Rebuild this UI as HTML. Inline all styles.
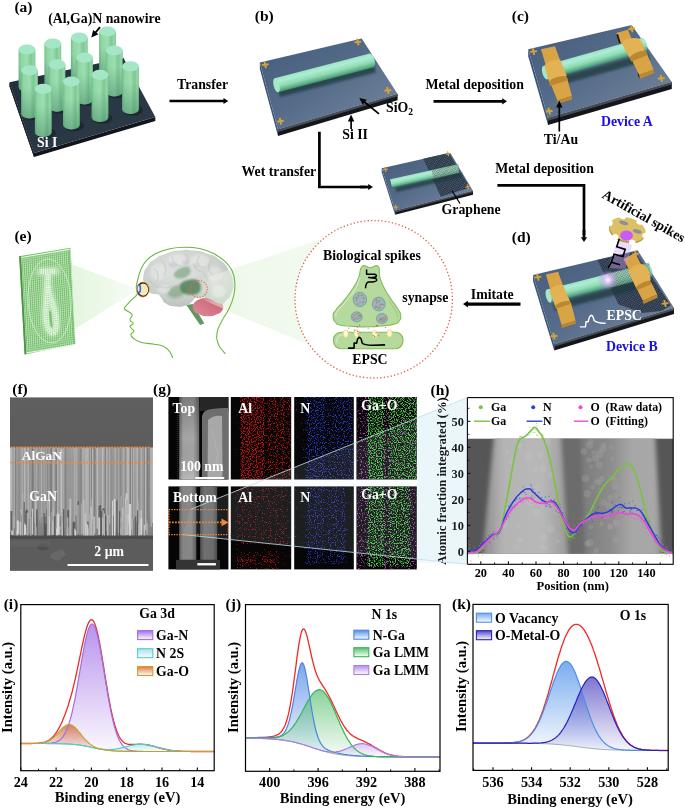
<!DOCTYPE html>
<html><head><meta charset="utf-8"><title>Figure</title>
<style>html,body{margin:0;padding:0;background:#fff}svg{display:block}text{font-family:'Liberation Serif', serif;white-space:pre}</style>
</head><body>
<svg width="685" height="808" viewBox="0 0 685 808">
<defs>
<linearGradient id="cylg" x1="0" x2="1" y1="0" y2="0">
 <stop offset="0" stop-color="#72be8c"/><stop offset="0.15" stop-color="#90d6a4"/><stop offset="0.5" stop-color="#9cdeb0"/><stop offset="0.74" stop-color="#7ec894"/><stop offset="0.9" stop-color="#94daa8"/><stop offset="1" stop-color="#78c290"/>
</linearGradient>
<linearGradient id="rodg" x1="0" x2="0" y1="0" y2="1">
 <stop offset="0" stop-color="#9fe3c4"/><stop offset="0.25" stop-color="#aceed2"/><stop offset="0.6" stop-color="#90dab6"/><stop offset="0.85" stop-color="#60b38c"/><stop offset="1" stop-color="#3f8d68"/>
</linearGradient>
<linearGradient id="plateg" x1="0" x2="1" y1="0" y2="1"><stop offset="0" stop-color="#465c7c"/><stop offset="0.45" stop-color="#536a88"/><stop offset="0.8" stop-color="#6c7e98"/><stop offset="1" stop-color="#8290a4"/></linearGradient>
<linearGradient id="goldg" x1="0" x2="1" y1="0" y2="0">
 <stop offset="0" stop-color="#c8943a"/><stop offset="0.5" stop-color="#dcaa4a"/><stop offset="1" stop-color="#c08a34"/>
</linearGradient>
<linearGradient id="cone1" x1="0" x2="1"><stop offset="0" stop-color="#e4f5de"/><stop offset="1" stop-color="#f6fcf4"/></linearGradient><linearGradient id="cone2" x1="0" x2="1"><stop offset="0" stop-color="#edf8e9"/><stop offset="1" stop-color="#f2faef"/></linearGradient><filter id="blur1" x="-30%" y="-30%" width="160%" height="160%"><feGaussianBlur stdDeviation="1.6"/></filter><radialGradient id="brg" cx="0.4" cy="0.35" r="0.7"><stop offset="0" stop-color="#e1e4e1"/><stop offset="0.7" stop-color="#cacecb"/><stop offset="1" stop-color="#b8beba"/></radialGradient><filter id="blur2" x="-30%" y="-30%" width="160%" height="160%"><feGaussianBlur stdDeviation="1.1"/></filter><linearGradient id="cbl" x1="0" x2="1" y1="1" y2="0"><stop offset="0" stop-color="#df8d99"/><stop offset="1" stop-color="#c85c70"/></linearGradient><linearGradient id="cone3" x1="0" x2="1"><stop offset="0" stop-color="#e6f5e1" stop-opacity="0"/><stop offset="0.35" stop-color="#edf8e9" stop-opacity="0.45"/><stop offset="1" stop-color="#edf8e9" stop-opacity="0.55"/></linearGradient><linearGradient id="cylsh" x1="0" x2="0" y1="0" y2="1"><stop offset="0.35" stop-color="#2a6a50" stop-opacity="0"/><stop offset="1" stop-color="#2a6a50" stop-opacity="0.38"/></linearGradient><linearGradient id="plA" x1="0" x2="1" y1="0" y2="1"><stop offset="0" stop-color="#1f2b38"/><stop offset="0.6" stop-color="#2a3744"/><stop offset="1" stop-color="#2e3d46"/></linearGradient><pattern id="gp1" width="2.7" height="2.43" patternUnits="userSpaceOnUse" patternTransform="rotate(-14)"><rect width="2.7" height="2.43" fill="#546a86"/><circle cx="1.35" cy="1.22" r="0.89" fill="none" stroke="#12161d" stroke-width="0.75"/></pattern><pattern id="gp1b" width="2.7" height="2.43" patternUnits="userSpaceOnUse" patternTransform="rotate(-14)"><circle cx="1.35" cy="1.22" r="0.89" fill="none" stroke="#123028" stroke-width="0.45"/></pattern><pattern id="gp2" width="2.9" height="2.61" patternUnits="userSpaceOnUse" patternTransform="rotate(-14)"><rect width="2.9" height="2.61" fill="#546a86"/><circle cx="1.45" cy="1.30" r="0.96" fill="none" stroke="#12161d" stroke-width="0.85"/></pattern><pattern id="gp2b" width="2.9" height="2.61" patternUnits="userSpaceOnUse" patternTransform="rotate(-14)"><circle cx="1.45" cy="1.30" r="0.96" fill="none" stroke="#123028" stroke-width="0.5"/></pattern><radialGradient id="glow"><stop offset="0" stop-color="#fff"/><stop offset="0.22" stop-color="#f0d0ff" stop-opacity="0.95"/><stop offset="1" stop-color="#c070f0" stop-opacity="0"/></radialGradient><clipPath id="cf"><rect x="10" y="397.2" width="143" height="173.59999999999997"/></clipPath><linearGradient id="semtop" x1="0" x2="0" y1="0" y2="1"><stop offset="0" stop-color="#5f5f5f"/><stop offset="1" stop-color="#575757"/></linearGradient><linearGradient id="semw" x1="0" x2="0" y1="0" y2="1"><stop offset="0" stop-color="#a2a2a2"/><stop offset="0.18" stop-color="#969696"/><stop offset="0.7" stop-color="#8c8c8c"/><stop offset="1" stop-color="#808080"/></linearGradient><clipPath id="ch"><rect x="467.4" y="438.4" width="205.8" height="115.4"/></clipPath><filter id="blur3" x="-10%" y="-10%" width="120%" height="120%"><feGaussianBlur stdDeviation="2.2"/></filter><linearGradient id="hw1" x1="0" x2="1"><stop offset="0" stop-color="#8c8c8c"/><stop offset="0.25" stop-color="#b4b4b4"/><stop offset="0.7" stop-color="#b8b8b8"/><stop offset="1" stop-color="#9a9a9a"/></linearGradient><linearGradient id="hw2" x1="0" x2="1"><stop offset="0" stop-color="#7c7c7c"/><stop offset="0.4" stop-color="#8e8e8e"/><stop offset="0.6" stop-color="#a6a6a6"/><stop offset="0.9" stop-color="#a8a8a8"/><stop offset="1" stop-color="#909090"/></linearGradient><linearGradient id="temw" x1="0" x2="1"><stop offset="0" stop-color="#6c6c6c"/><stop offset="0.2" stop-color="#a4a4a4"/><stop offset="0.7" stop-color="#a8a8a8"/><stop offset="1" stop-color="#707070"/></linearGradient><linearGradient id="temw2" x1="0" x2="1"><stop offset="0" stop-color="#4c4c4c"/><stop offset="0.25" stop-color="#707070"/><stop offset="0.75" stop-color="#6c6c6c"/><stop offset="1" stop-color="#484848"/></linearGradient><linearGradient id="temv" x1="0" x2="0" y1="0" y2="1"><stop offset="0" stop-color="#000" stop-opacity="0.25"/><stop offset="0.5" stop-color="#000" stop-opacity="0"/><stop offset="1" stop-color="#fff" stop-opacity="0.22"/></linearGradient><filter id="nzR" x="0" y="0" width="1" height="1" color-interpolation-filters="sRGB"><feTurbulence type="fractalNoise" baseFrequency="0.85" numOctaves="1" seed="1" result="n"/><feComposite in="n" in2="SourceGraphic" operator="arithmetic" k1="0" k2="7" k3="2.2" k4="-5.2" result="a"/><feFlood flood-color="#b41414" result="f"/><feComposite in="f" in2="a" operator="in"/></filter><filter id="nzR2" x="0" y="0" width="1" height="1" color-interpolation-filters="sRGB"><feTurbulence type="fractalNoise" baseFrequency="0.85" numOctaves="1" seed="2" result="n"/><feComposite in="n" in2="SourceGraphic" operator="arithmetic" k1="0" k2="7" k3="2.2" k4="-5.2" result="a"/><feFlood flood-color="#a01414" result="f"/><feComposite in="f" in2="a" operator="in"/></filter><filter id="nzB" x="0" y="0" width="1" height="1" color-interpolation-filters="sRGB"><feTurbulence type="fractalNoise" baseFrequency="0.85" numOctaves="1" seed="3" result="n"/><feComposite in="n" in2="SourceGraphic" operator="arithmetic" k1="0" k2="7" k3="2.2" k4="-5.2" result="a"/><feFlood flood-color="#2a36c4" result="f"/><feComposite in="f" in2="a" operator="in"/></filter><filter id="nzB2" x="0" y="0" width="1" height="1" color-interpolation-filters="sRGB"><feTurbulence type="fractalNoise" baseFrequency="0.85" numOctaves="1" seed="4" result="n"/><feComposite in="n" in2="SourceGraphic" operator="arithmetic" k1="0" k2="7" k3="2.2" k4="-5.2" result="a"/><feFlood flood-color="#2632b4" result="f"/><feComposite in="f" in2="a" operator="in"/></filter><filter id="nzG" x="0" y="0" width="1" height="1" color-interpolation-filters="sRGB"><feTurbulence type="fractalNoise" baseFrequency="0.85" numOctaves="1" seed="5" result="n"/><feComposite in="n" in2="SourceGraphic" operator="arithmetic" k1="0" k2="7" k3="2.2" k4="-5.2" result="a"/><feFlood flood-color="#3cc83c" result="f"/><feComposite in="f" in2="a" operator="in"/></filter><filter id="nzG2" x="0" y="0" width="1" height="1" color-interpolation-filters="sRGB"><feTurbulence type="fractalNoise" baseFrequency="0.85" numOctaves="1" seed="7" result="n"/><feComposite in="n" in2="SourceGraphic" operator="arithmetic" k1="0" k2="7" k3="2.2" k4="-5.2" result="a"/><feFlood flood-color="#3cc83c" result="f"/><feComposite in="f" in2="a" operator="in"/></filter><filter id="nzM" x="0" y="0" width="1" height="1" color-interpolation-filters="sRGB"><feTurbulence type="fractalNoise" baseFrequency="0.75" numOctaves="1" seed="6" result="n"/><feComposite in="n" in2="SourceGraphic" operator="arithmetic" k1="0" k2="7" k3="2.2" k4="-5.2" result="a"/><feFlood flood-color="#c838c8" result="f"/><feComposite in="f" in2="a" operator="in"/></filter><filter id="nzM2" x="0" y="0" width="1" height="1" color-interpolation-filters="sRGB"><feTurbulence type="fractalNoise" baseFrequency="0.75" numOctaves="1" seed="8" result="n"/><feComposite in="n" in2="SourceGraphic" operator="arithmetic" k1="0" k2="7" k3="2.2" k4="-5.2" result="a"/><feFlood flood-color="#c838c8" result="f"/><feComposite in="f" in2="a" operator="in"/></filter><linearGradient id="edg1" x1="0" x2="1"><stop offset="0" stop-color="#000" stop-opacity="0.1"/><stop offset="0.13" stop-color="#000" stop-opacity="0.15"/><stop offset="0.17" stop-color="#000" stop-opacity="0.86"/><stop offset="0.54" stop-color="#000" stop-opacity="0.86"/><stop offset="0.58" stop-color="#000" stop-opacity="0.45"/><stop offset="0.63" stop-color="#000" stop-opacity="0.7"/><stop offset="0.97" stop-color="#000" stop-opacity="0.7"/><stop offset="1" stop-color="#000" stop-opacity="0.3"/></linearGradient><linearGradient id="edg2" x1="0" x2="1"><stop offset="0" stop-color="#000" stop-opacity="0.15"/><stop offset="0.15" stop-color="#000" stop-opacity="0.2"/><stop offset="0.22" stop-color="#000" stop-opacity="0.72"/><stop offset="0.5" stop-color="#000" stop-opacity="0.74"/><stop offset="0.58" stop-color="#000" stop-opacity="0.55"/><stop offset="0.66" stop-color="#000" stop-opacity="0.68"/><stop offset="1" stop-color="#000" stop-opacity="0.68"/></linearGradient><linearGradient id="edg3" x1="0" x2="1"><stop offset="0" stop-color="#000" stop-opacity="0.15"/><stop offset="0.15" stop-color="#000" stop-opacity="0.2"/><stop offset="0.22" stop-color="#000" stop-opacity="0.68"/><stop offset="0.46" stop-color="#000" stop-opacity="0.68"/><stop offset="0.52" stop-color="#000" stop-opacity="0.48"/><stop offset="0.58" stop-color="#000" stop-opacity="0.66"/><stop offset="0.85" stop-color="#000" stop-opacity="0.66"/><stop offset="0.92" stop-color="#000" stop-opacity="0.2"/><stop offset="1" stop-color="#000" stop-opacity="0.15"/></linearGradient><linearGradient id="edg4" x1="0" x2="1"><stop offset="0" stop-color="#000" stop-opacity="0.35"/><stop offset="0.08" stop-color="#000" stop-opacity="0.6"/><stop offset="0.2" stop-color="#000" stop-opacity="0.55"/><stop offset="0.3" stop-color="#000" stop-opacity="0.42"/><stop offset="0.45" stop-color="#000" stop-opacity="0.6"/><stop offset="0.55" stop-color="#000" stop-opacity="0.6"/><stop offset="0.65" stop-color="#000" stop-opacity="0.45"/><stop offset="1" stop-color="#000" stop-opacity="0.5"/></linearGradient><linearGradient id="edg5" x1="0" x2="1"><stop offset="0" stop-color="#000" stop-opacity="0.1"/><stop offset="0.14" stop-color="#000" stop-opacity="0.15"/><stop offset="0.2" stop-color="#000" stop-opacity="0.86"/><stop offset="0.42" stop-color="#000" stop-opacity="0.86"/><stop offset="0.5" stop-color="#000" stop-opacity="0.5"/><stop offset="0.58" stop-color="#000" stop-opacity="0.82"/><stop offset="1" stop-color="#000" stop-opacity="0.82"/></linearGradient><linearGradient id="edg6" x1="0" x2="1"><stop offset="0" stop-color="#000" stop-opacity="0.4"/><stop offset="0.06" stop-color="#000" stop-opacity="0.62"/><stop offset="0.18" stop-color="#000" stop-opacity="0.55"/><stop offset="0.3" stop-color="#000" stop-opacity="0.42"/><stop offset="0.46" stop-color="#000" stop-opacity="0.6"/><stop offset="0.56" stop-color="#000" stop-opacity="0.6"/><stop offset="0.66" stop-color="#000" stop-opacity="0.42"/><stop offset="0.84" stop-color="#000" stop-opacity="0.5"/><stop offset="0.92" stop-color="#000" stop-opacity="0.62"/><stop offset="1" stop-color="#000" stop-opacity="0.5"/></linearGradient><linearGradient id="edg7" x1="0" x2="1"><stop offset="0" stop-color="#000" stop-opacity="0.1"/><stop offset="0.12" stop-color="#000" stop-opacity="0.15"/><stop offset="0.2" stop-color="#000" stop-opacity="0.8"/><stop offset="0.45" stop-color="#000" stop-opacity="0.8"/><stop offset="0.51" stop-color="#000" stop-opacity="0.48"/><stop offset="0.57" stop-color="#000" stop-opacity="0.78"/><stop offset="0.86" stop-color="#000" stop-opacity="0.76"/><stop offset="0.93" stop-color="#000" stop-opacity="0.2"/><stop offset="1" stop-color="#000" stop-opacity="0.1"/></linearGradient><linearGradient id="gGaN" x1="0" x2="0" y1="0" y2="1"><stop offset="0" stop-color="#a878e8" stop-opacity="0.8"/><stop offset="1" stop-color="#a878e8" stop-opacity="0.05"/></linearGradient><linearGradient id="gN2S" x1="0" x2="0" y1="0" y2="1"><stop offset="0" stop-color="#7fe0dc" stop-opacity="0.6"/><stop offset="1" stop-color="#7fe0dc" stop-opacity="0.05"/></linearGradient><linearGradient id="gGaO" x1="0" x2="0" y1="0" y2="1"><stop offset="0" stop-color="#d07448" stop-opacity="0.85"/><stop offset="1" stop-color="#d07448" stop-opacity="0.05"/></linearGradient><linearGradient id="sw_gGaN" x1="0" x2="0" y1="0" y2="1"><stop offset="0" stop-color="#9a68ee" stop-opacity="0.95"/><stop offset="1" stop-color="#9a68ee" stop-opacity="0.02"/></linearGradient><linearGradient id="sw_gN2S" x1="0" x2="0" y1="0" y2="1"><stop offset="0" stop-color="#a4dcf2" stop-opacity="0.95"/><stop offset="1" stop-color="#a4dcf2" stop-opacity="0.02"/></linearGradient><linearGradient id="sw_gGaO" x1="0" x2="0" y1="0" y2="1"><stop offset="0" stop-color="#e0703c" stop-opacity="0.95"/><stop offset="1" stop-color="#e0703c" stop-opacity="0.02"/></linearGradient><linearGradient id="gNGa" x1="0" x2="0" y1="0" y2="1"><stop offset="0" stop-color="#5a90e8" stop-opacity="0.8"/><stop offset="1" stop-color="#5a90e8" stop-opacity="0.05"/></linearGradient><linearGradient id="gLMM1" x1="0" x2="0" y1="0" y2="1"><stop offset="0" stop-color="#58c070" stop-opacity="0.7"/><stop offset="1" stop-color="#58c070" stop-opacity="0.05"/></linearGradient><linearGradient id="gLMM2" x1="0" x2="0" y1="0" y2="1"><stop offset="0" stop-color="#b890e8" stop-opacity="0.7"/><stop offset="1" stop-color="#b890e8" stop-opacity="0.05"/></linearGradient><linearGradient id="sw_gNGa" x1="0" x2="0" y1="0" y2="1"><stop offset="0" stop-color="#4a86e8" stop-opacity="0.95"/><stop offset="1" stop-color="#4a86e8" stop-opacity="0.02"/></linearGradient><linearGradient id="sw_gLMM1" x1="0" x2="0" y1="0" y2="1"><stop offset="0" stop-color="#48c068" stop-opacity="0.95"/><stop offset="1" stop-color="#48c068" stop-opacity="0.02"/></linearGradient><linearGradient id="sw_gLMM2" x1="0" x2="0" y1="0" y2="1"><stop offset="0" stop-color="#b088e8" stop-opacity="0.95"/><stop offset="1" stop-color="#b088e8" stop-opacity="0.02"/></linearGradient><linearGradient id="gOv" x1="0" x2="0" y1="0" y2="1"><stop offset="0" stop-color="#5a98ec" stop-opacity="0.8"/><stop offset="1" stop-color="#5a98ec" stop-opacity="0.05"/></linearGradient><linearGradient id="gOm" x1="0" x2="0" y1="0" y2="1"><stop offset="0" stop-color="#5048c0" stop-opacity="0.75"/><stop offset="1" stop-color="#5048c0" stop-opacity="0.05"/></linearGradient><linearGradient id="sw_gOv" x1="0" x2="0" y1="0" y2="1"><stop offset="0" stop-color="#6aa4f2" stop-opacity="0.95"/><stop offset="1" stop-color="#6aa4f2" stop-opacity="0.02"/></linearGradient><linearGradient id="sw_gOm" x1="0" x2="0" y1="0" y2="1"><stop offset="0" stop-color="#4840c4" stop-opacity="0.95"/><stop offset="1" stop-color="#4840c4" stop-opacity="0.02"/></linearGradient></defs>
<rect width="685" height="808" fill="#fff"/>
<text x="23.0" y="241.3" font-size="15.5" fill="#000" text-anchor="middle" font-weight="bold" >(e)</text>
<polygon points="71.5,264.0 138.0,289.5 75.0,329.0" fill="url(#cone1)"/>
<polygon points="196.0,281.0 325.0,238.0 310.0,345.0 196.0,298.0" fill="url(#cone2)"/>
<circle cx="373.7" cy="299.3" r="78.7" fill="#fff"/>
<polygon points="19.2,256.3 70.6,247.7 75.4,344.0 24.6,354.4" fill="#6cb965"/>
<g transform="matrix(51.400,-8.600,5.400,98.100,19.20,256.30)">
<path d="M0.0692,0.02V0.985M0.1083,0.02V0.985M0.1475,0.02V0.985M0.1867,0.02V0.985M0.2258,0.02V0.985M0.2650,0.02V0.985M0.3042,0.02V0.985M0.3433,0.02V0.985M0.3825,0.02V0.985M0.4217,0.02V0.985M0.4608,0.02V0.985M0.5000,0.02V0.985M0.5392,0.02V0.985M0.5783,0.02V0.985M0.6175,0.02V0.985M0.6567,0.02V0.985M0.6958,0.02V0.985M0.7350,0.02V0.985M0.7742,0.02V0.985M0.8133,0.02V0.985M0.8525,0.02V0.985M0.8917,0.02V0.985M0.9308,0.02V0.985" stroke="#d4f0cc" stroke-width="0.013" opacity="0.8" fill="none"/>
<path d="M0.04,0.0370H0.985M0.04,0.0591H0.985M0.04,0.0811H0.985M0.04,0.1032H0.985M0.04,0.1252H0.985M0.04,0.1473H0.985M0.04,0.1693H0.985M0.04,0.1914H0.985M0.04,0.2134H0.985M0.04,0.2355H0.985M0.04,0.2575H0.985M0.04,0.2795H0.985M0.04,0.3016H0.985M0.04,0.3236H0.985M0.04,0.3457H0.985M0.04,0.3677H0.985M0.04,0.3898H0.985M0.04,0.4118H0.985M0.04,0.4339H0.985M0.04,0.4559H0.985M0.04,0.4780H0.985M0.04,0.5000H0.985M0.04,0.5220H0.985M0.04,0.5441H0.985M0.04,0.5661H0.985M0.04,0.5882H0.985M0.04,0.6102H0.985M0.04,0.6323H0.985M0.04,0.6543H0.985M0.04,0.6764H0.985M0.04,0.6984H0.985M0.04,0.7205H0.985M0.04,0.7425H0.985M0.04,0.7645H0.985M0.04,0.7866H0.985M0.04,0.8086H0.985M0.04,0.8307H0.985M0.04,0.8527H0.985M0.04,0.8748H0.985M0.04,0.8968H0.985M0.04,0.9189H0.985M0.04,0.9409H0.985M0.04,0.9630H0.985" stroke="#d4f0cc" stroke-width="0.007" opacity="0.8" fill="none"/>
<rect x="0.035" y="0.015" width="0.955" height="0.972" fill="none" stroke="#e4f7de" stroke-width="0.012"/>
<rect x="0" y="0" width="0.035" height="1" fill="#4c9448"/>
</g>
<ellipse cx="49.6" cy="301" rx="21.5" ry="42" fill="none" stroke="#d8f2d0" stroke-width="0.9" opacity="0.8" transform="rotate(-3 49.6 301)"/>
<path d="M40.5,271.5 L56,271 M48,274 C47.5,284 47,292 46.5,302 C44.5,316 46.5,331 52,332.5 C57.5,333 57,318 53.5,307 C51,299 48.5,293 48,286" fill="none" stroke="#e6fbe0" stroke-width="9" opacity="0.45" filter="url(#blur1)" stroke-linecap="round"/>
<path d="M40.5,271.5 L56,271 M48,274 C47.5,284 47,292 46.5,302 C44.5,316 46.5,331 52,332.5 C57.5,333 57,318 53.5,307 C51,299 48.5,293 48,286" fill="none" stroke="#ffffff" stroke-width="5.2" stroke-dasharray="1.2 1.0" opacity="0.62"/>
<path d="M50,312 L51.5,326" fill="none" stroke="#6ab564" stroke-width="2" opacity="0.8" stroke-linecap="round"/>
<polygon points="186.3,305.1 192.9,304.0 204.3,323.5 200.1,325.0" fill="#5f9960"/>
<ellipse cx="208.0" cy="306.9" rx="15.3" ry="9.4" fill="url(#cbl)"/>
<path d="M144.2,283.3 C143.3,279.1 142.5,280.7 143.4,275.7 C144.4,270.6 143.8,271.4 147.3,266.5 C150.7,261.5 149.4,262.9 154.9,259.1 C160.4,255.3 158.3,256.3 165.7,253.7 C173.0,251.2 171.2,251.5 179.5,250.5 C187.7,249.5 185.0,249.5 193.2,250.4 C201.5,251.2 199.2,250.7 207.0,253.4 C214.9,256.2 212.9,254.7 219.3,259.6 C225.7,264.4 224.4,262.9 228.5,269.5 C232.6,276.2 232.2,274.9 233.1,281.8 C234.0,288.7 233.5,287.0 231.6,292.5 C229.6,298.0 230.0,296.8 226.5,300.2 C223.1,303.5 225.5,304.2 220.1,303.7 C214.7,303.2 215.5,300.5 208.6,298.6 C201.7,296.8 202.0,296.7 197.1,297.6 C192.1,298.5 195.5,299.3 192.0,301.7 C188.6,304.1 190.6,304.1 185.6,305.5 C180.5,307.0 181.0,307.2 175.2,306.6 C169.3,306.0 170.2,306.3 166.0,303.6 C161.7,300.8 163.4,300.2 161.1,297.4 C158.7,294.7 160.8,295.6 158.0,294.4 C155.2,293.2 155.3,294.8 151.9,293.4 C148.4,292.1 148.8,292.8 146.5,289.8 C144.2,286.7 145.1,287.6 144.2,283.3Z" fill="url(#brg)"/>
<path d="M175.2,271.8 C176.3,270.5 178.7,268.5 181.0,267.7 C183.2,266.8 187.1,265.9 188.6,266.8 C190.2,267.6 191.0,270.9 190.5,272.6 C190.0,274.3 187.7,276.2 185.6,277.2 C183.5,278.2 179.8,278.7 177.9,278.4 C176.0,278.2 174.5,276.8 174.1,275.7 C173.6,274.6 174.0,273.2 175.2,271.8Z" fill="#6d9a6e" opacity="0.6" filter="url(#blur2)"/>
<path d="M168.0,291.0 C169.0,289.4 172.4,287.0 174.9,286.1 C177.3,285.1 180.7,284.3 182.5,285.2 C184.3,286.0 185.8,289.1 185.6,291.0 C185.3,292.8 183.0,295.2 181.0,296.3 C178.9,297.5 175.4,298.0 173.3,297.9 C171.2,297.8 169.3,296.7 168.4,295.6 C167.5,294.4 166.9,292.6 168.0,291.0Z" fill="#6d9a6e" opacity="0.55" filter="url(#blur2)"/>
<path d="M181.0,283.3 C182.1,281.5 185.5,280.6 187.9,279.9 C190.3,279.3 193.5,279.1 195.5,279.6 C197.6,280.2 199.3,281.6 200.1,283.3 C201.0,285.1 201.4,288.4 200.6,290.2 C199.8,292.1 197.8,293.7 195.5,294.4 C193.3,295.0 189.5,294.9 187.1,294.4 C184.7,293.8 182.0,292.8 181.0,291.0 C180.0,289.1 179.8,285.2 181.0,283.3Z" fill="#55805a" opacity="0.85" filter="url(#blur2)"/>
<ellipse cx="158.0" cy="272.3" rx="7.6" ry="8.5" fill="#e8ebe8" opacity="0.55" filter="url(#blur2)"/>
<ellipse cx="176.9" cy="259.0" rx="8.5" ry="5.3" fill="#e8ebe8" opacity="0.55" filter="url(#blur2)"/>
<ellipse cx="199.7" cy="260.9" rx="9.5" ry="6.6" fill="#e8ebe8" opacity="0.55" filter="url(#blur2)"/>
<ellipse cx="214.9" cy="274.2" rx="7.6" ry="7.6" fill="#e8ebe8" opacity="0.55" filter="url(#blur2)"/>
<ellipse cx="163.7" cy="289.3" rx="6.6" ry="4.2" fill="#e8ebe8" opacity="0.55" filter="url(#blur2)"/>
<ellipse cx="218.7" cy="291.2" rx="6.6" ry="6.6" fill="#e8ebe8" opacity="0.55" filter="url(#blur2)"/>
<path d="M153.4,268.0 C154.8,269.8 157.1,270.0 158.0,274.1 C158.9,278.3 156.9,279.5 156.5,281.8" fill="none" stroke="#a9b0ab" stroke-width="0.7" opacity="0.55"/>
<path d="M161.1,260.3 C162.4,262.6 165.0,263.4 165.7,268.0 C166.3,272.6 164.0,273.4 163.4,275.7" fill="none" stroke="#a9b0ab" stroke-width="0.7" opacity="0.55"/>
<path d="M171.8,255.7 C172.7,258.0 172.1,260.4 174.9,263.4 C177.6,266.4 179.1,265.0 181.0,265.7" fill="none" stroke="#a9b0ab" stroke-width="0.7" opacity="0.55"/>
<path d="M185.6,253.4 C186.3,255.5 188.3,256.9 187.9,260.3 C187.4,263.8 185.2,263.5 184.0,264.9" fill="none" stroke="#a9b0ab" stroke-width="0.7" opacity="0.55"/>
<path d="M199.4,255.7 C198.9,258.0 196.5,259.7 197.8,263.4 C199.2,267.1 202.1,266.6 204.0,268.0" fill="none" stroke="#a9b0ab" stroke-width="0.7" opacity="0.55"/>
<path d="M211.6,260.3 C210.7,262.6 208.1,263.4 208.6,268.0 C209.0,272.6 211.8,273.4 213.2,275.7" fill="none" stroke="#a9b0ab" stroke-width="0.7" opacity="0.55"/>
<path d="M220.8,271.1 C219.9,273.4 217.3,274.1 217.8,278.7 C218.2,283.3 221.0,284.1 222.4,286.4" fill="none" stroke="#a9b0ab" stroke-width="0.7" opacity="0.55"/>
<path d="M158.0,284.9 C160.3,285.8 161.5,287.9 165.7,287.9 C169.8,287.9 169.9,285.8 171.8,284.9" fill="none" stroke="#a9b0ab" stroke-width="0.7" opacity="0.55"/>
<path d="M165.7,295.6 C168.4,296.5 169.3,298.2 174.9,298.6 C180.4,299.1 181.3,297.6 184.0,297.1" fill="none" stroke="#a9b0ab" stroke-width="0.7" opacity="0.55"/>
<path d="M202.4,272.6 C203.8,274.4 206.6,275.5 207.0,278.7 C207.5,281.9 204.9,281.9 204.0,283.3" fill="none" stroke="#a9b0ab" stroke-width="0.7" opacity="0.55"/>
<path d="M148.8,278.7 C150.2,280.6 150.2,282.1 153.4,284.9 C156.6,287.6 157.7,287.0 159.5,287.9" fill="none" stroke="#a9b0ab" stroke-width="0.7" opacity="0.55"/>
<path d="M193.2,263.4 C194.2,265.2 193.6,267.2 196.3,269.5 C199.1,271.8 200.6,270.6 202.4,271.1" fill="none" stroke="#a9b0ab" stroke-width="0.7" opacity="0.55"/>
<ellipse cx="173.3" cy="264.9" rx="4.3" ry="2.8" fill="#c9b6cf" opacity="0.45" filter="url(#blur2)"/>
<ellipse cx="186.3" cy="262.6" rx="3.8" ry="2.3" fill="#c9b6cf" opacity="0.45" filter="url(#blur2)"/>
<ellipse cx="196.3" cy="265.7" rx="3.4" ry="2.3" fill="#c9b6cf" opacity="0.45" filter="url(#blur2)"/>
<polygon points="198.0,281.0 240.0,266.0 240.0,316.0 198.0,297.5" fill="url(#cone3)"/>
<circle cx="198.8" cy="289" r="8.5" fill="none" stroke="#e06a50" stroke-width="1.2" stroke-dasharray="1.3 1.5"/>
<path d="M172.8,358.0 C172.3,357.0 171.3,353.6 169.7,351.6 C168.1,349.6 165.9,347.5 163.3,346.3 C160.7,345.0 157.8,344.8 154.2,344.2 C150.5,343.6 144.7,343.4 141.3,342.5 C137.8,341.6 135.4,340.1 133.7,338.7 C131.9,337.3 130.8,335.4 130.8,334.1 C130.9,332.9 134.2,332.4 134.0,331.1 C133.9,329.8 130.0,327.8 129.9,326.5 C129.7,325.3 133.3,324.6 133.3,323.5 C133.3,322.4 130.1,321.2 129.9,319.7 C129.7,318.2 133.0,316.1 132.1,314.4 C131.3,312.7 126.1,310.7 124.9,309.5 C123.7,308.3 124.0,308.6 124.9,307.2 C125.9,305.7 128.6,302.9 130.6,300.7 C132.7,298.6 136.1,296.6 137.1,294.3 C138.0,291.9 136.1,289.4 136.3,286.7 C136.5,284.0 137.4,281.0 138.2,278.0 C139.0,274.9 139.8,271.5 141.3,268.5 C142.7,265.5 144.4,262.5 147.0,259.9 C149.5,257.4 152.6,255.2 156.4,253.3 C160.2,251.4 165.0,249.7 169.7,248.7 C174.4,247.7 179.5,247.2 184.5,247.2 C189.5,247.2 195.0,247.5 199.7,248.5 C204.5,249.6 208.9,251.2 213.0,253.3 C217.1,255.3 221.2,258.0 224.4,260.9 C227.5,263.7 230.2,266.8 232.0,270.4 C233.7,273.9 234.5,278.0 234.8,282.1 C235.1,286.2 234.8,290.7 233.9,295.0 C233.0,299.4 231.2,304.2 229.3,308.3 C227.4,312.4 224.4,316.2 222.5,319.7 C220.6,323.2 218.9,326.0 217.9,329.2 C217.0,332.4 216.5,335.8 216.8,338.7 C217.1,341.6 218.2,344.1 219.6,346.7 C221.1,349.2 224.4,352.7 225.3,353.9" fill="none" stroke="#6db644" stroke-width="1.1"/>
<ellipse cx="142.9" cy="289.6" rx="6.6" ry="7.8" fill="#e57a35"/>
<ellipse cx="142.9" cy="289.6" rx="5.8" ry="7.0" fill="#151515"/>
<ellipse cx="143.2" cy="289.6" rx="5.0" ry="6.2" fill="#f1e9b9"/>
<ellipse cx="139.3" cy="288.8" rx="1.9" ry="4.2" fill="#3a6fd0"/>
<ellipse cx="138.5" cy="288.8" rx="1.0" ry="3.0" fill="#e4eefa"/>
<circle cx="373.7" cy="299.3" r="78.7" fill="none" stroke="#dc5f48" stroke-width="1.3" stroke-dasharray="1.3 2.2"/>
<text x="371.9" y="260.0" font-size="13.8" fill="#000" text-anchor="middle" font-weight="bold" >Biological spikes</text>
<text x="402.3" y="301.9" font-size="13.8" fill="#000" text-anchor="start" font-weight="bold" >synapse</text>
<text x="369.9" y="363.8" font-size="13.8" fill="#000" text-anchor="middle" font-weight="bold" >EPSC</text>
<path d="M362.1,266.5 C365.6,263.5 365.4,267.7 370.2,267.7 C375.0,267.7 375.3,263.7 378.2,266.5 C381.1,269.3 378.0,270.5 379.8,277.0 C381.7,283.5 381.0,281.7 384.3,288.2 C387.6,294.8 386.7,292.4 390.8,298.7 C394.9,305.0 395.0,304.1 398.0,309.2 C401.0,314.2 400.4,312.0 400.7,315.6 C401.1,319.2 401.4,318.6 399.1,321.2 C396.9,323.9 397.6,323.1 393.2,324.4 C388.7,325.7 391.8,324.8 384.3,325.6 C376.9,326.3 377.9,326.7 368.2,326.8 C358.6,327.0 360.4,326.7 352.2,326.2 C344.0,325.7 346.0,326.5 340.9,325.2 C335.8,324.0 337.6,324.9 335.3,322.0 C333.0,319.1 333.0,319.2 333.2,315.6 C333.3,312.0 332.5,314.5 335.8,310.0 C339.0,305.4 339.0,306.8 344.1,300.3 C349.3,293.8 348.6,295.0 353.0,288.2 C357.3,281.5 355.8,284.3 358.6,277.8 C361.3,271.3 358.7,269.6 362.1,266.5Z" fill="#b6da9e" stroke="#84bd5a" stroke-width="1.1"/>
<path d="M360.2,277.0 C358.5,280.8 358.9,282.4 354.6,289.9 C350.2,297.3 350.8,295.6 345.7,301.9 C340.7,308.2 340.7,306.4 337.7,310.8 C334.7,315.1 336.3,314.7 335.8,316.4" fill="none" stroke="#e6f4da" stroke-width="0.8"/>
<path d="M389.2,301.1 C391.1,304.0 393.1,305.9 395.6,310.8 C398.1,315.6 396.9,315.3 397.5,317.2" fill="none" stroke="#9cc87a" stroke-width="1"/>
<rect x="333.5" y="332.3" width="69.5" height="16.4" rx="7.5" ry="7.5" fill="#b6da9e" stroke="#84bd5a" stroke-width="1.1"/>
<path d="M336.9,342.9 C337.1,341.2 336.0,339.7 337.7,337.3 C339.4,334.9 341.1,335.6 342.5,334.9" fill="none" stroke="#e6f4da" stroke-width="0.8"/>
<ellipse cx="359.9" cy="299.5" rx="6.8" ry="7.2" fill="#9ab6bb" stroke="#6a929c" stroke-width="0.7"/>
<circle cx="362.1" cy="295.5" r="0.75" fill="#b07f72"/>
<circle cx="361.2" cy="295.1" r="0.75" fill="#b07f72"/>
<circle cx="358.6" cy="295.2" r="0.75" fill="#b07f72"/>
<circle cx="357.8" cy="304.0" r="0.75" fill="#b07f72"/>
<circle cx="358.6" cy="296.0" r="0.75" fill="#b07f72"/>
<circle cx="363.3" cy="301.7" r="0.75" fill="#b07f72"/>
<circle cx="363.1" cy="302.2" r="0.75" fill="#b07f72"/>
<circle cx="363.5" cy="298.1" r="0.75" fill="#b07f72"/>
<circle cx="364.0" cy="298.8" r="0.75" fill="#b07f72"/>
<circle cx="360.0" cy="302.4" r="0.75" fill="#b07f72"/>
<circle cx="356.2" cy="297.4" r="0.75" fill="#b07f72"/>
<circle cx="356.1" cy="298.2" r="0.75" fill="#b07f72"/>
<circle cx="356.6" cy="300.5" r="0.75" fill="#b07f72"/>
<circle cx="357.0" cy="297.9" r="0.75" fill="#b07f72"/>
<ellipse cx="378.7" cy="304.0" rx="6.4" ry="6.9" fill="#9ab6bb" stroke="#6a929c" stroke-width="0.7"/>
<circle cx="376.6" cy="299.5" r="0.75" fill="#b07f72"/>
<circle cx="378.9" cy="301.2" r="0.75" fill="#b07f72"/>
<circle cx="379.7" cy="307.0" r="0.75" fill="#b07f72"/>
<circle cx="376.0" cy="306.5" r="0.75" fill="#b07f72"/>
<circle cx="382.8" cy="304.8" r="0.75" fill="#b07f72"/>
<circle cx="381.9" cy="304.3" r="0.75" fill="#b07f72"/>
<circle cx="376.6" cy="302.4" r="0.75" fill="#b07f72"/>
<circle cx="375.5" cy="306.9" r="0.75" fill="#b07f72"/>
<circle cx="376.8" cy="302.7" r="0.75" fill="#b07f72"/>
<circle cx="376.1" cy="300.2" r="0.75" fill="#b07f72"/>
<circle cx="379.3" cy="301.2" r="0.75" fill="#b07f72"/>
<circle cx="380.5" cy="304.5" r="0.75" fill="#b07f72"/>
<circle cx="377.0" cy="307.3" r="0.75" fill="#b07f72"/>
<circle cx="379.0" cy="308.6" r="0.75" fill="#b07f72"/>
<ellipse cx="356.7" cy="316.9" rx="5.5" ry="5.1" fill="#9ab6bb" stroke="#6a929c" stroke-width="0.7"/>
<circle cx="359.7" cy="315.3" r="0.75" fill="#b07f72"/>
<circle cx="357.0" cy="318.7" r="0.75" fill="#b07f72"/>
<circle cx="352.8" cy="317.6" r="0.75" fill="#b07f72"/>
<circle cx="355.8" cy="314.4" r="0.75" fill="#b07f72"/>
<circle cx="358.2" cy="316.5" r="0.75" fill="#b07f72"/>
<circle cx="358.0" cy="313.5" r="0.75" fill="#b07f72"/>
<circle cx="360.5" cy="316.2" r="0.75" fill="#b07f72"/>
<circle cx="358.2" cy="318.4" r="0.75" fill="#b07f72"/>
<circle cx="360.4" cy="315.3" r="0.75" fill="#b07f72"/>
<circle cx="360.4" cy="316.6" r="0.75" fill="#b07f72"/>
<circle cx="354.2" cy="319.5" r="0.75" fill="#b07f72"/>
<circle cx="355.2" cy="317.9" r="0.75" fill="#b07f72"/>
<circle cx="353.7" cy="315.6" r="0.75" fill="#b07f72"/>
<circle cx="359.2" cy="315.2" r="0.75" fill="#b07f72"/>
<ellipse cx="381.9" cy="318.5" rx="5.5" ry="5.0" fill="#9ab6bb" stroke="#6a929c" stroke-width="0.7"/>
<circle cx="385.2" cy="316.9" r="0.75" fill="#b07f72"/>
<circle cx="380.1" cy="319.8" r="0.75" fill="#b07f72"/>
<circle cx="383.6" cy="317.7" r="0.75" fill="#b07f72"/>
<circle cx="379.3" cy="320.8" r="0.75" fill="#b07f72"/>
<circle cx="380.3" cy="318.3" r="0.75" fill="#b07f72"/>
<circle cx="382.1" cy="321.8" r="0.75" fill="#b07f72"/>
<circle cx="380.9" cy="319.1" r="0.75" fill="#b07f72"/>
<circle cx="385.3" cy="318.8" r="0.75" fill="#b07f72"/>
<circle cx="380.0" cy="319.3" r="0.75" fill="#b07f72"/>
<circle cx="383.8" cy="321.1" r="0.75" fill="#b07f72"/>
<circle cx="384.9" cy="320.1" r="0.75" fill="#b07f72"/>
<circle cx="382.1" cy="318.7" r="0.75" fill="#b07f72"/>
<circle cx="382.9" cy="319.2" r="0.75" fill="#b07f72"/>
<circle cx="381.6" cy="320.0" r="0.75" fill="#b07f72"/>
<ellipse cx="345.7" cy="333.6" rx="2.6" ry="3.8" fill="#fdf8cf" stroke="#e6d36a" stroke-width="0.7"/>
<ellipse cx="356.7" cy="333.6" rx="2.6" ry="3.8" fill="#fdf8cf" stroke="#e6d36a" stroke-width="0.7"/>
<ellipse cx="374.7" cy="334.2" rx="2.6" ry="3.8" fill="#fdf8cf" stroke="#e6d36a" stroke-width="0.7"/>
<ellipse cx="389.5" cy="333.3" rx="2.6" ry="3.8" fill="#fdf8cf" stroke="#e6d36a" stroke-width="0.7"/>
<circle cx="358.1" cy="333.8" r="0.7" fill="#b07f72"/>
<circle cx="359.1" cy="336.5" r="0.7" fill="#b07f72"/>
<circle cx="358.7" cy="336.2" r="0.7" fill="#b07f72"/>
<circle cx="354.7" cy="330.0" r="0.7" fill="#b07f72"/>
<circle cx="359.9" cy="332.5" r="0.7" fill="#b07f72"/>
<circle cx="359.6" cy="325.2" r="0.7" fill="#b07f72"/>
<circle cx="357.2" cy="327.0" r="0.7" fill="#b07f72"/>
<circle cx="357.6" cy="331.5" r="0.7" fill="#b07f72"/>
<circle cx="354.7" cy="326.6" r="0.7" fill="#b07f72"/>
<circle cx="374.6" cy="336.2" r="0.7" fill="#b07f72"/>
<circle cx="377.4" cy="325.8" r="0.7" fill="#b07f72"/>
<circle cx="377.6" cy="325.5" r="0.7" fill="#b07f72"/>
<circle cx="376.5" cy="325.4" r="0.7" fill="#b07f72"/>
<circle cx="373.1" cy="335.5" r="0.7" fill="#b07f72"/>
<circle cx="374.3" cy="326.6" r="0.7" fill="#b07f72"/>
<circle cx="378.6" cy="335.6" r="0.7" fill="#b07f72"/>
<circle cx="374.7" cy="336.8" r="0.7" fill="#b07f72"/>
<circle cx="376.1" cy="332.9" r="0.7" fill="#b07f72"/>
<circle cx="348.6" cy="328.1" r="0.7" fill="#b07f72"/>
<circle cx="385.6" cy="327.6" r="0.7" fill="#b07f72"/>
<circle cx="368.2" cy="328.1" r="0.7" fill="#b07f72"/>
<path d="M366.6,269.4 L366.6,274.3 L374.4,274.3 Q376.8,274.6 376.4,276.3 Q376.0,277.8 368.6,277.6 L374.7,278.3 Q377.1,278.6 376.6,280.4 Q376.1,281.8 368.6,282.0 Q365.8,282.3 365.5,288.2" fill="none" stroke="#000" stroke-width="1.5" stroke-linejoin="round"/>
<path d="M348.1,348.1 L354.1,348.1 L354.1,343.1 L356.7,343.1 Q357.3,337.8 359.6,337.5 Q361.2,337.5 362.1,342.9 Q363.7,345.3 373.1,345.3 L385.1,344.9" fill="none" stroke="#000" stroke-width="1.6" stroke-linejoin="round"/>
<polygon points="9.5,82.2 34.0,153.0 155.3,117.0 155.3,121.0 34.0,157.0 9.5,86.2" fill="#12161c"/>
<polygon points="9.5,82.2 34.0,153.0 34.0,157.0 9.5,86.2" fill="#1c2631"/>
<polygon points="9.5,82.2 123.5,58.0 155.3,117.0 34.0,153.0" fill="url(#plA)"/>
<ellipse cx="29.5" cy="88.2" rx="9.9" ry="5.6" fill="#141b22" opacity="0.55"/>
<path d="M18.6,49.5 L18.6,87.0 A8.4,5.1 0 0 0 35.4,87.0 L35.4,49.5 Z" fill="url(#cylg)"/>
<path d="M18.6,49.5 L18.6,87.0 A8.4,5.1 0 0 0 35.4,87.0 L35.4,49.5 Z" fill="url(#cylsh)"/>
<ellipse cx="27.0" cy="49.5" rx="8.4" ry="5.1" fill="#a4e6c6"/>
<ellipse cx="55.3" cy="84.2" rx="9.9" ry="5.6" fill="#141b22" opacity="0.55"/>
<path d="M44.4,43.6 L44.4,83.0 A8.4,5.1 0 0 0 61.2,83.0 L61.2,43.6 Z" fill="url(#cylg)"/>
<path d="M44.4,43.6 L44.4,83.0 A8.4,5.1 0 0 0 61.2,83.0 L61.2,43.6 Z" fill="url(#cylsh)"/>
<ellipse cx="52.8" cy="43.6" rx="8.4" ry="5.1" fill="#a4e6c6"/>
<ellipse cx="81.8" cy="78.2" rx="9.9" ry="5.6" fill="#141b22" opacity="0.55"/>
<path d="M70.9,37.6 L70.9,77.0 A8.4,5.1 0 0 0 87.7,77.0 L87.7,37.6 Z" fill="url(#cylg)"/>
<path d="M70.9,37.6 L70.9,77.0 A8.4,5.1 0 0 0 87.7,77.0 L87.7,37.6 Z" fill="url(#cylsh)"/>
<ellipse cx="79.3" cy="37.6" rx="8.4" ry="5.1" fill="#a4e6c6"/>
<ellipse cx="110.0" cy="73.2" rx="9.9" ry="5.6" fill="#141b22" opacity="0.55"/>
<path d="M99.1,31.5 L99.1,72.0 A8.4,5.1 0 0 0 115.9,72.0 L115.9,31.5 Z" fill="url(#cylg)"/>
<path d="M99.1,31.5 L99.1,72.0 A8.4,5.1 0 0 0 115.9,72.0 L115.9,31.5 Z" fill="url(#cylsh)"/>
<ellipse cx="107.5" cy="31.5" rx="8.4" ry="5.1" fill="#a4e6c6"/>
<ellipse cx="32.0" cy="114.6" rx="9.9" ry="5.6" fill="#141b22" opacity="0.55"/>
<path d="M21.1,70.3 L21.1,113.4 A8.4,5.1 0 0 0 37.9,113.4 L37.9,70.3 Z" fill="url(#cylg)"/>
<path d="M21.1,70.3 L21.1,113.4 A8.4,5.1 0 0 0 37.9,113.4 L37.9,70.3 Z" fill="url(#cylsh)"/>
<ellipse cx="29.5" cy="70.3" rx="8.4" ry="5.1" fill="#a4e6c6"/>
<ellipse cx="59.5" cy="107.9" rx="9.9" ry="5.6" fill="#141b22" opacity="0.55"/>
<path d="M48.6,64.4 L48.6,106.7 A8.4,5.1 0 0 0 65.4,106.7 L65.4,64.4 Z" fill="url(#cylg)"/>
<path d="M48.6,64.4 L48.6,106.7 A8.4,5.1 0 0 0 65.4,106.7 L65.4,64.4 Z" fill="url(#cylsh)"/>
<ellipse cx="57.0" cy="64.4" rx="8.4" ry="5.1" fill="#a4e6c6"/>
<ellipse cx="87.0" cy="100.5" rx="9.9" ry="5.6" fill="#141b22" opacity="0.55"/>
<path d="M76.1,57.7 L76.1,99.3 A8.4,5.1 0 0 0 92.9,99.3 L92.9,57.7 Z" fill="url(#cylg)"/>
<path d="M76.1,57.7 L76.1,99.3 A8.4,5.1 0 0 0 92.9,99.3 L92.9,57.7 Z" fill="url(#cylsh)"/>
<ellipse cx="84.5" cy="57.7" rx="8.4" ry="5.1" fill="#a4e6c6"/>
<ellipse cx="116.8" cy="92.7" rx="9.9" ry="5.6" fill="#141b22" opacity="0.55"/>
<path d="M105.9,50.5 L105.9,91.5 A8.4,5.1 0 0 0 122.7,91.5 L122.7,50.5 Z" fill="url(#cylg)"/>
<path d="M105.9,50.5 L105.9,91.5 A8.4,5.1 0 0 0 122.7,91.5 L122.7,50.5 Z" fill="url(#cylsh)"/>
<ellipse cx="114.3" cy="50.5" rx="8.4" ry="5.1" fill="#a4e6c6"/>
<ellipse cx="45.8" cy="133.2" rx="9.9" ry="5.6" fill="#141b22" opacity="0.55"/>
<path d="M34.9,88.9 L34.9,132.0 A8.4,5.1 0 0 0 51.7,132.0 L51.7,88.9 Z" fill="url(#cylg)"/>
<path d="M34.9,88.9 L34.9,132.0 A8.4,5.1 0 0 0 51.7,132.0 L51.7,88.9 Z" fill="url(#cylsh)"/>
<ellipse cx="43.3" cy="88.9" rx="8.4" ry="5.1" fill="#a4e6c6"/>
<ellipse cx="73.9" cy="125.7" rx="9.9" ry="5.6" fill="#141b22" opacity="0.55"/>
<path d="M63.0,81.5 L63.0,124.5 A8.4,5.1 0 0 0 79.8,124.5 L79.8,81.5 Z" fill="url(#cylg)"/>
<path d="M63.0,81.5 L63.0,124.5 A8.4,5.1 0 0 0 79.8,124.5 L79.8,81.5 Z" fill="url(#cylsh)"/>
<ellipse cx="71.4" cy="81.5" rx="8.4" ry="5.1" fill="#a4e6c6"/>
<ellipse cx="102.5" cy="118.2" rx="9.9" ry="5.6" fill="#141b22" opacity="0.55"/>
<path d="M91.6,74.8 L91.6,117.0 A8.4,5.1 0 0 0 108.4,117.0 L108.4,74.8 Z" fill="url(#cylg)"/>
<path d="M91.6,74.8 L91.6,117.0 A8.4,5.1 0 0 0 108.4,117.0 L108.4,74.8 Z" fill="url(#cylsh)"/>
<ellipse cx="100.0" cy="74.8" rx="8.4" ry="5.1" fill="#a4e6c6"/>
<ellipse cx="133.0" cy="110.2" rx="9.9" ry="5.6" fill="#141b22" opacity="0.55"/>
<path d="M122.1,66.3 L122.1,109.0 A8.4,5.1 0 0 0 138.9,109.0 L138.9,66.3 Z" fill="url(#cylg)"/>
<path d="M122.1,66.3 L122.1,109.0 A8.4,5.1 0 0 0 138.9,109.0 L138.9,66.3 Z" fill="url(#cylsh)"/>
<ellipse cx="130.5" cy="66.3" rx="8.4" ry="5.1" fill="#a4e6c6"/>
<text x="14.4" y="12.4" font-size="15.5" fill="#000" text-anchor="start" font-weight="bold" >(a)</text>
<text x="48.2" y="23.2" font-size="13.8" fill="#000" text-anchor="start" font-weight="bold" >(Al,Ga)N nanowire</text>
<text x="37.0" y="147.0" font-size="13.8" fill="#fff" text-anchor="start" font-weight="bold" >Si I</text>
<line x1="100.0" y1="27.2" x2="95.5" y2="32.5" stroke="#000" stroke-width="1.9"/>
<polygon points="91.3,37.5 93.2,30.0 98.4,34.3" fill="#000"/>
<polygon points="278.0,129.6 397.6,93.9 397.6,100.3 278.0,136.0" fill="#14161a"/>
<polygon points="278.0,129.6 397.6,93.9 397.6,96.3 278.0,132.0" fill="#474c55"/>
<polygon points="259.8,62.4 278.0,129.6 278.0,136.0 259.8,68.8" fill="#41557a"/>
<polygon points="259.8,62.4 361.7,38.5 397.6,93.9 278.0,129.6" fill="url(#plateg)"/>
<g transform="translate(275.0,85.5) rotate(-14.32)"><rect x="2" y="4.3" width="99.1" height="8.0" fill="#1f3a3a" opacity="0.75" filter="url(#blur2)"/></g>
<g transform="translate(276.5,85.2) rotate(-14.57)">
<rect x="0" y="-7.2" width="98.2" height="14.5" fill="url(#rodg)"/>
<ellipse cx="98.2" cy="0" rx="3.2" ry="7.2" fill="url(#rodg)"/>
<ellipse cx="0" cy="0" rx="2.9" ry="7.2" fill="#a4e8c8"/>
</g>
<g transform="translate(265.2,64.7)" stroke="#d6a33c" stroke-width="1.9"><line x1="-3.4" y1="0.41" x2="3.4" y2="-0.41"/><line x1="-0.75" y1="-3.4" x2="0.75" y2="3.4"/></g>
<g transform="translate(357.9,42.0)" stroke="#d6a33c" stroke-width="1.9"><line x1="-3.4" y1="0.41" x2="3.4" y2="-0.41"/><line x1="-0.75" y1="-3.4" x2="0.75" y2="3.4"/></g>
<g transform="translate(387.8,90.4)" stroke="#d6a33c" stroke-width="1.9"><line x1="-3.4" y1="0.41" x2="3.4" y2="-0.41"/><line x1="-0.75" y1="-3.4" x2="0.75" y2="3.4"/></g>
<g transform="translate(280.4,121.2)" stroke="#d6a33c" stroke-width="1.9"><line x1="-3.4" y1="0.41" x2="3.4" y2="-0.41"/><line x1="-0.75" y1="-3.4" x2="0.75" y2="3.4"/></g>
<text x="264.3" y="21.1" font-size="15.5" fill="#000" text-anchor="middle" font-weight="bold" >(b)</text>
<text x="202.5" y="88.5" font-size="13.8" fill="#000" text-anchor="middle" font-weight="bold" >Transfer</text>
<line x1="169.5" y1="101.0" x2="224.0" y2="101.0" stroke="#000" stroke-width="2.7"/>
<polygon points="228.3,101.0 223.5,104.1 223.5,97.9" fill="#000"/>
<text x="386.0" y="111.9" font-size="13.8" fill="#000" text-anchor="start" font-weight="bold" >SiO<tspan font-size="9.5" dy="3">2</tspan></text>
<text x="342.3" y="139.0" font-size="13.8" fill="#000" text-anchor="start" font-weight="bold" >Si II</text>
<line x1="379.0" y1="113.8" x2="364.4" y2="102.0" stroke="#000" stroke-width="1.7"/>
<polygon points="359.3,97.9 366.8,99.8 362.7,104.8" fill="#000"/>
<line x1="351.1" y1="129.0" x2="351.1" y2="121.0" stroke="#000" stroke-width="1.7"/>
<polygon points="351.1,114.5 354.3,121.5 347.9,121.5" fill="#000"/>
<text x="241.5" y="175.5" font-size="13.8" fill="#000" text-anchor="start" font-weight="bold" >Wet transfer</text>
<polyline points="319.4,131.7 319.4,187 366,187" fill="none" stroke="#000" stroke-width="2.7"/>
<line x1="360.0" y1="187.0" x2="368.7" y2="187.0" stroke="#000" stroke-width="2.7"/>
<polygon points="373.0,187.0 368.2,190.1 368.2,183.9" fill="#000"/>
<polygon points="548.0,118.1 671.8,81.9 671.8,88.9 548.0,125.1" fill="#14161a"/>
<polygon points="548.0,118.1 671.8,81.9 671.8,84.6 548.0,120.8" fill="#474c55"/>
<polygon points="528.2,49.2 548.0,118.1 548.0,125.1 528.2,56.2" fill="#41557a"/>
<polygon points="528.2,49.2 631.7,25.1 671.8,81.9 548.0,118.1" fill="url(#plateg)"/>
<g transform="translate(547.6,76.1) rotate(-15.42)"><rect x="2" y="4.2" width="101.0" height="7.7" fill="#1f3a3a" opacity="0.75" filter="url(#blur2)"/></g>
<g transform="translate(545.2,72.8) rotate(-15.87)">
<rect x="0" y="-7.0" width="102.5" height="14.0" fill="url(#rodg)"/>
<ellipse cx="102.5" cy="0" rx="3.1" ry="7.0" fill="url(#rodg)"/>
<ellipse cx="0" cy="0" rx="2.8" ry="7.0" fill="#a4e8c8"/>
</g>
<polygon points="541.0,49.2 555.0,46.2 561.6,64.4 546.2,66.7" fill="#d8a446" />
<polygon points="550.8,84.2 567.2,78.4 571.9,95.9 557.4,100.6" fill="#d8a446" />
<polygon points="557.4,100.6 571.9,95.9 572.1,99.4 557.6,104.1" fill="#bb8832" />
<polygon points="546.2,66.7 561.6,64.4 568.1,80.3 549.9,85.9" fill="#bb8832" />
<path d="M544.3,65.8 Q548.0,59.7 560.2,59.7 L566.7,76.1 Q555.0,76.1 549.0,81.2 Z" fill="#e3b254"/>
<polygon points="616.2,34.5 616.9,32.8 627.9,29.8 632.1,39.9 620.9,43.4" fill="#d8a446" />
<polygon points="616.2,34.5 618.1,34.0 620.9,43.4 619.0,42.9" fill="#1a1a1a" />
<polygon points="631.7,59.7 647.3,54.6 653.6,69.5 639.1,74.9" fill="#d8a446" />
<polygon points="639.1,74.9 653.6,69.5 653.8,73.3 639.6,78.9" fill="#bb8832" />
<polygon points="637.5,71.9 639.1,74.9 639.6,78.9 638.2,76.1" fill="#1a1a1a" />
<polygon points="622.8,43.4 638.7,39.9 648.0,55.0 631.2,61.6" fill="#bb8832" />
<path d="M621.8,43.4 Q626.3,36.8 638.0,38.2 Q643.8,42.2 644.3,50.4 Q634.5,51.5 629.3,57.4 Z" fill="#e3b254"/>
<g transform="translate(533.5,51.5)" stroke="#d6a33c" stroke-width="1.9"><line x1="-3.4" y1="0.41" x2="3.4" y2="-0.41"/><line x1="-0.75" y1="-3.4" x2="0.75" y2="3.4"/></g>
<g transform="translate(631.7,28.9)" stroke="#d6a33c" stroke-width="1.9"><line x1="-3.4" y1="0.41" x2="3.4" y2="-0.41"/><line x1="-0.75" y1="-3.4" x2="0.75" y2="3.4"/></g>
<g transform="translate(661.3,78.4)" stroke="#d6a33c" stroke-width="1.9"><line x1="-3.4" y1="0.41" x2="3.4" y2="-0.41"/><line x1="-0.75" y1="-3.4" x2="0.75" y2="3.4"/></g>
<g transform="translate(549.2,111.1)" stroke="#d6a33c" stroke-width="1.9"><line x1="-3.4" y1="0.41" x2="3.4" y2="-0.41"/><line x1="-0.75" y1="-3.4" x2="0.75" y2="3.4"/></g>
<text x="520.4" y="21.0" font-size="15.5" fill="#000" text-anchor="middle" font-weight="bold" >(c)</text>
<text x="474.7" y="88.8" font-size="13.8" fill="#000" text-anchor="middle" font-weight="bold" >Metal deposition</text>
<line x1="433.5" y1="101.3" x2="502.7" y2="101.3" stroke="#000" stroke-width="2.7"/>
<polygon points="507.0,101.3 502.2,104.4 502.2,98.2" fill="#000"/>
<text x="601.0" y="126.3" font-size="13.8" fill="#1a10e0" text-anchor="start" font-weight="bold" >Device A</text>
<text x="543.8" y="143.8" font-size="13.8" fill="#000" text-anchor="start" font-weight="bold" >Ti/Au</text>
<line x1="559.3" y1="131.5" x2="559.3" y2="107.0" stroke="#000" stroke-width="1.7"/>
<polygon points="559.3,100.5 562.5,107.5 556.1,107.5" fill="#000"/>
<polygon points="395.1,210.8 473.0,190.8 473.0,194.8 395.1,214.8" fill="#14161a"/>
<polygon points="395.1,210.8 473.0,190.8 473.0,192.3 395.1,212.4" fill="#474c55"/>
<polygon points="381.7,168.3 395.1,210.8 395.1,214.8 381.7,172.3" fill="#41557a"/>
<polygon points="381.7,168.3 450.2,152.7 473.0,190.8 395.1,210.8" fill="url(#plateg)"/>
<polygon points="423.2,158.7 448.6,153.0 470.1,187.6 440.8,196.7" fill="url(#gp1)"/>
<g transform="translate(392.7,185.8) rotate(-12.91)"><rect x="2" y="2.4" width="67.6" height="4.4" fill="#1f3a3a" opacity="0.75" filter="url(#blur2)"/></g>
<g transform="translate(391.1,183.4) rotate(-12.36)">
<rect x="0" y="-4.2" width="69.0" height="8.5" fill="url(#rodg)"/>
</g>
<polygon points="431.5,169.9 458.5,163.9 459.1,172.6 433.6,178.7" fill="#dff8ec" opacity="0.35"/>
<polygon points="431.5,169.9 458.5,163.9 459.1,172.6 433.6,178.7" fill="url(#gp1b)"/>
<g transform="translate(385.4,169.4)" stroke="#d6a33c" stroke-width="1.2"><line x1="-2.4" y1="0.29" x2="2.4" y2="-0.29"/><line x1="-0.53" y1="-2.4" x2="0.53" y2="2.4"/></g>
<g transform="translate(448.1,153.8)" stroke="#d6a33c" stroke-width="1.2"><line x1="-2.4" y1="0.29" x2="2.4" y2="-0.29"/><line x1="-0.53" y1="-2.4" x2="0.53" y2="2.4"/></g>
<g transform="translate(467.8,186.8)" stroke="#d6a33c" stroke-width="1.2"><line x1="-2.4" y1="0.29" x2="2.4" y2="-0.29"/><line x1="-0.53" y1="-2.4" x2="0.53" y2="2.4"/></g>
<g transform="translate(395.9,207.3)" stroke="#d6a33c" stroke-width="1.2"><line x1="-2.4" y1="0.29" x2="2.4" y2="-0.29"/><line x1="-0.53" y1="-2.4" x2="0.53" y2="2.4"/></g>
<text x="441.6" y="213.5" font-size="13.8" fill="#000" text-anchor="start" font-weight="bold" >Graphene</text>
<line x1="452" y1="190.8" x2="460" y2="203.6" stroke="#000" stroke-width="1.1"/>
<text x="544.6" y="173.1" font-size="13.8" fill="#000" text-anchor="middle" font-weight="bold" >Metal deposition</text>
<polyline points="497.4,185.3 584,185.3 584,235" fill="none" stroke="#000" stroke-width="2.7"/>
<line x1="584.0" y1="230.0" x2="584.0" y2="237.7" stroke="#000" stroke-width="2.7"/>
<polygon points="584.0,242.0 580.9,237.2 587.1,237.2" fill="#000"/>
<polygon points="554.2,344.5 674.0,308.0 674.0,314.0 554.2,350.5" fill="#14161a"/>
<polygon points="554.2,344.5 674.0,308.0 674.0,310.3 554.2,346.8" fill="#474c55"/>
<polygon points="533.0,275.0 554.2,344.5 554.2,350.5 533.0,281.0" fill="#41557a"/>
<polygon points="533.0,275.0 637.6,250.2 674.0,308.0 554.2,344.5" fill="url(#plateg)"/>
<polygon points="597.4,259.9 634.8,251.7 671.0,305.5 661.0,311.0 641.8,313.0 618.4,304.2" fill="url(#gp2)"/>
<g transform="translate(550.0,300.2) rotate(-14.78)"><rect x="2" y="4.0" width="100.5" height="7.4" fill="#1f3a3a" opacity="0.75" filter="url(#blur2)"/></g>
<g transform="translate(548.6,296.1) rotate(-14.33)">
<rect x="0" y="-6.8" width="103.7" height="13.5" fill="url(#rodg)"/>
<ellipse cx="103.7" cy="0" rx="3.0" ry="6.8" fill="url(#rodg)"/>
<ellipse cx="0" cy="0" rx="2.7" ry="6.8" fill="#a4e8c8"/>
</g>
<polygon points="607.5,273.2 649.1,262.4 651.2,276.7 611.8,287.5" fill="#dff8ec" opacity="0.35"/>
<polygon points="607.5,273.2 649.1,262.4 651.2,276.7 611.8,287.5" fill="url(#gp2b)"/>
<polygon points="545.9,274.5 558.1,271.8 564.3,289.4 551.3,292.9" fill="#d8a446" />
<polygon points="556.2,306.9 570.8,302.1 575.6,320.4 561.6,325.0" fill="#d8a446" />
<polygon points="561.6,325.0 575.6,320.4 575.9,323.4 561.8,328.0" fill="#bb8832" />
<polygon points="551.3,292.9 564.3,289.4 571.3,303.7 555.6,309.1" fill="#bb8832" />
<path d="M549.4,291.3 Q552.9,284.0 562.7,284.8 L569.7,301.0 Q560.8,300.2 555.1,305.6 Z" fill="#e3b254"/>
<polygon points="623.7,258.9 635.0,252.9 642.6,267.0 630.2,272.4" fill="#d8a446" />
<polygon points="636.4,288.0 651.2,282.6 657.3,294.5 642.9,300.7" fill="#d8a446" />
<polygon points="642.9,300.7 657.3,294.5 657.6,297.7 643.4,304.0" fill="#bb8832" />
<polygon points="630.2,272.4 642.6,267.0 651.8,284.0 637.2,290.2" fill="#bb8832" />
<path d="M628.5,271.3 Q632.9,263.2 643.1,264.3 Q650.1,269.1 650.7,280.5 Q641.0,281.3 635.8,287.5 Z" fill="#e3b254"/>
<g transform="translate(537.8,277.2)" stroke="#d6a33c" stroke-width="1.9"><line x1="-3.4" y1="0.41" x2="3.4" y2="-0.41"/><line x1="-0.75" y1="-3.4" x2="0.75" y2="3.4"/></g>
<g transform="translate(635.6,254.0)" stroke="#d6a33c" stroke-width="1.9"><line x1="-3.4" y1="0.41" x2="3.4" y2="-0.41"/><line x1="-0.75" y1="-3.4" x2="0.75" y2="3.4"/></g>
<g transform="translate(665.0,303.5)" stroke="#d6a33c" stroke-width="1.9"><line x1="-3.4" y1="0.41" x2="3.4" y2="-0.41"/><line x1="-0.75" y1="-3.4" x2="0.75" y2="3.4"/></g>
<g transform="translate(554.0,336.1)" stroke="#d6a33c" stroke-width="1.9"><line x1="-3.4" y1="0.41" x2="3.4" y2="-0.41"/><line x1="-0.75" y1="-3.4" x2="0.75" y2="3.4"/></g>
<circle cx="608.0" cy="279.9" r="10" fill="url(#glow)"/>
<polygon points="619.3,237.6 633.8,238.9 625.5,269.1 607.5,268.0" fill="#cfa0f4" opacity="0.38"/>
<g transform="translate(627.5,229.4) rotate(16)">
<ellipse cx="0" cy="1.8" rx="18.6" ry="11.6" fill="#b89a48"/>
<ellipse cx="0" cy="0" rx="18.6" ry="11.6" fill="#dcc066"/>
<ellipse cx="19.1" cy="1.1" rx="3.3" ry="2.7" fill="#fff"/>
<ellipse cx="8.1" cy="11.1" rx="3.3" ry="2.7" fill="#fff"/>
<ellipse cx="-9.6" cy="10.6" rx="3.3" ry="2.7" fill="#fff"/>
<ellipse cx="-19.1" cy="-1.1" rx="3.3" ry="2.7" fill="#fff"/>
<ellipse cx="-8.1" cy="-11.1" rx="3.3" ry="2.7" fill="#fff"/>
<ellipse cx="9.6" cy="-10.6" rx="3.3" ry="2.7" fill="#fff"/>
<ellipse cx="-5.5" cy="-5.2" rx="4.6" ry="2" fill="#8e9098"/>
<ellipse cx="10" cy="-0.8" rx="4.6" ry="2" fill="#8e9098"/>
</g>
<ellipse cx="626.5" cy="235.6" rx="6.4" ry="5" fill="#c85cf4"/>
<polyline points="619.3,239.1 616.7,246.8 625.2,249.4 622.9,256.6 614.1,254.2 611.4,262.3 620.0,264.8" fill="none" stroke="#000" stroke-width="1.6"/>
<polyline points="611.4,262.3 608.1,268.0" fill="none" stroke="#000" stroke-width="1.6"/>
<text transform="translate(601.3,197.3) rotate(29.3)" font-size="13.7" font-weight="bold">Artificial spikes</text>
<text x="606.5" y="319.5" font-size="13.8" fill="#fff" text-anchor="start" font-weight="bold" >EPSC</text>
<path d="M579.9,326.9 L585.5,326.9 L586.0,321.8 L588.1,321.8 Q589.5,315.2 591.3,315.2 Q593.2,315.7 594.1,320.6 Q597.4,323.6 605.6,323.2" fill="none" stroke="#fff" stroke-width="1.4" stroke-linejoin="round"/>
<text x="606.0" y="350.5" font-size="13.8" fill="#1a10e0" text-anchor="start" font-weight="bold" >Device B</text>
<text x="521.2" y="241.6" font-size="15.5" fill="#000" text-anchor="middle" font-weight="bold" >(d)</text>
<text x="492.3" y="299.0" font-size="13.8" fill="#000" text-anchor="middle" font-weight="bold" >Imitate</text>
<line x1="520.5" y1="304.1" x2="467.5" y2="304.1" stroke="#000" stroke-width="3.1"/>
<polygon points="463.0,304.1 468.0,300.8 468.0,307.4" fill="#000"/>
<g clip-path="url(#cf)">
<rect x="10" y="397.2" width="143" height="173.59999999999997" fill="url(#semtop)"/>
<rect x="10" y="447.5" width="143" height="89" fill="url(#semw)"/>
<path d="M10.7,447.8V532.1M28.0,447.2V526.2M61.7,448.6V516.7M87.0,447.2V532.7M97.2,448.1V528.8" stroke="#c0c0c0" stroke-width="1.4" fill="none"/>
<path d="M11.8,448.2V530.9M127.4,447.0V516.9M151.2,448.0V526.9" stroke="#c0c0c0" stroke-width="0.9" fill="none"/>
<path d="M13.0,447.1V525.8M44.2,447.9V533.6M98.6,448.6V526.2" stroke="#a2a2a2" stroke-width="1.4" fill="none"/>
<path d="M14.5,448.9V528.1M41.5,446.9V517.2M86.0,448.9V529.4M104.0,446.9V534.4M115.4,448.2V531.5M133.5,448.1V518.8M150.2,448.8V518.2" stroke="#b6b6b6" stroke-width="0.7" fill="none"/>
<path d="M15.7,448.6V516.3M50.1,448.8V524.5" stroke="#7a7a7a" stroke-width="0.9" fill="none"/>
<path d="M16.6,448.1V530.6M40.5,448.3V522.8M45.4,447.9V528.1M116.6,448.7V525.7M119.5,448.8V517.7M121.5,447.7V528.7" stroke="#989898" stroke-width="0.9" fill="none"/>
<path d="M17.9,447.9V527.8M30.7,446.8V532.3M67.7,447.5V528.3M69.1,448.7V522.7M143.0,448.3V530.2" stroke="#989898" stroke-width="1.4" fill="none"/>
<path d="M19.2,447.8V520.6M21.2,448.0V517.2M47.7,447.4V523.9M59.0,449.0V532.6M89.5,447.3V533.0M144.5,448.2V529.8" stroke="#848484" stroke-width="0.7" fill="none"/>
<path d="M20.3,447.5V519.6M46.6,447.3V533.3M52.4,447.5V535.0M63.1,448.1V524.6M71.6,448.6V517.3M77.6,448.1V521.2M114.5,448.4V529.0" stroke="#a2a2a2" stroke-width="0.7" fill="none"/>
<path d="M22.1,446.9V515.3M60.2,448.9V528.9M137.6,448.5V523.1" stroke="#b6b6b6" stroke-width="1.1" fill="none"/>
<path d="M23.4,447.3V533.2M35.3,448.1V519.9M82.1,447.2V524.5M122.3,448.1V522.2" stroke="#989898" stroke-width="0.7" fill="none"/>
<path d="M24.6,447.7V526.3M57.9,448.1V527.2M106.8,448.8V531.0M128.7,447.9V523.6M145.7,447.9V530.2M152.5,447.4V523.0" stroke="#b6b6b6" stroke-width="1.4" fill="none"/>
<path d="M25.9,447.0V521.7M36.6,448.2V517.5M83.8,448.0V533.9M90.4,447.4V529.4" stroke="#acacac" stroke-width="1.1" fill="none"/>
<path d="M27.0,447.3V517.0M48.4,447.4V525.6M78.7,447.7V518.8" stroke="#8e8e8e" stroke-width="0.7" fill="none"/>
<path d="M29.4,447.7V522.7M66.4,448.5V521.9M79.8,448.6V534.7M112.0,447.3V528.7M117.5,447.3V529.8M132.5,447.0V530.8" stroke="#8e8e8e" stroke-width="0.9" fill="none"/>
<path d="M32.4,447.3V522.9M51.3,446.8V527.7M65.0,447.6V517.9M130.4,448.2V515.8" stroke="#7a7a7a" stroke-width="1.1" fill="none"/>
<path d="M33.7,449.0V519.3" stroke="#7a7a7a" stroke-width="0.7" fill="none"/>
<path d="M34.6,448.6V522.7M49.1,447.1V524.0M123.2,447.9V528.7M139.8,449.0V533.1" stroke="#acacac" stroke-width="0.7" fill="none"/>
<path d="M38.2,448.7V518.7M95.4,449.0V533.0M125.3,447.2V517.3" stroke="#8e8e8e" stroke-width="1.4" fill="none"/>
<path d="M39.5,448.6V520.0M42.8,448.4V522.8M70.8,447.1V524.9M72.8,448.6V522.7M108.3,447.8V517.5M113.2,448.2V517.1" stroke="#989898" stroke-width="1.1" fill="none"/>
<path d="M53.4,448.4V533.0M74.4,448.4V531.8M76.2,447.0V515.6M88.4,447.8V528.0M109.7,447.0V523.4" stroke="#acacac" stroke-width="1.4" fill="none"/>
<path d="M55.0,447.6V528.7M118.6,448.1V532.8" stroke="#acacac" stroke-width="0.9" fill="none"/>
<path d="M56.1,448.7V526.5M94.0,447.2V521.7M147.5,447.0V520.0" stroke="#7a7a7a" stroke-width="1.4" fill="none"/>
<path d="M63.9,448.5V528.2M82.8,448.0V515.7M123.9,447.0V515.7" stroke="#c0c0c0" stroke-width="0.7" fill="none"/>
<path d="M80.9,448.2V528.1M105.4,447.9V528.8M149.1,448.2V531.2" stroke="#848484" stroke-width="1.4" fill="none"/>
<path d="M85.2,448.7V529.0M131.4,447.8V529.8M136.2,447.1V521.6M141.7,448.1V525.7" stroke="#b6b6b6" stroke-width="0.9" fill="none"/>
<path d="M91.5,446.9V521.8" stroke="#848484" stroke-width="1.1" fill="none"/>
<path d="M92.8,448.8V519.4M102.7,447.2V525.7" stroke="#c0c0c0" stroke-width="1.1" fill="none"/>
<path d="M99.9,448.3V534.1M134.8,447.4V517.3" stroke="#a2a2a2" stroke-width="1.1" fill="none"/>
<path d="M101.3,448.7V534.4M126.5,448.8V516.9M140.6,448.9V528.3" stroke="#a2a2a2" stroke-width="0.9" fill="none"/>
<path d="M111.0,448.3V534.5" stroke="#8e8e8e" stroke-width="1.1" fill="none"/>
<path d="M120.4,447.4V516.9M139.0,448.6V521.0" stroke="#848484" stroke-width="0.9" fill="none"/>
<path d="M62.3,512.6V537M48.6,517.3V537M32.1,511.5V537M105.5,515.6V537M29.6,519.1V537M61.4,515.9V537M11.4,511.1V537M63.4,509.2V537M58.4,519.4V537M120.0,511.0V537M23.9,502.0V537" stroke="#505050" stroke-width="1.8" fill="none" opacity="0.8"/>
<path d="M116.9,500.4V537M45.0,516.5V537M20.5,511.2V537M78.3,501.2V537M30.6,515.7V537M26.9,509.3V537M44.1,513.1V537M100.5,504.9V537M135.7,516.3V537M99.1,505.8V537M49.8,523.7V537M33.0,516.4V537M129.9,520.9V537M46.9,509.6V537" stroke="#505050" stroke-width="1.2" fill="none" opacity="0.8"/>
<path d="M68.5,510.1V537M138.3,510.3V537M93.2,524.6V537M24.1,523.6V537M26.5,510.8V537M101.5,510.9V537M121.2,521.2V537M54.1,516.2V537M113.7,515.4V537M45.6,523.8V537M74.0,521.8V537M103.5,508.5V537M88.5,521.5V537M36.3,509.6V537M21.9,514.8V537" stroke="#505050" stroke-width="2.6" fill="none" opacity="0.8"/>
<path d="M126.6,493.3V534.9M49.2,516.6V535.4M12.2,530.5V534.9M99.2,517.6V535.0" stroke="#c8c8c8" stroke-width="2.0" fill="none"/>
<path d="M140.2,517.9V534.4M62.4,523.4V536.3M83.8,499.5V536.3M122.7,507.1V536.6M147.0,523.5V534.6M104.4,513.6V536.6M57.7,511.9V536.1" stroke="#c8c8c8" stroke-width="0.9" fill="none"/>
<path d="M56.9,514.3V534.2M129.6,507.3V534.9M102.8,517.7V536.6M35.5,492.6V536.7M124.3,512.6V534.0M22.4,493.3V535.9M92.1,499.2V536.1M121.1,517.4V535.7M74.7,528.5V535.6" stroke="#b8b8b8" stroke-width="1.2" fill="none"/>
<path d="M141.4,518.8V534.7M67.6,527.2V536.8M114.5,499.0V536.9" stroke="#d6d6d6" stroke-width="1.6" fill="none"/>
<path d="M75.5,530.2V536.0M57.6,517.7V534.9M17.1,530.4V536.5" stroke="#d6d6d6" stroke-width="1.2" fill="none"/>
<path d="M93.6,525.7V536.9M32.5,508.8V534.8M125.8,497.7V535.3M85.2,513.2V536.6M52.7,520.9V535.0M144.3,524.7V536.9M85.9,523.0V536.3" stroke="#c8c8c8" stroke-width="1.2" fill="none"/>
<path d="M132.2,518.4V535.2M120.7,528.2V534.5M24.6,522.6V536.6M52.0,511.6V534.4M139.6,510.2V536.1M53.6,508.2V534.8" stroke="#b8b8b8" stroke-width="0.9" fill="none"/>
<path d="M91.1,506.7V536.2M20.4,524.7V535.5M59.9,526.7V534.9M49.2,499.0V534.8M112.5,500.7V536.4M141.1,510.4V535.6M103.1,510.3V534.3M20.9,509.7V535.5" stroke="#d6d6d6" stroke-width="0.9" fill="none"/>
<path d="M138.6,500.7V536.9M70.3,507.6V536.7" stroke="#a8a8a8" stroke-width="0.9" fill="none"/>
<path d="M58.4,514.1V534.5M25.1,524.4V534.7M127.4,513.6V534.4M129.9,504.0V536.0M57.2,528.5V535.4M17.8,520.5V534.2" stroke="#d6d6d6" stroke-width="2.0" fill="none"/>
<path d="M70.3,498.8V536.8M94.1,516.5V534.2M139.4,523.5V536.7M20.4,521.8V534.0M87.9,527.9V535.8" stroke="#b8b8b8" stroke-width="2.0" fill="none"/>
<path d="M107.8,515.1V535.6M90.2,528.6V535.3M62.0,509.8V535.7" stroke="#b8b8b8" stroke-width="1.6" fill="none"/>
<path d="M121.0,496.2V534.5M22.9,494.9V537.0M126.9,499.6V534.6M13.4,516.5V534.5" stroke="#a8a8a8" stroke-width="1.2" fill="none"/>
<path d="M124.5,510.1V536.2M67.6,517.5V534.1M87.7,525.5V536.4M78.0,504.9V534.5M47.7,499.4V536.7" stroke="#a8a8a8" stroke-width="1.6" fill="none"/>
<path d="M89.6,514.4V535.9M27.4,527.5V536.7M35.7,526.8V535.8M30.4,496.8V534.0M30.7,517.2V536.7M81.9,503.5V534.2M27.7,512.7V534.2" stroke="#a8a8a8" stroke-width="2.0" fill="none"/>
<path d="M87.2,524.6V536.3" stroke="#c8c8c8" stroke-width="1.6" fill="none"/>
<rect x="10" y="536.5" width="143" height="34.299999999999955" fill="#5c5c5c"/>
<rect x="10" y="535.5" width="143" height="3.5" fill="#474747" opacity="0.8"/>
<polygon points="52,553 62,549 66,555 58,561 50,558" fill="#686868"/>
<ellipse cx="43" cy="547" rx="6" ry="3.5" fill="#4e4e4e"/>
<rect x="10" y="541" width="40" height="6" fill="#666" opacity="0.5"/>
</g>
<line x1="10.5" y1="447.3" x2="151" y2="447.3" stroke="#f08838" stroke-width="1.8" stroke-dasharray="1.6 1.2"/>
<line x1="10.5" y1="462.6" x2="151" y2="462.6" stroke="#f08838" stroke-width="1.8" stroke-dasharray="1.6 1.2"/>
<text x="21.8" y="460.3" font-size="13.4" fill="#fff" text-anchor="start" font-weight="bold" >AlGaN</text>
<text x="29.3" y="500.7" font-size="13.8" fill="#fff" text-anchor="start" font-weight="bold" >GaN</text>
<text x="94.3" y="556.3" font-size="13.8" fill="#fff" text-anchor="start" font-weight="bold" >2 μm</text>
<rect x="67.5" y="564" width="81" height="2" fill="#fff"/>
<text x="12.3" y="394.3" font-size="15.5" fill="#000" text-anchor="start" font-weight="bold" >(f)</text>
<polygon points="417.5,417.0 467.4,397.6 467.4,564.3 417.5,562.5" fill="#eef9fc" opacity="1"/>
<rect x="467.4" y="397.6" width="205.8" height="166.7" fill="#fff"/>
<g clip-path="url(#ch)">
<rect x="467.4" y="438.4" width="205.8" height="115.4" fill="#565656"/>
<g filter="url(#blur3)">
<polygon points="560.0,435.0 581.5,435.0 587.0,557.6 566.8,557.6" fill="#6c6c6c"/>
<polygon points="494.1,435.0 560.6,435.0 568.0,557.6 482.2,557.6" fill="url(#hw1)"/>
<polygon points="580.9,435.0 655.1,435.0 662.4,557.6 585.8,557.6" fill="url(#hw2)"/>
</g>
<circle cx="588.6" cy="517.3" r="3.3" fill="#a4a4a4" opacity="0.35"/>
<circle cx="599.2" cy="465.0" r="3.6" fill="#a4a4a4" opacity="0.35"/>
<circle cx="610.3" cy="497.7" r="3.0" fill="#a4a4a4" opacity="0.35"/>
<circle cx="591.0" cy="441.5" r="2.7" fill="#a4a4a4" opacity="0.35"/>
<circle cx="602.8" cy="448.8" r="3.6" fill="#a4a4a4" opacity="0.35"/>
<circle cx="590.9" cy="466.8" r="2.1" fill="#a4a4a4" opacity="0.35"/>
<circle cx="616.7" cy="522.7" r="3.8" fill="#a4a4a4" opacity="0.35"/>
<circle cx="603.8" cy="444.9" r="2.7" fill="#a4a4a4" opacity="0.35"/>
<circle cx="599.8" cy="453.9" r="3.9" fill="#a4a4a4" opacity="0.35"/>
<circle cx="595.5" cy="458.2" r="3.6" fill="#a4a4a4" opacity="0.35"/>
<circle cx="587.2" cy="543.5" r="2.9" fill="#a4a4a4" opacity="0.35"/>
<circle cx="601.6" cy="479.0" r="3.0" fill="#a4a4a4" opacity="0.35"/>
<circle cx="589.3" cy="445.2" r="3.7" fill="#a4a4a4" opacity="0.35"/>
<circle cx="590.9" cy="527.2" r="2.4" fill="#a4a4a4" opacity="0.35"/>
<circle cx="615.7" cy="539.8" r="3.5" fill="#a4a4a4" opacity="0.35"/>
<circle cx="608.7" cy="505.2" r="3.5" fill="#a4a4a4" opacity="0.35"/>
<circle cx="587.2" cy="493.7" r="3.7" fill="#a4a4a4" opacity="0.35"/>
<circle cx="589.8" cy="543.0" r="3.8" fill="#a4a4a4" opacity="0.35"/>
<circle cx="596.8" cy="481.4" r="2.9" fill="#a4a4a4" opacity="0.35"/>
<circle cx="596.0" cy="550.9" r="2.8" fill="#a4a4a4" opacity="0.35"/>
<circle cx="583.9" cy="451.4" r="3.4" fill="#a4a4a4" opacity="0.35"/>
<circle cx="616.5" cy="495.9" r="3.0" fill="#a4a4a4" opacity="0.35"/>
<circle cx="601.6" cy="523.7" r="2.4" fill="#a4a4a4" opacity="0.35"/>
<circle cx="603.6" cy="502.5" r="3.2" fill="#a4a4a4" opacity="0.35"/>
<circle cx="589.1" cy="459.9" r="2.7" fill="#a4a4a4" opacity="0.35"/>
<circle cx="614.3" cy="479.4" r="3.2" fill="#a4a4a4" opacity="0.35"/>
<circle cx="593.4" cy="452.5" r="2.1" fill="#a4a4a4" opacity="0.35"/>
<circle cx="610.5" cy="526.9" r="2.7" fill="#a4a4a4" opacity="0.35"/>
<circle cx="606.1" cy="515.7" r="3.8" fill="#a4a4a4" opacity="0.35"/>
<circle cx="615.3" cy="486.1" r="4.0" fill="#a4a4a4" opacity="0.35"/>
<circle cx="615.4" cy="506.3" r="3.8" fill="#a4a4a4" opacity="0.35"/>
<circle cx="599.6" cy="482.6" r="2.5" fill="#a4a4a4" opacity="0.35"/>
<circle cx="612.6" cy="459.0" r="2.1" fill="#a4a4a4" opacity="0.35"/>
<circle cx="610.2" cy="526.5" r="3.0" fill="#a4a4a4" opacity="0.35"/>
<circle cx="611.3" cy="446.9" r="2.5" fill="#a4a4a4" opacity="0.35"/>
<circle cx="592.8" cy="487.4" r="2.3" fill="#a4a4a4" opacity="0.35"/>
<circle cx="585.4" cy="478.4" r="3.8" fill="#a4a4a4" opacity="0.35"/>
<circle cx="616.2" cy="523.4" r="3.0" fill="#a4a4a4" opacity="0.35"/>
<circle cx="516.5" cy="547.0" r="3.3" fill="#c8c8c8" opacity="0.25"/>
<circle cx="544.2" cy="444.3" r="2.5" fill="#c8c8c8" opacity="0.25"/>
<circle cx="550.6" cy="528.9" r="4.2" fill="#c8c8c8" opacity="0.25"/>
<circle cx="536.8" cy="488.2" r="3.5" fill="#c8c8c8" opacity="0.25"/>
<circle cx="551.3" cy="475.1" r="3.3" fill="#c8c8c8" opacity="0.25"/>
<circle cx="517.9" cy="525.9" r="2.0" fill="#c8c8c8" opacity="0.25"/>
<circle cx="541.7" cy="546.4" r="2.1" fill="#c8c8c8" opacity="0.25"/>
<circle cx="536.4" cy="512.2" r="4.1" fill="#c8c8c8" opacity="0.25"/>
<circle cx="535.8" cy="469.5" r="3.0" fill="#c8c8c8" opacity="0.25"/>
<circle cx="557.6" cy="541.1" r="2.3" fill="#c8c8c8" opacity="0.25"/>
<circle cx="507.3" cy="451.5" r="2.1" fill="#c8c8c8" opacity="0.25"/>
<circle cx="527.8" cy="456.7" r="4.2" fill="#c8c8c8" opacity="0.25"/>
<circle cx="540.0" cy="455.1" r="3.3" fill="#c8c8c8" opacity="0.25"/>
<circle cx="520.7" cy="495.6" r="2.5" fill="#c8c8c8" opacity="0.25"/>
<circle cx="511.5" cy="461.4" r="2.9" fill="#c8c8c8" opacity="0.25"/>
<circle cx="543.1" cy="501.8" r="2.1" fill="#c8c8c8" opacity="0.25"/>
<circle cx="543.2" cy="537.6" r="3.9" fill="#c8c8c8" opacity="0.25"/>
<circle cx="547.8" cy="442.0" r="3.2" fill="#c8c8c8" opacity="0.25"/>
<circle cx="505.5" cy="525.4" r="2.4" fill="#c8c8c8" opacity="0.25"/>
<circle cx="543.2" cy="469.0" r="3.7" fill="#c8c8c8" opacity="0.25"/>
<circle cx="520.1" cy="445.8" r="3.0" fill="#c8c8c8" opacity="0.25"/>
<circle cx="519.8" cy="540.5" r="2.7" fill="#c8c8c8" opacity="0.25"/>
<circle cx="531.1" cy="501.8" r="4.4" fill="#c8c8c8" opacity="0.25"/>
<circle cx="507.5" cy="507.5" r="3.3" fill="#c8c8c8" opacity="0.25"/>
<circle cx="544.6" cy="547.9" r="2.8" fill="#c8c8c8" opacity="0.25"/>
</g>
<path d="M469.0,548.3h1M471.5,551.1h1M471.6,552.6h1M473.0,552.6h1M469.2,552.8h1M470.6,563.5h1M479.1,545.9h1M475.0,553.0h1M477.9,554.2h1M478.5,547.9h1M478.1,556.7h1M477.6,553.7h1M481.8,555.1h1M482.8,548.2h1M484.3,548.9h1M485.5,539.4h1M482.4,548.6h1M485.6,539.5h1M491.1,539.0h1M487.2,542.5h1M491.7,532.4h1M487.7,542.8h1M488.9,537.2h1M489.4,541.4h1M496.5,537.7h1M499.2,528.2h1M498.6,537.0h1M493.1,535.5h1M498.6,539.2h1M496.3,531.7h1M502.6,521.2h1M502.0,528.3h1M500.9,532.8h1M503.6,517.9h1M500.1,530.6h1M500.3,525.0h1M505.4,506.7h1M503.9,506.5h1M507.3,501.1h1M505.6,506.2h1M508.9,491.5h1M509.6,483.1h1M511.4,478.0h1M509.8,484.8h1M510.8,473.2h1M510.5,481.3h1M509.9,484.3h1M515.3,451.0h1M519.0,438.6h1M517.6,448.6h1M518.1,440.6h1M518.0,442.1h1M519.2,437.1h1M518.4,443.3h1M520.9,436.2h1M522.5,447.4h1M522.7,441.7h1M522.9,438.2h1M519.6,436.4h1M519.8,436.6h1M529.1,427.3h1M527.5,435.3h1M529.5,432.0h1M525.7,435.1h1M529.4,434.9h1M528.1,432.9h1M533.6,427.3h1M532.5,432.5h1M532.7,426.8h1M532.8,427.6h1M534.3,432.7h1M534.2,429.1h1M536.4,430.1h1M536.2,435.0h1M536.0,423.4h1M535.6,430.2h1M536.5,425.7h1M536.9,435.5h1M542.5,438.9h1M541.7,439.0h1M542.7,435.1h1M539.6,433.8h1M541.3,437.8h1M542.5,443.3h1M544.2,440.3h1M546.9,455.9h1M547.9,451.5h1M544.8,444.9h1M547.8,451.9h1M545.6,448.8h1M551.5,460.8h1M549.9,464.6h1M549.0,462.9h1M554.9,480.6h1M551.6,475.7h1M550.3,459.6h1M559.3,509.8h1M558.0,495.4h1M556.6,491.3h1M555.3,487.8h1M558.4,500.6h1M555.2,491.3h1M566.2,528.3h1M566.1,523.4h1M566.2,530.5h1M565.2,528.0h1M561.9,516.5h1M563.9,529.4h1M568.4,539.0h1M568.1,532.3h1M567.7,536.4h1M569.8,532.8h1M568.1,535.6h1M570.0,540.2h1M571.4,538.2h1M573.9,525.8h1M573.9,538.5h1M574.1,533.6h1M570.9,536.2h1M572.8,537.5h1M577.1,523.4h1M574.6,533.8h1M575.0,533.7h1M575.0,533.6h1M580.4,526.0h1M577.6,527.7h1M583.0,520.5h1M585.6,521.6h1M585.2,517.7h1M583.1,523.5h1M581.5,518.4h1M583.5,519.3h1M589.1,515.3h1M593.2,508.6h1M594.6,498.1h1M593.3,509.6h1M591.8,505.4h1M594.0,507.0h1M599.6,492.2h1M598.2,492.2h1M600.5,491.5h1M599.7,492.2h1M599.7,499.5h1M599.3,488.4h1M611.3,479.1h1M607.9,479.2h1M605.2,486.6h1M611.2,473.7h1M610.4,476.4h1M608.6,476.1h1M612.7,476.5h1M612.9,476.3h1M616.7,473.0h1M612.7,477.3h1M617.3,471.0h1M617.1,471.7h1M618.7,472.4h1M622.9,463.0h1M623.6,461.5h1M618.2,466.6h1M622.5,462.0h1M618.6,469.1h1M627.5,465.8h1M625.4,465.5h1M626.6,466.5h1M624.8,464.1h1M625.1,461.8h1M625.8,461.8h1M630.5,463.4h1M630.8,468.3h1M629.1,454.8h1M630.8,466.3h1M632.5,471.1h1M632.5,472.9h1M637.7,477.6h1M637.6,480.7h1M639.1,486.6h1M638.2,484.3h1M639.2,482.2h1M638.0,482.1h1M640.8,491.6h1M643.1,503.7h1M641.5,495.5h1M645.3,515.4h1M641.4,493.5h1M644.7,504.2h1M649.0,522.4h1M645.7,514.1h1M648.4,519.0h1M647.7,519.7h1M647.5,517.8h1M651.4,528.7h1M654.3,534.2h1M656.4,540.0h1M656.4,538.4h1M655.8,539.4h1M656.6,538.0h1M657.2,547.5h1M660.2,548.1h1M661.7,552.0h1M661.4,555.9h1M658.8,544.5h1M658.5,545.8h1M661.6,551.6h1M671.8,554.6h1M671.8,550.8h1M666.4,546.6h1M664.2,554.1h1M664.2,552.9h1M666.8,549.2h1" stroke="#7cc242" stroke-width="1" opacity="0.7"/>
<path d="M472.5,550.7h1M470.3,550.7h1M471.2,548.6h1M472.5,551.1h1M475.7,547.1h1M468.5,554.1h1M478.3,547.5h1M483.1,542.1h1M483.3,550.3h1M479.0,552.4h1M482.2,544.6h1M481.4,542.3h1M489.1,539.0h1M489.9,534.7h1M491.6,533.8h1M484.9,538.0h1M487.9,535.8h1M489.3,542.4h1M496.3,535.0h1M496.8,537.2h1M493.3,538.7h1M492.8,531.7h1M499.2,533.2h1M497.5,534.6h1M503.3,516.6h1M502.5,521.9h1M501.6,526.5h1M504.0,520.8h1M504.2,513.3h1M501.9,523.6h1M507.8,506.1h1M506.0,519.3h1M509.6,508.2h1M508.4,516.3h1M508.3,506.8h1M511.7,507.0h1M516.3,499.1h1M515.7,497.4h1M514.3,505.1h1M519.3,498.7h1M515.0,501.0h1M519.4,498.0h1M527.2,489.3h1M522.5,486.9h1M524.3,492.3h1M525.5,494.3h1M522.9,491.5h1M521.6,498.3h1M532.3,498.2h1M530.3,484.6h1M531.1,486.3h1M533.1,489.6h1M531.8,489.0h1M530.8,497.1h1M538.0,496.4h1M539.3,497.4h1M538.5,492.6h1M536.9,495.7h1M534.8,492.6h1M537.2,495.6h1M545.0,497.0h1M546.8,503.9h1M546.4,506.3h1M544.8,506.0h1M541.4,497.8h1M541.6,501.5h1M549.2,504.7h1M550.5,500.1h1M549.8,506.3h1M549.4,507.0h1M550.7,500.1h1M548.4,496.4h1M555.8,510.9h1M553.6,500.1h1M555.5,502.6h1M551.2,501.6h1M551.4,502.2h1M553.9,505.2h1M562.4,512.6h1M562.0,514.6h1M559.3,504.2h1M560.1,512.9h1M558.3,512.6h1M559.8,507.7h1M567.7,520.7h1M566.5,522.8h1M564.8,522.6h1M565.9,528.7h1M568.4,527.2h1M566.1,525.3h1M575.8,530.0h1M573.5,532.7h1M574.0,530.2h1M572.8,532.7h1M576.2,524.7h1M573.1,535.4h1M583.7,521.1h1M588.2,517.8h1M582.3,526.5h1M581.8,525.9h1M585.5,519.0h1M581.0,526.0h1M594.2,513.2h1M592.1,521.4h1M595.8,512.5h1M590.5,518.6h1M594.9,511.6h1M589.2,514.3h1M601.7,517.8h1M596.3,512.2h1M596.6,514.9h1M596.6,514.3h1M596.7,508.8h1M597.9,506.8h1M611.9,502.9h1M611.4,510.4h1M611.6,512.4h1M609.0,511.4h1M611.7,511.9h1M610.9,511.3h1M613.0,506.2h1M617.4,508.0h1M619.4,507.4h1M617.9,510.9h1M618.7,497.6h1M614.9,504.8h1M622.4,506.7h1M622.8,512.3h1M621.6,508.1h1M623.5,511.5h1M624.2,503.8h1M620.9,507.7h1M630.1,511.9h1M630.4,508.6h1M629.9,510.1h1M630.9,509.5h1M629.7,513.2h1M628.5,503.0h1M638.9,509.8h1M634.7,505.7h1M632.4,501.0h1M632.6,513.5h1M636.3,510.4h1M636.9,510.4h1M641.6,515.3h1M644.8,519.1h1M644.3,520.3h1M647.3,522.7h1M641.4,509.7h1M645.8,518.8h1M652.3,532.4h1M649.0,521.3h1M649.0,531.2h1M648.4,527.7h1M647.7,525.6h1M654.6,534.8h1M656.1,535.3h1M662.0,547.1h1M660.3,540.3h1M662.3,542.4h1M658.2,537.8h1M656.3,535.7h1M671.6,545.8h1M665.4,545.6h1M668.6,544.7h1M664.1,550.1h1M666.7,548.3h1M668.8,550.5h1" stroke="#2a40d8" stroke-width="1" opacity="0.7"/>
<path d="M473.8,547.1h1M472.7,554.0h1M469.3,544.5h1M470.3,560.9h1M471.2,553.7h1M468.9,552.7h1M483.4,544.1h1M483.9,537.6h1M480.9,551.4h1M479.4,546.9h1M483.6,552.1h1M479.9,543.3h1M490.1,528.4h1M491.2,544.1h1M486.3,544.4h1M484.7,543.0h1M489.7,537.8h1M489.0,543.7h1M492.2,536.4h1M495.3,531.0h1M494.6,534.2h1M494.1,529.0h1M492.7,534.9h1M492.5,539.7h1M501.0,528.2h1M507.4,509.9h1M507.5,517.8h1M501.0,525.2h1M502.2,521.2h1M504.0,522.9h1M510.5,513.3h1M511.3,508.2h1M514.6,507.4h1M509.5,509.9h1M514.0,509.0h1M511.8,510.0h1M519.7,502.6h1M517.1,505.0h1M521.6,491.0h1M521.7,502.7h1M523.2,501.6h1M515.6,505.6h1M526.0,498.2h1M526.6,499.6h1M524.0,498.2h1M528.1,500.8h1M525.9,498.7h1M525.9,499.9h1M534.3,497.3h1M535.7,494.6h1M531.3,503.1h1M535.5,506.0h1M533.3,502.5h1M531.5,495.4h1M538.5,507.7h1M544.3,503.7h1M544.3,498.0h1M544.5,504.3h1M543.6,500.2h1M541.3,500.7h1M546.1,505.2h1M550.9,507.0h1M548.3,499.8h1M547.8,504.5h1M549.8,493.7h1M546.0,505.7h1M552.8,500.1h1M556.0,505.9h1M555.9,510.7h1M551.2,500.2h1M554.4,501.1h1M552.6,502.2h1M562.5,518.4h1M562.2,515.5h1M559.8,504.8h1M564.5,519.7h1M562.0,518.8h1M558.3,517.2h1M567.8,525.9h1M566.9,520.7h1M572.3,532.5h1M567.9,523.5h1M567.0,525.4h1M572.5,531.9h1M573.3,529.9h1M573.3,531.9h1M576.8,526.4h1M577.6,519.3h1M579.1,527.8h1M580.2,524.1h1M581.1,523.0h1M582.7,526.5h1M584.9,523.7h1M588.1,520.0h1M581.7,524.9h1M588.4,517.8h1M593.8,515.7h1M588.9,517.3h1M594.4,517.7h1M594.9,518.5h1M595.3,524.9h1M592.6,520.1h1M599.3,518.8h1M604.1,518.4h1M598.5,517.3h1M597.3,517.4h1M599.1,517.2h1M597.8,515.2h1M611.6,525.1h1M606.1,515.8h1M607.0,519.7h1M609.7,514.2h1M606.7,519.1h1M610.1,515.8h1M618.2,509.9h1M616.3,512.4h1M615.6,507.6h1M613.7,513.2h1M616.8,520.2h1M613.5,511.9h1M627.6,515.4h1M622.1,511.6h1M621.6,522.6h1M623.2,516.8h1M626.8,514.6h1M626.8,514.5h1M634.1,519.7h1M632.0,514.0h1M633.9,518.0h1M631.3,516.7h1M629.0,511.8h1M631.8,512.4h1M638.7,515.4h1M640.5,521.4h1M643.5,527.4h1M642.3,517.1h1M638.0,519.0h1M636.7,514.7h1M647.6,527.1h1M648.7,526.2h1M645.8,528.5h1M647.4,526.4h1M647.8,535.3h1M647.8,520.5h1M655.0,538.2h1M654.9,538.1h1M658.2,544.2h1M658.2,542.9h1M654.5,541.9h1M653.2,536.1h1M663.7,551.7h1M666.2,548.1h1M665.0,547.8h1M663.4,550.9h1M662.5,544.4h1M666.3,554.3h1M670.7,553.3h1M669.5,553.6h1M670.9,552.8h1M669.2,552.7h1M668.9,555.9h1M672.7,552.9h1" stroke="#f048d8" stroke-width="1" opacity="0.7"/>
<path d="M467.4,551.3 C469.2,551.7 470.8,552.7 474.1,552.5 C477.5,552.3 476.9,553.2 480.0,550.5 C483.2,547.9 482.8,546.3 485.9,542.7 C489.1,539.0 488.2,539.9 491.9,536.8 C495.5,533.6 496.6,536.6 499.7,530.8 C502.9,525.1 501.1,527.7 503.7,515.1 C506.3,502.5 506.4,500.4 509.6,483.5 C512.8,466.7 512.9,463.6 515.5,452.0 C518.1,440.4 516.8,444.4 519.5,440.2 C522.1,436.0 522.2,438.9 525.4,436.2 C528.5,433.6 528.7,432.6 531.3,430.3 C533.9,428.0 533.1,427.0 535.2,427.6 C537.3,428.1 537.1,429.5 539.2,432.3 C541.3,435.1 540.5,431.9 543.1,438.2 C545.7,444.5 545.9,443.9 549.0,455.9 C552.2,468.0 551.8,467.8 554.9,483.5 C558.1,499.3 557.7,501.9 560.8,515.1 C564.0,528.2 564.1,527.0 566.8,532.8 C569.4,538.6 568.6,536.8 570.7,536.8 C572.8,536.8 572.0,536.0 574.6,532.8 C577.3,529.7 576.9,529.7 580.5,524.9 C584.2,520.2 584.2,521.9 588.4,515.1 C592.6,508.2 592.1,507.2 596.3,499.3 C600.5,491.4 600.0,491.3 604.2,485.5 C608.4,479.7 608.4,481.8 612.1,477.6 C615.8,473.4 614.8,472.6 618.0,469.7 C621.1,466.9 621.1,468.6 623.9,467.0 C626.7,465.4 626.0,463.1 628.6,463.8 C631.3,464.6 630.8,463.4 633.8,469.7 C636.7,476.1 636.5,476.4 639.7,487.5 C642.8,498.5 642.4,499.6 645.6,511.1 C648.7,522.7 648.3,521.9 651.5,530.8 C654.7,539.8 654.3,539.2 657.4,544.6 C660.6,550.1 659.1,549.2 663.3,551.3 C667.5,553.4 670.6,552.2 673.2,552.5" fill="none" stroke="#7cc242" stroke-width="1.55"/>
<path d="M467.4,551.3 C469.7,551.1 471.7,552.9 476.1,550.5 C480.5,548.2 479.8,546.7 484.0,542.7 C488.2,538.7 487.7,538.7 491.9,535.6 C496.1,532.4 496.1,536.3 499.7,530.8 C503.4,525.4 502.0,523.0 505.7,515.1 C509.3,507.2 509.3,507.4 513.5,501.3 C517.7,495.2 517.4,495.6 521.4,492.2 C525.4,488.8 525.4,488.7 528.5,488.7 C531.7,488.7 529.9,489.4 533.2,492.2 C536.6,495.1 537.5,496.6 541.1,499.3 C544.8,502.0 544.4,501.9 547.0,502.5 C549.7,503.0 548.4,500.5 551.0,501.3 C553.6,502.0 553.2,500.0 556.9,505.2 C560.6,510.5 560.6,513.6 564.8,521.0 C569.0,528.3 568.5,531.8 572.7,532.8 C576.9,533.9 576.3,529.1 580.5,524.9 C584.8,520.7 584.2,520.2 588.4,517.0 C592.6,513.9 592.1,514.2 596.3,513.1 C600.5,512.1 600.0,514.2 604.2,513.1 C608.4,512.1 607.9,511.5 612.1,509.2 C616.3,506.8 616.3,504.7 620.0,504.4 C623.6,504.1 622.7,507.0 625.9,508.0 C629.0,508.9 628.1,507.3 631.8,508.0 C635.5,508.6 635.5,506.4 639.7,510.3 C643.9,514.3 643.4,515.9 647.6,523.0 C651.8,530.0 651.2,529.9 655.4,536.8 C659.6,543.6 658.6,544.6 663.3,548.6 C668.1,552.6 670.6,550.9 673.2,551.7" fill="none" stroke="#2a40d8" stroke-width="1.55"/>
<path d="M467.4,551.3 C469.7,551.4 471.7,553.5 476.1,551.7 C480.5,549.9 479.8,548.6 484.0,544.6 C488.2,540.6 487.7,540.6 491.9,536.8 C496.1,532.9 495.5,535.8 499.7,530.1 C504.0,524.3 503.4,521.7 507.6,515.1 C511.8,508.5 511.3,509.4 515.5,505.2 C519.7,501.0 519.7,501.2 523.4,499.3 C527.1,497.4 525.6,497.3 529.3,498.1 C533.0,499.0 533.0,501.1 537.2,502.5 C541.4,503.8 541.4,503.4 545.1,503.2 C548.8,503.1 547.8,501.0 551.0,502.1 C554.1,503.1 553.2,502.1 556.9,507.2 C560.6,512.2 560.6,514.9 564.8,521.0 C569.0,527.1 568.5,529.3 572.7,530.1 C576.9,530.8 576.3,526.7 580.5,523.7 C584.8,520.8 584.2,521.1 588.4,519.0 C592.6,516.9 592.1,516.6 596.3,515.9 C600.5,515.1 600.0,516.5 604.2,516.3 C608.4,516.0 607.9,515.9 612.1,515.1 C616.3,514.2 615.8,513.3 620.0,513.1 C624.2,512.9 623.6,514.0 627.8,514.3 C632.1,514.6 631.5,512.5 635.7,514.3 C639.9,516.1 639.4,515.7 643.6,521.0 C647.8,526.2 647.3,527.4 651.5,534.0 C655.7,540.6 655.2,541.2 659.4,545.8 C663.6,550.4 663.6,549.7 667.3,551.3 C670.9,553.0 671.6,551.9 673.2,552.1" fill="none" stroke="#f048d8" stroke-width="1.55"/>
<rect x="467.4" y="397.6" width="205.8" height="166.7" fill="none" stroke="#000" stroke-width="1.1"/>
<line x1="467.4" y1="551.3" x2="470.4" y2="551.3" stroke="#000" stroke-width="1"/>
<text x="463.9" y="555.5" font-size="12.3" fill="#000" text-anchor="end" font-weight="bold" >0</text>
<line x1="467.4" y1="525.3" x2="470.4" y2="525.3" stroke="#000" stroke-width="1"/>
<text x="463.9" y="529.5" font-size="12.3" fill="#000" text-anchor="end" font-weight="bold" >10</text>
<line x1="467.4" y1="499.3" x2="470.4" y2="499.3" stroke="#000" stroke-width="1"/>
<text x="463.9" y="503.5" font-size="12.3" fill="#000" text-anchor="end" font-weight="bold" >20</text>
<line x1="467.4" y1="473.3" x2="470.4" y2="473.3" stroke="#000" stroke-width="1"/>
<text x="463.9" y="477.5" font-size="12.3" fill="#000" text-anchor="end" font-weight="bold" >30</text>
<line x1="467.4" y1="447.3" x2="470.4" y2="447.3" stroke="#000" stroke-width="1"/>
<text x="463.9" y="451.5" font-size="12.3" fill="#000" text-anchor="end" font-weight="bold" >40</text>
<line x1="467.4" y1="421.3" x2="470.4" y2="421.3" stroke="#000" stroke-width="1"/>
<text x="463.9" y="425.5" font-size="12.3" fill="#000" text-anchor="end" font-weight="bold" >50</text>
<line x1="467.4" y1="538.3" x2="469.4" y2="538.3" stroke="#000" stroke-width="0.8"/>
<line x1="467.4" y1="512.3" x2="469.4" y2="512.3" stroke="#000" stroke-width="0.8"/>
<line x1="467.4" y1="486.3" x2="469.4" y2="486.3" stroke="#000" stroke-width="0.8"/>
<line x1="467.4" y1="460.3" x2="469.4" y2="460.3" stroke="#000" stroke-width="0.8"/>
<line x1="467.4" y1="434.3" x2="469.4" y2="434.3" stroke="#000" stroke-width="0.8"/>
<line x1="467.4" y1="408.3" x2="469.4" y2="408.3" stroke="#000" stroke-width="0.8"/>
<line x1="480.8" y1="564.3" x2="480.8" y2="561.3" stroke="#000" stroke-width="1"/>
<text x="480.8" y="577.3" font-size="12.3" fill="#000" text-anchor="middle" font-weight="bold" >20</text>
<line x1="508.4" y1="564.3" x2="508.4" y2="561.3" stroke="#000" stroke-width="1"/>
<text x="508.4" y="577.3" font-size="12.3" fill="#000" text-anchor="middle" font-weight="bold" >40</text>
<line x1="536.0" y1="564.3" x2="536.0" y2="561.3" stroke="#000" stroke-width="1"/>
<text x="536.0" y="577.3" font-size="12.3" fill="#000" text-anchor="middle" font-weight="bold" >60</text>
<line x1="563.6" y1="564.3" x2="563.6" y2="561.3" stroke="#000" stroke-width="1"/>
<text x="563.6" y="577.3" font-size="12.3" fill="#000" text-anchor="middle" font-weight="bold" >80</text>
<line x1="591.2" y1="564.3" x2="591.2" y2="561.3" stroke="#000" stroke-width="1"/>
<text x="591.2" y="577.3" font-size="12.3" fill="#000" text-anchor="middle" font-weight="bold" >100</text>
<line x1="618.8" y1="564.3" x2="618.8" y2="561.3" stroke="#000" stroke-width="1"/>
<text x="618.8" y="577.3" font-size="12.3" fill="#000" text-anchor="middle" font-weight="bold" >120</text>
<line x1="646.4" y1="564.3" x2="646.4" y2="561.3" stroke="#000" stroke-width="1"/>
<text x="646.4" y="577.3" font-size="12.3" fill="#000" text-anchor="middle" font-weight="bold" >140</text>
<line x1="494.6" y1="564.3" x2="494.6" y2="562.3" stroke="#000" stroke-width="0.8"/>
<line x1="522.2" y1="564.3" x2="522.2" y2="562.3" stroke="#000" stroke-width="0.8"/>
<line x1="549.8" y1="564.3" x2="549.8" y2="562.3" stroke="#000" stroke-width="0.8"/>
<line x1="577.4" y1="564.3" x2="577.4" y2="562.3" stroke="#000" stroke-width="0.8"/>
<line x1="605.0" y1="564.3" x2="605.0" y2="562.3" stroke="#000" stroke-width="0.8"/>
<line x1="632.6" y1="564.3" x2="632.6" y2="562.3" stroke="#000" stroke-width="0.8"/>
<line x1="660.2" y1="564.3" x2="660.2" y2="562.3" stroke="#000" stroke-width="0.8"/>
<text x="572.7" y="590.0" font-size="12.6" fill="#000" text-anchor="middle" font-weight="bold" >Position (nm)</text>
<text transform="translate(446.3,481) rotate(-90)" font-size="12.6" font-weight="bold" text-anchor="middle">Atomic fraction integrated (%)</text>
<circle cx="480.8" cy="407.2" r="2" fill="#7cc242"/>
<text x="491.0" y="411.1" font-size="11.9" fill="#000" text-anchor="start" font-weight="bold" >Ga</text>
<circle cx="533.2" cy="407.2" r="2" fill="#2a40d8"/>
<text x="543.0" y="411.1" font-size="11.9" fill="#000" text-anchor="start" font-weight="bold" >N</text>
<circle cx="580.5" cy="407.2" r="2" fill="#f048d8"/>
<text x="590.4" y="411.1" font-size="11.9" fill="#000" text-anchor="start" font-weight="bold" >O  (Raw data)</text>
<line x1="474" y1="421.2" x2="490" y2="421.2" stroke="#7cc242" stroke-width="1.4"/>
<text x="491.0" y="425.1" font-size="11.9" fill="#000" text-anchor="start" font-weight="bold" >Ga</text>
<line x1="526.5" y1="421.2" x2="542.3" y2="421.2" stroke="#2a40d8" stroke-width="1.4"/>
<text x="543.0" y="425.1" font-size="11.9" fill="#000" text-anchor="start" font-weight="bold" >N</text>
<line x1="573.8" y1="421.2" x2="588.4" y2="421.2" stroke="#f048d8" stroke-width="1.4"/>
<text x="590.4" y="425.1" font-size="11.9" fill="#000" text-anchor="start" font-weight="bold" >O  (Fitting)</text>
<text x="430.5" y="394.5" font-size="15.5" fill="#000" text-anchor="start" font-weight="bold" >(h)</text>
<text x="153.0" y="394.3" font-size="15.5" fill="#000" text-anchor="start" font-weight="bold" >(g)</text>
<rect x="168.4" y="397" width="60.0" height="82.5" fill="#060606"/>
<rect x="230.8" y="397" width="60.4" height="82.5" fill="#060606"/>
<rect x="294.2" y="397" width="59.6" height="82.5" fill="#060606"/>
<rect x="356.4" y="397" width="60.4" height="82.5" fill="#060606"/>
<rect x="168.4" y="486.4" width="60.0" height="83.0" fill="#060606"/>
<rect x="230.8" y="486.4" width="60.4" height="83.0" fill="#060606"/>
<rect x="294.2" y="486.4" width="59.6" height="83.0" fill="#060606"/>
<rect x="356.4" y="486.4" width="60.4" height="83.0" fill="#060606"/>
<rect x="179.2" y="397" width="20" height="82.5" fill="url(#temw)"/>
<rect x="179.2" y="397" width="20" height="82.5" fill="url(#temv)"/>
<line x1="177.8" y1="405" x2="177.8" y2="479.5" stroke="#777" stroke-width="0.6" stroke-dasharray="0.8 1.2"/>
<rect x="200" y="397" width="28.4" height="14" fill="#262626"/>
<path d="M202,479.5 L202,416 Q203,410 212,409 Q222,407.5 228.4,408 L228.4,479.5 Z" fill="#6e6e6e"/>
<path d="M207.5,479.5 L208,420 Q214,414.5 222,416 L222.5,479.5 Z" fill="#a8a8a8"/>
<path d="M212,430 L218,455 L214,470" fill="none" stroke="#b4b4b4" stroke-width="1.2" opacity="0.7"/>
<text x="172.6" y="413.0" font-size="13.8" fill="#fff" text-anchor="start" font-weight="bold" >Top</text>
<text x="180.2" y="470.5" font-size="13.8" fill="#fff" text-anchor="start" font-weight="bold" >100 nm</text>
<rect x="195.4" y="477" width="28.8" height="2" fill="#fff"/>
<rect x="179.2" y="486.4" width="17.1" height="73.5" fill="url(#temw)" opacity="0.8"/>
<rect x="200.1" y="486.4" width="17.1" height="73.5" fill="url(#temw2)"/>
<rect x="176" y="559.9" width="44" height="9.5" fill="#343434"/>
<text x="173.0" y="501.6" font-size="13.8" fill="#fff" text-anchor="start" font-weight="bold" >Bottom</text>
<rect x="197.3" y="563.1" width="18.6" height="2.3" fill="#fff"/>
<g filter="url(#nzR)">
<rect x="230.8" y="397.0" width="60.4" height="82.5" fill="#000" fill-opacity="0.0"/>
<rect x="230.8" y="397.0" width="60.4" height="82.5" fill="url(#edg1)"/>
</g>
<text x="238.3" y="413.0" font-size="13.8" fill="#fff" text-anchor="start" font-weight="bold" >Al</text>
<g filter="url(#nzR2)">
<rect x="230.8" y="486.4" width="60.4" height="83.0" fill="#000" fill-opacity="0.2"/>
<rect x="235.6" y="486.4" width="52.5" height="58.1" fill="#000" fill-opacity="0.42"/>
<rect x="238.0" y="559.0" width="16.9" height="3.3" fill="#000" fill-opacity="0.95"/>
<rect x="262.2" y="559.0" width="12.1" height="3.3" fill="#000" fill-opacity="0.9"/>
<rect x="236.8" y="551.1" width="42.3" height="18.3" fill="#000" fill-opacity="0.4"/>
</g>
<text x="238.3" y="501.9" font-size="13.8" fill="#fff" text-anchor="start" font-weight="bold" >Al</text>
<g filter="url(#nzB)">
<rect x="294.2" y="397.0" width="59.6" height="82.5" fill="#000" fill-opacity="0.0"/>
<rect x="294.2" y="397.0" width="59.6" height="82.5" fill="url(#edg2)"/>
</g>
<text x="300.2" y="413.0" font-size="13.8" fill="#fff" text-anchor="start" font-weight="bold" >N</text>
<g filter="url(#nzB2)">
<rect x="294.2" y="486.4" width="59.6" height="83.0" fill="#000" fill-opacity="0.0"/>
<rect x="294.2" y="486.4" width="59.6" height="78.0" fill="url(#edg3)"/>
</g>
<text x="300.2" y="501.9" font-size="13.8" fill="#fff" text-anchor="start" font-weight="bold" >N</text>
<g filter="url(#nzM)">
<rect x="356.4" y="397.0" width="60.4" height="82.5" fill="#000" fill-opacity="0.0"/>
<rect x="356.4" y="397.0" width="60.4" height="82.5" fill="url(#edg4)"/>
</g>
<g filter="url(#nzG)">
<rect x="356.4" y="397.0" width="60.4" height="82.5" fill="#000" fill-opacity="0.0"/>
<rect x="356.4" y="397.0" width="60.4" height="82.5" fill="url(#edg5)"/>
</g>
<text x="361.2" y="410.0" font-size="13.8" fill="#fff" text-anchor="start" font-weight="bold" >Ga+O</text>
<g filter="url(#nzM2)">
<rect x="356.4" y="486.4" width="60.4" height="83.0" fill="#000" fill-opacity="0.0"/>
<rect x="356.4" y="486.4" width="60.4" height="83.0" fill="url(#edg6)"/>
</g>
<g filter="url(#nzG2)">
<rect x="356.4" y="486.4" width="60.4" height="83.0" fill="#000" fill-opacity="0.0"/>
<rect x="356.4" y="486.4" width="60.4" height="80.5" fill="url(#edg7)"/>
</g>
<text x="361.2" y="498.7" font-size="13.8" fill="#fff" text-anchor="start" font-weight="bold" >Ga+O</text>
<polygon points="190.0,509.6 467.4,397.6 467.4,564.3 183.0,534.6" fill="#cfe6ee" opacity="0.11"/>
<line x1="190" y1="509.6" x2="467.4" y2="397.6" stroke="#bfe0e8" stroke-width="1" opacity="0.8"/>
<line x1="183" y1="534.6" x2="467.4" y2="564.3" stroke="#bfe0e8" stroke-width="1" opacity="0.8"/>
<rect x="168.8" y="509.6" width="59.6" height="25" fill="none" stroke="#f0883c" stroke-width="1.4" stroke-dasharray="1.4 1.2"/>
<line x1="169" y1="522.4" x2="222" y2="522.4" stroke="#f0883c" stroke-width="1.7" stroke-dasharray="1.7 1.3"/>
<polygon points="221.5,518.6 228.6,522.4 221.5,526.2" fill="#f0883c"/>
<rect x="20.8" y="604.6" width="193.4" height="166.1" fill="#fff"/>
<path d="M20.8,743.5 L21.8,743.5 L22.7,743.5 L23.7,743.5 L24.7,743.5 L25.6,743.5 L26.6,743.5 L27.6,743.5 L28.5,743.5 L29.5,743.5 L30.5,743.5 L31.4,743.5 L32.4,743.5 L33.4,743.5 L34.3,743.5 L35.3,743.5 L36.3,743.5 L37.2,743.5 L38.2,743.5 L39.2,743.5 L40.1,743.5 L41.1,743.5 L42.1,743.5 L43.0,743.5 L44.0,743.5 L45.0,743.5 L45.9,743.4 L46.9,743.4 L47.9,743.4 L48.8,743.3 L49.8,743.3 L50.8,743.2 L51.7,743.1 L52.7,742.9 L53.7,742.7 L54.6,742.5 L55.6,742.2 L56.6,741.8 L57.5,741.4 L58.5,740.9 L59.5,740.2 L60.4,739.4 L61.4,738.5 L62.4,737.4 L63.3,736.1 L64.3,734.6 L65.3,732.8 L66.2,730.8 L67.2,728.5 L68.2,726.0 L69.1,723.1 L70.1,719.9 L71.1,716.3 L72.1,712.4 L73.0,708.2 L74.0,703.7 L75.0,698.9 L75.9,693.8 L76.9,688.4 L77.9,682.9 L78.8,677.3 L79.8,671.5 L80.8,665.8 L81.7,660.1 L82.7,654.6 L83.7,649.3 L84.6,644.3 L85.6,639.7 L86.6,635.6 L87.5,632.0 L88.5,629.0 L89.5,626.7 L90.4,625.1 L91.4,624.2 L92.4,624.1 L93.3,624.7 L94.3,626.1 L95.3,628.2 L96.2,631.1 L97.2,634.5 L98.2,638.6 L99.1,643.1 L100.1,648.2 L101.1,653.5 L102.0,659.2 L103.0,665.1 L104.0,671.0 L104.9,677.1 L105.9,683.1 L106.9,688.9 L107.8,694.7 L108.8,700.2 L109.8,705.5 L110.7,710.4 L111.7,715.1 L112.7,719.4 L113.6,723.4 L114.6,727.0 L115.6,730.3 L116.5,733.3 L117.5,735.9 L118.5,738.2 L119.4,740.3 L120.4,742.1 L121.4,743.6 L122.3,745.0 L123.3,746.1 L124.3,747.1 L125.2,747.9 L126.2,748.6 L127.2,749.1 L128.1,749.6 L129.1,750.0 L130.1,750.3 L131.0,750.5 L132.0,750.7 L133.0,750.9 L133.9,751.0 L134.9,751.1 L135.9,751.2 L136.8,751.3 L137.8,751.3 L138.8,751.4 L139.7,751.4 L140.7,751.4 L141.7,751.4 L142.6,751.4 L143.6,751.5 L144.6,751.5 L145.5,751.5 L146.5,751.5 L147.5,751.5 L148.4,751.5 L149.4,751.5 L150.4,751.5 L151.3,751.5 L152.3,751.5 L153.3,751.5 L154.2,751.5 L155.2,751.5 L156.2,751.5 L157.1,751.5 L158.1,751.5 L159.1,751.5 L160.0,751.5 L161.0,751.5 L162.0,751.5 L162.9,751.5 L163.9,751.5 L164.9,751.5 L165.8,751.5 L166.8,751.5 L167.8,751.5 L168.8,751.5 L169.7,751.5 L170.7,751.5 L171.7,751.5 L172.6,751.5 L173.6,751.5 L174.6,751.5 L175.5,751.5 L176.5,751.5 L177.5,751.5 L178.4,751.5 L179.4,751.5 L180.4,751.5 L181.3,751.5 L182.3,751.5 L183.3,751.5 L184.2,751.5 L185.2,751.5 L186.2,751.5 L187.1,751.5 L188.1,751.5 L189.1,751.5 L190.0,751.5 L191.0,751.5 L192.0,751.5 L192.9,751.5 L193.9,751.5 L194.9,751.5 L195.8,751.5 L196.8,751.5 L197.8,751.5 L198.7,751.5 L199.7,751.5 L200.7,751.5 L201.6,751.5 L202.6,751.5 L203.6,751.5 L204.5,751.5 L205.5,751.5 L206.5,751.5 L207.4,751.5 L208.4,751.5 L209.4,751.5 L210.3,751.5 L211.3,751.5 L212.3,751.5 L213.2,751.5 L214.2,751.5 L214.2,751.5 L213.2,751.5 L212.3,751.5 L211.3,751.5 L210.3,751.5 L209.4,751.5 L208.4,751.5 L207.4,751.5 L206.5,751.5 L205.5,751.5 L204.5,751.5 L203.6,751.5 L202.6,751.5 L201.6,751.5 L200.7,751.5 L199.7,751.5 L198.7,751.5 L197.8,751.5 L196.8,751.5 L195.8,751.5 L194.9,751.5 L193.9,751.5 L192.9,751.5 L192.0,751.5 L191.0,751.5 L190.0,751.5 L189.1,751.5 L188.1,751.5 L187.1,751.5 L186.2,751.5 L185.2,751.5 L184.2,751.5 L183.3,751.5 L182.3,751.5 L181.3,751.5 L180.4,751.5 L179.4,751.5 L178.4,751.5 L177.5,751.5 L176.5,751.5 L175.5,751.5 L174.6,751.5 L173.6,751.5 L172.6,751.5 L171.7,751.5 L170.7,751.5 L169.7,751.5 L168.8,751.5 L167.8,751.5 L166.8,751.5 L165.8,751.5 L164.9,751.5 L163.9,751.5 L162.9,751.5 L162.0,751.5 L161.0,751.5 L160.0,751.5 L159.1,751.5 L158.1,751.5 L157.1,751.5 L156.2,751.5 L155.2,751.5 L154.2,751.5 L153.3,751.5 L152.3,751.5 L151.3,751.5 L150.4,751.5 L149.4,751.5 L148.4,751.5 L147.5,751.5 L146.5,751.5 L145.5,751.5 L144.6,751.5 L143.6,751.5 L142.6,751.5 L141.7,751.5 L140.7,751.5 L139.7,751.5 L138.8,751.5 L137.8,751.5 L136.8,751.4 L135.9,751.4 L134.9,751.4 L133.9,751.4 L133.0,751.4 L132.0,751.4 L131.0,751.4 L130.1,751.4 L129.1,751.4 L128.1,751.4 L127.2,751.3 L126.2,751.3 L125.2,751.3 L124.3,751.3 L123.3,751.3 L122.3,751.2 L121.4,751.2 L120.4,751.2 L119.4,751.1 L118.5,751.1 L117.5,751.1 L116.5,751.0 L115.6,751.0 L114.6,750.9 L113.6,750.8 L112.7,750.8 L111.7,750.7 L110.7,750.6 L109.8,750.5 L108.8,750.4 L107.8,750.3 L106.9,750.2 L105.9,750.1 L104.9,750.0 L104.0,749.8 L103.0,749.7 L102.0,749.5 L101.1,749.4 L100.1,749.2 L99.1,749.0 L98.2,748.8 L97.2,748.6 L96.2,748.4 L95.3,748.2 L94.3,748.0 L93.3,747.8 L92.4,747.6 L91.4,747.4 L90.4,747.2 L89.5,746.9 L88.5,746.7 L87.5,746.5 L86.6,746.3 L85.6,746.1 L84.6,745.9 L83.7,745.8 L82.7,745.6 L81.7,745.4 L80.8,745.3 L79.8,745.1 L78.8,745.0 L77.9,744.9 L76.9,744.8 L75.9,744.6 L75.0,744.5 L74.0,744.5 L73.0,744.4 L72.1,744.3 L71.1,744.2 L70.1,744.1 L69.1,744.1 L68.2,744.0 L67.2,744.0 L66.2,743.9 L65.3,743.9 L64.3,743.9 L63.3,743.8 L62.4,743.8 L61.4,743.8 L60.4,743.7 L59.5,743.7 L58.5,743.7 L57.5,743.7 L56.6,743.7 L55.6,743.6 L54.6,743.6 L53.7,743.6 L52.7,743.6 L51.7,743.6 L50.8,743.6 L49.8,743.6 L48.8,743.6 L47.9,743.6 L46.9,743.6 L45.9,743.5 L45.0,743.5 L44.0,743.5 L43.0,743.5 L42.1,743.5 L41.1,743.5 L40.1,743.5 L39.2,743.5 L38.2,743.5 L37.2,743.5 L36.3,743.5 L35.3,743.5 L34.3,743.5 L33.4,743.5 L32.4,743.5 L31.4,743.5 L30.5,743.5 L29.5,743.5 L28.5,743.5 L27.6,743.5 L26.6,743.5 L25.6,743.5 L24.7,743.5 L23.7,743.5 L22.7,743.5 L21.8,743.5 L20.8,743.5Z" fill="url(#gGaN)"/>
<path d="M20.8,743.5 L21.8,743.5 L22.7,743.5 L23.7,743.5 L24.7,743.5 L25.6,743.5 L26.6,743.5 L27.6,743.5 L28.5,743.5 L29.5,743.5 L30.5,743.5 L31.4,743.5 L32.4,743.5 L33.4,743.5 L34.3,743.5 L35.3,743.5 L36.3,743.5 L37.2,743.5 L38.2,743.5 L39.2,743.5 L40.1,743.5 L41.1,743.5 L42.1,743.5 L43.0,743.5 L44.0,743.5 L45.0,743.5 L45.9,743.5 L46.9,743.6 L47.9,743.6 L48.8,743.6 L49.8,743.6 L50.8,743.6 L51.7,743.6 L52.7,743.6 L53.7,743.6 L54.6,743.6 L55.6,743.6 L56.6,743.7 L57.5,743.7 L58.5,743.7 L59.5,743.7 L60.4,743.7 L61.4,743.8 L62.4,743.8 L63.3,743.8 L64.3,743.9 L65.3,743.9 L66.2,743.9 L67.2,744.0 L68.2,744.0 L69.1,744.1 L70.1,744.1 L71.1,744.2 L72.1,744.3 L73.0,744.4 L74.0,744.5 L75.0,744.5 L75.9,744.6 L76.9,744.8 L77.9,744.9 L78.8,745.0 L79.8,745.1 L80.8,745.3 L81.7,745.4 L82.7,745.6 L83.7,745.8 L84.6,745.9 L85.6,746.1 L86.6,746.3 L87.5,746.5 L88.5,746.7 L89.5,746.9 L90.4,747.1 L91.4,747.3 L92.4,747.5 L93.3,747.7 L94.3,747.9 L95.3,748.1 L96.2,748.3 L97.2,748.5 L98.2,748.6 L99.1,748.8 L100.1,748.9 L101.1,749.1 L102.0,749.2 L103.0,749.3 L104.0,749.4 L104.9,749.4 L105.9,749.5 L106.9,749.5 L107.8,749.6 L108.8,749.5 L109.8,749.5 L110.7,749.5 L111.7,749.4 L112.7,749.4 L113.6,749.3 L114.6,749.1 L115.6,749.0 L116.5,748.9 L117.5,748.7 L118.5,748.5 L119.4,748.3 L120.4,748.1 L121.4,747.9 L122.3,747.7 L123.3,747.4 L124.3,747.2 L125.2,747.0 L126.2,746.7 L127.2,746.5 L128.1,746.2 L129.1,746.0 L130.1,745.7 L131.0,745.5 L132.0,745.3 L133.0,745.1 L133.9,744.9 L134.9,744.8 L135.9,744.6 L136.8,744.5 L137.8,744.4 L138.8,744.3 L139.7,744.3 L140.7,744.3 L141.7,744.3 L142.6,744.3 L143.6,744.4 L144.6,744.5 L145.5,744.6 L146.5,744.7 L147.5,744.9 L148.4,745.1 L149.4,745.2 L150.4,745.5 L151.3,745.7 L152.3,745.9 L153.3,746.2 L154.2,746.4 L155.2,746.7 L156.2,747.0 L157.1,747.3 L158.1,747.5 L159.1,747.8 L160.0,748.0 L161.0,748.3 L162.0,748.5 L162.9,748.8 L163.9,749.0 L164.9,749.2 L165.8,749.4 L166.8,749.6 L167.8,749.8 L168.8,750.0 L169.7,750.1 L170.7,750.3 L171.7,750.4 L172.6,750.6 L173.6,750.7 L174.6,750.8 L175.5,750.9 L176.5,750.9 L177.5,751.0 L178.4,751.1 L179.4,751.1 L180.4,751.2 L181.3,751.2 L182.3,751.3 L183.3,751.3 L184.2,751.3 L185.2,751.4 L186.2,751.4 L187.1,751.4 L188.1,751.4 L189.1,751.4 L190.0,751.4 L191.0,751.5 L192.0,751.5 L192.9,751.5 L193.9,751.5 L194.9,751.5 L195.8,751.5 L196.8,751.5 L197.8,751.5 L198.7,751.5 L199.7,751.5 L200.7,751.5 L201.6,751.5 L202.6,751.5 L203.6,751.5 L204.5,751.5 L205.5,751.5 L206.5,751.5 L207.4,751.5 L208.4,751.5 L209.4,751.5 L210.3,751.5 L211.3,751.5 L212.3,751.5 L213.2,751.5 L214.2,751.5 L214.2,751.5 L213.2,751.5 L212.3,751.5 L211.3,751.5 L210.3,751.5 L209.4,751.5 L208.4,751.5 L207.4,751.5 L206.5,751.5 L205.5,751.5 L204.5,751.5 L203.6,751.5 L202.6,751.5 L201.6,751.5 L200.7,751.5 L199.7,751.5 L198.7,751.5 L197.8,751.5 L196.8,751.5 L195.8,751.5 L194.9,751.5 L193.9,751.5 L192.9,751.5 L192.0,751.5 L191.0,751.5 L190.0,751.5 L189.1,751.5 L188.1,751.5 L187.1,751.5 L186.2,751.5 L185.2,751.5 L184.2,751.5 L183.3,751.5 L182.3,751.5 L181.3,751.5 L180.4,751.5 L179.4,751.5 L178.4,751.5 L177.5,751.5 L176.5,751.5 L175.5,751.5 L174.6,751.5 L173.6,751.5 L172.6,751.5 L171.7,751.5 L170.7,751.5 L169.7,751.5 L168.8,751.5 L167.8,751.5 L166.8,751.5 L165.8,751.5 L164.9,751.5 L163.9,751.5 L162.9,751.5 L162.0,751.5 L161.0,751.5 L160.0,751.5 L159.1,751.5 L158.1,751.5 L157.1,751.5 L156.2,751.5 L155.2,751.5 L154.2,751.5 L153.3,751.5 L152.3,751.5 L151.3,751.5 L150.4,751.5 L149.4,751.5 L148.4,751.5 L147.5,751.5 L146.5,751.5 L145.5,751.5 L144.6,751.5 L143.6,751.5 L142.6,751.5 L141.7,751.5 L140.7,751.5 L139.7,751.5 L138.8,751.5 L137.8,751.5 L136.8,751.4 L135.9,751.4 L134.9,751.4 L133.9,751.4 L133.0,751.4 L132.0,751.4 L131.0,751.4 L130.1,751.4 L129.1,751.4 L128.1,751.4 L127.2,751.3 L126.2,751.3 L125.2,751.3 L124.3,751.3 L123.3,751.3 L122.3,751.2 L121.4,751.2 L120.4,751.2 L119.4,751.1 L118.5,751.1 L117.5,751.1 L116.5,751.0 L115.6,751.0 L114.6,750.9 L113.6,750.8 L112.7,750.8 L111.7,750.7 L110.7,750.6 L109.8,750.5 L108.8,750.4 L107.8,750.3 L106.9,750.2 L105.9,750.1 L104.9,750.0 L104.0,749.8 L103.0,749.7 L102.0,749.5 L101.1,749.4 L100.1,749.2 L99.1,749.0 L98.2,748.8 L97.2,748.6 L96.2,748.4 L95.3,748.2 L94.3,748.0 L93.3,747.8 L92.4,747.6 L91.4,747.4 L90.4,747.2 L89.5,746.9 L88.5,746.7 L87.5,746.5 L86.6,746.3 L85.6,746.1 L84.6,745.9 L83.7,745.8 L82.7,745.6 L81.7,745.4 L80.8,745.3 L79.8,745.1 L78.8,745.0 L77.9,744.9 L76.9,744.8 L75.9,744.6 L75.0,744.5 L74.0,744.5 L73.0,744.4 L72.1,744.3 L71.1,744.2 L70.1,744.1 L69.1,744.1 L68.2,744.0 L67.2,744.0 L66.2,743.9 L65.3,743.9 L64.3,743.9 L63.3,743.8 L62.4,743.8 L61.4,743.8 L60.4,743.7 L59.5,743.7 L58.5,743.7 L57.5,743.7 L56.6,743.7 L55.6,743.6 L54.6,743.6 L53.7,743.6 L52.7,743.6 L51.7,743.6 L50.8,743.6 L49.8,743.6 L48.8,743.6 L47.9,743.6 L46.9,743.6 L45.9,743.5 L45.0,743.5 L44.0,743.5 L43.0,743.5 L42.1,743.5 L41.1,743.5 L40.1,743.5 L39.2,743.5 L38.2,743.5 L37.2,743.5 L36.3,743.5 L35.3,743.5 L34.3,743.5 L33.4,743.5 L32.4,743.5 L31.4,743.5 L30.5,743.5 L29.5,743.5 L28.5,743.5 L27.6,743.5 L26.6,743.5 L25.6,743.5 L24.7,743.5 L23.7,743.5 L22.7,743.5 L21.8,743.5 L20.8,743.5Z" fill="url(#gN2S)"/>
<path d="M20.8,743.5 L21.8,743.5 L22.7,743.5 L23.7,743.5 L24.7,743.5 L25.6,743.5 L26.6,743.5 L27.6,743.5 L28.5,743.5 L29.5,743.5 L30.5,743.5 L31.4,743.5 L32.4,743.5 L33.4,743.5 L34.3,743.4 L35.3,743.4 L36.3,743.4 L37.2,743.3 L38.2,743.3 L39.2,743.2 L40.1,743.1 L41.1,743.0 L42.1,742.8 L43.0,742.7 L44.0,742.5 L45.0,742.2 L45.9,741.9 L46.9,741.5 L47.9,741.1 L48.8,740.6 L49.8,740.1 L50.8,739.5 L51.7,738.8 L52.7,738.0 L53.7,737.2 L54.6,736.3 L55.6,735.4 L56.6,734.4 L57.5,733.3 L58.5,732.3 L59.5,731.2 L60.4,730.2 L61.4,729.2 L62.4,728.2 L63.3,727.3 L64.3,726.6 L65.3,725.9 L66.2,725.3 L67.2,724.9 L68.2,724.7 L69.1,724.6 L70.1,724.7 L71.1,724.9 L72.1,725.3 L73.0,725.9 L74.0,726.6 L75.0,727.5 L75.9,728.4 L76.9,729.5 L77.9,730.6 L78.8,731.8 L79.8,733.0 L80.8,734.2 L81.7,735.4 L82.7,736.6 L83.7,737.8 L84.6,738.9 L85.6,740.0 L86.6,741.0 L87.5,741.9 L88.5,742.8 L89.5,743.6 L90.4,744.4 L91.4,745.1 L92.4,745.7 L93.3,746.2 L94.3,746.7 L95.3,747.2 L96.2,747.6 L97.2,748.0 L98.2,748.3 L99.1,748.6 L100.1,748.9 L101.1,749.1 L102.0,749.3 L103.0,749.5 L104.0,749.7 L104.9,749.9 L105.9,750.0 L106.9,750.2 L107.8,750.3 L108.8,750.4 L109.8,750.5 L110.7,750.6 L111.7,750.7 L112.7,750.8 L113.6,750.8 L114.6,750.9 L115.6,751.0 L116.5,751.0 L117.5,751.1 L118.5,751.1 L119.4,751.1 L120.4,751.2 L121.4,751.2 L122.3,751.2 L123.3,751.3 L124.3,751.3 L125.2,751.3 L126.2,751.3 L127.2,751.3 L128.1,751.4 L129.1,751.4 L130.1,751.4 L131.0,751.4 L132.0,751.4 L133.0,751.4 L133.9,751.4 L134.9,751.4 L135.9,751.4 L136.8,751.4 L137.8,751.5 L138.8,751.5 L139.7,751.5 L140.7,751.5 L141.7,751.5 L142.6,751.5 L143.6,751.5 L144.6,751.5 L145.5,751.5 L146.5,751.5 L147.5,751.5 L148.4,751.5 L149.4,751.5 L150.4,751.5 L151.3,751.5 L152.3,751.5 L153.3,751.5 L154.2,751.5 L155.2,751.5 L156.2,751.5 L157.1,751.5 L158.1,751.5 L159.1,751.5 L160.0,751.5 L161.0,751.5 L162.0,751.5 L162.9,751.5 L163.9,751.5 L164.9,751.5 L165.8,751.5 L166.8,751.5 L167.8,751.5 L168.8,751.5 L169.7,751.5 L170.7,751.5 L171.7,751.5 L172.6,751.5 L173.6,751.5 L174.6,751.5 L175.5,751.5 L176.5,751.5 L177.5,751.5 L178.4,751.5 L179.4,751.5 L180.4,751.5 L181.3,751.5 L182.3,751.5 L183.3,751.5 L184.2,751.5 L185.2,751.5 L186.2,751.5 L187.1,751.5 L188.1,751.5 L189.1,751.5 L190.0,751.5 L191.0,751.5 L192.0,751.5 L192.9,751.5 L193.9,751.5 L194.9,751.5 L195.8,751.5 L196.8,751.5 L197.8,751.5 L198.7,751.5 L199.7,751.5 L200.7,751.5 L201.6,751.5 L202.6,751.5 L203.6,751.5 L204.5,751.5 L205.5,751.5 L206.5,751.5 L207.4,751.5 L208.4,751.5 L209.4,751.5 L210.3,751.5 L211.3,751.5 L212.3,751.5 L213.2,751.5 L214.2,751.5 L214.2,751.5 L213.2,751.5 L212.3,751.5 L211.3,751.5 L210.3,751.5 L209.4,751.5 L208.4,751.5 L207.4,751.5 L206.5,751.5 L205.5,751.5 L204.5,751.5 L203.6,751.5 L202.6,751.5 L201.6,751.5 L200.7,751.5 L199.7,751.5 L198.7,751.5 L197.8,751.5 L196.8,751.5 L195.8,751.5 L194.9,751.5 L193.9,751.5 L192.9,751.5 L192.0,751.5 L191.0,751.5 L190.0,751.5 L189.1,751.5 L188.1,751.5 L187.1,751.5 L186.2,751.5 L185.2,751.5 L184.2,751.5 L183.3,751.5 L182.3,751.5 L181.3,751.5 L180.4,751.5 L179.4,751.5 L178.4,751.5 L177.5,751.5 L176.5,751.5 L175.5,751.5 L174.6,751.5 L173.6,751.5 L172.6,751.5 L171.7,751.5 L170.7,751.5 L169.7,751.5 L168.8,751.5 L167.8,751.5 L166.8,751.5 L165.8,751.5 L164.9,751.5 L163.9,751.5 L162.9,751.5 L162.0,751.5 L161.0,751.5 L160.0,751.5 L159.1,751.5 L158.1,751.5 L157.1,751.5 L156.2,751.5 L155.2,751.5 L154.2,751.5 L153.3,751.5 L152.3,751.5 L151.3,751.5 L150.4,751.5 L149.4,751.5 L148.4,751.5 L147.5,751.5 L146.5,751.5 L145.5,751.5 L144.6,751.5 L143.6,751.5 L142.6,751.5 L141.7,751.5 L140.7,751.5 L139.7,751.5 L138.8,751.5 L137.8,751.5 L136.8,751.4 L135.9,751.4 L134.9,751.4 L133.9,751.4 L133.0,751.4 L132.0,751.4 L131.0,751.4 L130.1,751.4 L129.1,751.4 L128.1,751.4 L127.2,751.3 L126.2,751.3 L125.2,751.3 L124.3,751.3 L123.3,751.3 L122.3,751.2 L121.4,751.2 L120.4,751.2 L119.4,751.1 L118.5,751.1 L117.5,751.1 L116.5,751.0 L115.6,751.0 L114.6,750.9 L113.6,750.8 L112.7,750.8 L111.7,750.7 L110.7,750.6 L109.8,750.5 L108.8,750.4 L107.8,750.3 L106.9,750.2 L105.9,750.1 L104.9,750.0 L104.0,749.8 L103.0,749.7 L102.0,749.5 L101.1,749.4 L100.1,749.2 L99.1,749.0 L98.2,748.8 L97.2,748.6 L96.2,748.4 L95.3,748.2 L94.3,748.0 L93.3,747.8 L92.4,747.6 L91.4,747.4 L90.4,747.2 L89.5,746.9 L88.5,746.7 L87.5,746.5 L86.6,746.3 L85.6,746.1 L84.6,745.9 L83.7,745.8 L82.7,745.6 L81.7,745.4 L80.8,745.3 L79.8,745.1 L78.8,745.0 L77.9,744.9 L76.9,744.8 L75.9,744.6 L75.0,744.5 L74.0,744.5 L73.0,744.4 L72.1,744.3 L71.1,744.2 L70.1,744.1 L69.1,744.1 L68.2,744.0 L67.2,744.0 L66.2,743.9 L65.3,743.9 L64.3,743.9 L63.3,743.8 L62.4,743.8 L61.4,743.8 L60.4,743.7 L59.5,743.7 L58.5,743.7 L57.5,743.7 L56.6,743.7 L55.6,743.6 L54.6,743.6 L53.7,743.6 L52.7,743.6 L51.7,743.6 L50.8,743.6 L49.8,743.6 L48.8,743.6 L47.9,743.6 L46.9,743.6 L45.9,743.5 L45.0,743.5 L44.0,743.5 L43.0,743.5 L42.1,743.5 L41.1,743.5 L40.1,743.5 L39.2,743.5 L38.2,743.5 L37.2,743.5 L36.3,743.5 L35.3,743.5 L34.3,743.5 L33.4,743.5 L32.4,743.5 L31.4,743.5 L30.5,743.5 L29.5,743.5 L28.5,743.5 L27.6,743.5 L26.6,743.5 L25.6,743.5 L24.7,743.5 L23.7,743.5 L22.7,743.5 L21.8,743.5 L20.8,743.5Z" fill="url(#gGaO)"/>
<path d="M20.8,743.5 L21.8,743.5 L22.7,743.5 L23.7,743.5 L24.7,743.5 L25.6,743.5 L26.6,743.5 L27.6,743.5 L28.5,743.5 L29.5,743.5 L30.5,743.5 L31.4,743.5 L32.4,743.5 L33.4,743.5 L34.3,743.5 L35.3,743.5 L36.3,743.5 L37.2,743.5 L38.2,743.5 L39.2,743.5 L40.1,743.5 L41.1,743.5 L42.1,743.5 L43.0,743.5 L44.0,743.5 L45.0,743.5 L45.9,743.5 L46.9,743.6 L47.9,743.6 L48.8,743.6 L49.8,743.6 L50.8,743.6 L51.7,743.6 L52.7,743.6 L53.7,743.6 L54.6,743.6 L55.6,743.6 L56.6,743.7 L57.5,743.7 L58.5,743.7 L59.5,743.7 L60.4,743.7 L61.4,743.8 L62.4,743.8 L63.3,743.8 L64.3,743.9 L65.3,743.9 L66.2,743.9 L67.2,744.0 L68.2,744.0 L69.1,744.1 L70.1,744.1 L71.1,744.2 L72.1,744.3 L73.0,744.4 L74.0,744.5 L75.0,744.5 L75.9,744.6 L76.9,744.8 L77.9,744.9 L78.8,745.0 L79.8,745.1 L80.8,745.3 L81.7,745.4 L82.7,745.6 L83.7,745.8 L84.6,745.9 L85.6,746.1 L86.6,746.3 L87.5,746.5 L88.5,746.7 L89.5,746.9 L90.4,747.2 L91.4,747.4 L92.4,747.6 L93.3,747.8 L94.3,748.0 L95.3,748.2 L96.2,748.4 L97.2,748.6 L98.2,748.8 L99.1,749.0 L100.1,749.2 L101.1,749.4 L102.0,749.5 L103.0,749.7 L104.0,749.8 L104.9,750.0 L105.9,750.1 L106.9,750.2 L107.8,750.3 L108.8,750.4 L109.8,750.5 L110.7,750.6 L111.7,750.7 L112.7,750.8 L113.6,750.8 L114.6,750.9 L115.6,751.0 L116.5,751.0 L117.5,751.1 L118.5,751.1 L119.4,751.1 L120.4,751.2 L121.4,751.2 L122.3,751.2 L123.3,751.3 L124.3,751.3 L125.2,751.3 L126.2,751.3 L127.2,751.3 L128.1,751.4 L129.1,751.4 L130.1,751.4 L131.0,751.4 L132.0,751.4 L133.0,751.4 L133.9,751.4 L134.9,751.4 L135.9,751.4 L136.8,751.4 L137.8,751.5 L138.8,751.5 L139.7,751.5 L140.7,751.5 L141.7,751.5 L142.6,751.5 L143.6,751.5 L144.6,751.5 L145.5,751.5 L146.5,751.5 L147.5,751.5 L148.4,751.5 L149.4,751.5 L150.4,751.5 L151.3,751.5 L152.3,751.5 L153.3,751.5 L154.2,751.5 L155.2,751.5 L156.2,751.5 L157.1,751.5 L158.1,751.5 L159.1,751.5 L160.0,751.5 L161.0,751.5 L162.0,751.5 L162.9,751.5 L163.9,751.5 L164.9,751.5 L165.8,751.5 L166.8,751.5 L167.8,751.5 L168.8,751.5 L169.7,751.5 L170.7,751.5 L171.7,751.5 L172.6,751.5 L173.6,751.5 L174.6,751.5 L175.5,751.5 L176.5,751.5 L177.5,751.5 L178.4,751.5 L179.4,751.5 L180.4,751.5 L181.3,751.5 L182.3,751.5 L183.3,751.5 L184.2,751.5 L185.2,751.5 L186.2,751.5 L187.1,751.5 L188.1,751.5 L189.1,751.5 L190.0,751.5 L191.0,751.5 L192.0,751.5 L192.9,751.5 L193.9,751.5 L194.9,751.5 L195.8,751.5 L196.8,751.5 L197.8,751.5 L198.7,751.5 L199.7,751.5 L200.7,751.5 L201.6,751.5 L202.6,751.5 L203.6,751.5 L204.5,751.5 L205.5,751.5 L206.5,751.5 L207.4,751.5 L208.4,751.5 L209.4,751.5 L210.3,751.5 L211.3,751.5 L212.3,751.5 L213.2,751.5 L214.2,751.5" fill="none" stroke="#777" stroke-width="0.6"/>
<path d="M20.8,743.5 L21.8,743.5 L22.7,743.5 L23.7,743.5 L24.7,743.5 L25.6,743.5 L26.6,743.5 L27.6,743.5 L28.5,743.5 L29.5,743.5 L30.5,743.5 L31.4,743.5 L32.4,743.4 L33.4,743.4 L34.3,743.4 L35.3,743.4 L36.3,743.3 L37.2,743.3 L38.2,743.2 L39.2,743.1 L40.1,743.0 L41.1,742.9 L42.1,742.7 L43.0,742.5 L44.0,742.3 L45.0,742.0 L45.9,741.7 L46.9,741.2 L47.9,740.8 L48.8,740.2 L49.8,739.6 L50.8,738.8 L51.7,738.0 L52.7,737.0 L53.7,736.0 L54.6,734.8 L55.6,733.5 L56.6,732.1 L57.5,730.5 L58.5,728.9 L59.5,727.1 L60.4,725.2 L61.4,723.2 L62.4,721.0 L63.3,718.7 L64.3,716.3 L65.3,713.8 L66.2,711.2 L67.2,708.4 L68.2,705.4 L69.1,702.3 L70.1,699.0 L71.1,695.6 L72.1,692.0 L73.0,688.2 L74.0,684.2 L75.0,680.1 L75.9,675.8 L76.9,671.3 L77.9,666.7 L78.8,662.1 L79.8,657.4 L80.8,652.7 L81.7,648.0 L82.7,643.5 L83.7,639.2 L84.6,635.1 L85.6,631.4 L86.6,628.0 L87.5,625.2 L88.5,622.9 L89.5,621.2 L90.4,620.1 L91.4,619.7 L92.4,620.0 L93.3,621.0 L94.3,622.7 L95.3,625.1 L96.2,628.1 L97.2,631.8 L98.2,636.0 L99.1,640.7 L100.1,645.9 L101.1,651.3 L102.0,657.1 L103.0,663.0 L104.0,669.0 L104.9,675.1 L105.9,681.1 L106.9,687.0 L107.8,692.7 L108.8,698.2 L109.8,703.4 L110.7,708.3 L111.7,712.9 L112.7,717.1 L113.6,721.0 L114.6,724.5 L115.6,727.7 L116.5,730.5 L117.5,733.0 L118.5,735.2 L119.4,737.0 L120.4,738.6 L121.4,739.9 L122.3,741.1 L123.3,742.0 L124.3,742.7 L125.2,743.3 L126.2,743.7 L127.2,744.0 L128.1,744.3 L129.1,744.4 L130.1,744.5 L131.0,744.5 L132.0,744.5 L133.0,744.5 L133.9,744.4 L134.9,744.4 L135.9,744.3 L136.8,744.3 L137.8,744.2 L138.8,744.2 L139.7,744.2 L140.7,744.2 L141.7,744.2 L142.6,744.3 L143.6,744.3 L144.6,744.4 L145.5,744.6 L146.5,744.7 L147.5,744.9 L148.4,745.0 L149.4,745.2 L150.4,745.5 L151.3,745.7 L152.3,745.9 L153.3,746.2 L154.2,746.4 L155.2,746.7 L156.2,747.0 L157.1,747.3 L158.1,747.5 L159.1,747.8 L160.0,748.0 L161.0,748.3 L162.0,748.5 L162.9,748.8 L163.9,749.0 L164.9,749.2 L165.8,749.4 L166.8,749.6 L167.8,749.8 L168.8,750.0 L169.7,750.1 L170.7,750.3 L171.7,750.4 L172.6,750.6 L173.6,750.7 L174.6,750.8 L175.5,750.9 L176.5,750.9 L177.5,751.0 L178.4,751.1 L179.4,751.1 L180.4,751.2 L181.3,751.2 L182.3,751.3 L183.3,751.3 L184.2,751.3 L185.2,751.4 L186.2,751.4 L187.1,751.4 L188.1,751.4 L189.1,751.4 L190.0,751.4 L191.0,751.5 L192.0,751.5 L192.9,751.5 L193.9,751.5 L194.9,751.5 L195.8,751.5 L196.8,751.5 L197.8,751.5 L198.7,751.5 L199.7,751.5 L200.7,751.5 L201.6,751.5 L202.6,751.5 L203.6,751.5 L204.5,751.5 L205.5,751.5 L206.5,751.5 L207.4,751.5 L208.4,751.5 L209.4,751.5 L210.3,751.5 L211.3,751.5 L212.3,751.5 L213.2,751.5 L214.2,751.5" fill="none" stroke="#f02828" stroke-width="1.3"/>
<path d="M20.8,743.5 L21.8,743.5 L22.7,743.5 L23.7,743.5 L24.7,743.5 L25.6,743.5 L26.6,743.5 L27.6,743.5 L28.5,743.5 L29.5,743.5 L30.5,743.5 L31.4,743.5 L32.4,743.5 L33.4,743.5 L34.3,743.5 L35.3,743.5 L36.3,743.5 L37.2,743.5 L38.2,743.5 L39.2,743.5 L40.1,743.5 L41.1,743.5 L42.1,743.5 L43.0,743.5 L44.0,743.5 L45.0,743.5 L45.9,743.4 L46.9,743.4 L47.9,743.4 L48.8,743.3 L49.8,743.3 L50.8,743.2 L51.7,743.1 L52.7,742.9 L53.7,742.7 L54.6,742.5 L55.6,742.2 L56.6,741.8 L57.5,741.4 L58.5,740.9 L59.5,740.2 L60.4,739.4 L61.4,738.5 L62.4,737.4 L63.3,736.1 L64.3,734.6 L65.3,732.8 L66.2,730.8 L67.2,728.5 L68.2,726.0 L69.1,723.1 L70.1,719.9 L71.1,716.3 L72.1,712.4 L73.0,708.2 L74.0,703.7 L75.0,698.9 L75.9,693.8 L76.9,688.4 L77.9,682.9 L78.8,677.3 L79.8,671.5 L80.8,665.8 L81.7,660.1 L82.7,654.6 L83.7,649.3 L84.6,644.3 L85.6,639.7 L86.6,635.6 L87.5,632.0 L88.5,629.0 L89.5,626.7 L90.4,625.1 L91.4,624.2 L92.4,624.1 L93.3,624.7 L94.3,626.1 L95.3,628.2 L96.2,631.1 L97.2,634.5 L98.2,638.6 L99.1,643.1 L100.1,648.2 L101.1,653.5 L102.0,659.2 L103.0,665.1 L104.0,671.0 L104.9,677.1 L105.9,683.1 L106.9,688.9 L107.8,694.7 L108.8,700.2 L109.8,705.5 L110.7,710.4 L111.7,715.1 L112.7,719.4 L113.6,723.4 L114.6,727.0 L115.6,730.3 L116.5,733.3 L117.5,735.9 L118.5,738.2 L119.4,740.3 L120.4,742.1 L121.4,743.6 L122.3,745.0 L123.3,746.1 L124.3,747.1 L125.2,747.9 L126.2,748.6 L127.2,749.1 L128.1,749.6 L129.1,750.0 L130.1,750.3 L131.0,750.5 L132.0,750.7 L133.0,750.9 L133.9,751.0 L134.9,751.1 L135.9,751.2 L136.8,751.3 L137.8,751.3 L138.8,751.4 L139.7,751.4 L140.7,751.4 L141.7,751.4 L142.6,751.4 L143.6,751.5 L144.6,751.5 L145.5,751.5 L146.5,751.5 L147.5,751.5 L148.4,751.5 L149.4,751.5 L150.4,751.5 L151.3,751.5 L152.3,751.5 L153.3,751.5 L154.2,751.5 L155.2,751.5 L156.2,751.5 L157.1,751.5 L158.1,751.5 L159.1,751.5 L160.0,751.5 L161.0,751.5 L162.0,751.5 L162.9,751.5 L163.9,751.5 L164.9,751.5 L165.8,751.5 L166.8,751.5 L167.8,751.5 L168.8,751.5 L169.7,751.5 L170.7,751.5 L171.7,751.5 L172.6,751.5 L173.6,751.5 L174.6,751.5 L175.5,751.5 L176.5,751.5 L177.5,751.5 L178.4,751.5 L179.4,751.5 L180.4,751.5 L181.3,751.5 L182.3,751.5 L183.3,751.5 L184.2,751.5 L185.2,751.5 L186.2,751.5 L187.1,751.5 L188.1,751.5 L189.1,751.5 L190.0,751.5 L191.0,751.5 L192.0,751.5 L192.9,751.5 L193.9,751.5 L194.9,751.5 L195.8,751.5 L196.8,751.5 L197.8,751.5 L198.7,751.5 L199.7,751.5 L200.7,751.5 L201.6,751.5 L202.6,751.5 L203.6,751.5 L204.5,751.5 L205.5,751.5 L206.5,751.5 L207.4,751.5 L208.4,751.5 L209.4,751.5 L210.3,751.5 L211.3,751.5 L212.3,751.5 L213.2,751.5 L214.2,751.5" fill="none" stroke="#a070e0" stroke-width="1.2"/>
<path d="M20.8,743.5 L21.8,743.5 L22.7,743.5 L23.7,743.5 L24.7,743.5 L25.6,743.5 L26.6,743.5 L27.6,743.5 L28.5,743.5 L29.5,743.5 L30.5,743.5 L31.4,743.5 L32.4,743.5 L33.4,743.5 L34.3,743.5 L35.3,743.5 L36.3,743.5 L37.2,743.5 L38.2,743.5 L39.2,743.5 L40.1,743.5 L41.1,743.5 L42.1,743.5 L43.0,743.5 L44.0,743.5 L45.0,743.5 L45.9,743.5 L46.9,743.6 L47.9,743.6 L48.8,743.6 L49.8,743.6 L50.8,743.6 L51.7,743.6 L52.7,743.6 L53.7,743.6 L54.6,743.6 L55.6,743.6 L56.6,743.7 L57.5,743.7 L58.5,743.7 L59.5,743.7 L60.4,743.7 L61.4,743.8 L62.4,743.8 L63.3,743.8 L64.3,743.9 L65.3,743.9 L66.2,743.9 L67.2,744.0 L68.2,744.0 L69.1,744.1 L70.1,744.1 L71.1,744.2 L72.1,744.3 L73.0,744.4 L74.0,744.5 L75.0,744.5 L75.9,744.6 L76.9,744.8 L77.9,744.9 L78.8,745.0 L79.8,745.1 L80.8,745.3 L81.7,745.4 L82.7,745.6 L83.7,745.8 L84.6,745.9 L85.6,746.1 L86.6,746.3 L87.5,746.5 L88.5,746.7 L89.5,746.9 L90.4,747.1 L91.4,747.3 L92.4,747.5 L93.3,747.7 L94.3,747.9 L95.3,748.1 L96.2,748.3 L97.2,748.5 L98.2,748.6 L99.1,748.8 L100.1,748.9 L101.1,749.1 L102.0,749.2 L103.0,749.3 L104.0,749.4 L104.9,749.4 L105.9,749.5 L106.9,749.5 L107.8,749.6 L108.8,749.5 L109.8,749.5 L110.7,749.5 L111.7,749.4 L112.7,749.4 L113.6,749.3 L114.6,749.1 L115.6,749.0 L116.5,748.9 L117.5,748.7 L118.5,748.5 L119.4,748.3 L120.4,748.1 L121.4,747.9 L122.3,747.7 L123.3,747.4 L124.3,747.2 L125.2,747.0 L126.2,746.7 L127.2,746.5 L128.1,746.2 L129.1,746.0 L130.1,745.7 L131.0,745.5 L132.0,745.3 L133.0,745.1 L133.9,744.9 L134.9,744.8 L135.9,744.6 L136.8,744.5 L137.8,744.4 L138.8,744.3 L139.7,744.3 L140.7,744.3 L141.7,744.3 L142.6,744.3 L143.6,744.4 L144.6,744.5 L145.5,744.6 L146.5,744.7 L147.5,744.9 L148.4,745.1 L149.4,745.2 L150.4,745.5 L151.3,745.7 L152.3,745.9 L153.3,746.2 L154.2,746.4 L155.2,746.7 L156.2,747.0 L157.1,747.3 L158.1,747.5 L159.1,747.8 L160.0,748.0 L161.0,748.3 L162.0,748.5 L162.9,748.8 L163.9,749.0 L164.9,749.2 L165.8,749.4 L166.8,749.6 L167.8,749.8 L168.8,750.0 L169.7,750.1 L170.7,750.3 L171.7,750.4 L172.6,750.6 L173.6,750.7 L174.6,750.8 L175.5,750.9 L176.5,750.9 L177.5,751.0 L178.4,751.1 L179.4,751.1 L180.4,751.2 L181.3,751.2 L182.3,751.3 L183.3,751.3 L184.2,751.3 L185.2,751.4 L186.2,751.4 L187.1,751.4 L188.1,751.4 L189.1,751.4 L190.0,751.4 L191.0,751.5 L192.0,751.5 L192.9,751.5 L193.9,751.5 L194.9,751.5 L195.8,751.5 L196.8,751.5 L197.8,751.5 L198.7,751.5 L199.7,751.5 L200.7,751.5 L201.6,751.5 L202.6,751.5 L203.6,751.5 L204.5,751.5 L205.5,751.5 L206.5,751.5 L207.4,751.5 L208.4,751.5 L209.4,751.5 L210.3,751.5 L211.3,751.5 L212.3,751.5 L213.2,751.5 L214.2,751.5" fill="none" stroke="#4fd0c8" stroke-width="1.2"/>
<path d="M20.8,743.5 L21.8,743.5 L22.7,743.5 L23.7,743.5 L24.7,743.5 L25.6,743.5 L26.6,743.5 L27.6,743.5 L28.5,743.5 L29.5,743.5 L30.5,743.5 L31.4,743.5 L32.4,743.5 L33.4,743.5 L34.3,743.4 L35.3,743.4 L36.3,743.4 L37.2,743.3 L38.2,743.3 L39.2,743.2 L40.1,743.1 L41.1,743.0 L42.1,742.8 L43.0,742.7 L44.0,742.5 L45.0,742.2 L45.9,741.9 L46.9,741.5 L47.9,741.1 L48.8,740.6 L49.8,740.1 L50.8,739.5 L51.7,738.8 L52.7,738.0 L53.7,737.2 L54.6,736.3 L55.6,735.4 L56.6,734.4 L57.5,733.3 L58.5,732.3 L59.5,731.2 L60.4,730.2 L61.4,729.2 L62.4,728.2 L63.3,727.3 L64.3,726.6 L65.3,725.9 L66.2,725.3 L67.2,724.9 L68.2,724.7 L69.1,724.6 L70.1,724.7 L71.1,724.9 L72.1,725.3 L73.0,725.9 L74.0,726.6 L75.0,727.5 L75.9,728.4 L76.9,729.5 L77.9,730.6 L78.8,731.8 L79.8,733.0 L80.8,734.2 L81.7,735.4 L82.7,736.6 L83.7,737.8 L84.6,738.9 L85.6,740.0 L86.6,741.0 L87.5,741.9 L88.5,742.8 L89.5,743.6 L90.4,744.4 L91.4,745.1 L92.4,745.7 L93.3,746.2 L94.3,746.7 L95.3,747.2 L96.2,747.6 L97.2,748.0 L98.2,748.3 L99.1,748.6 L100.1,748.9 L101.1,749.1 L102.0,749.3 L103.0,749.5 L104.0,749.7 L104.9,749.9 L105.9,750.0 L106.9,750.2 L107.8,750.3 L108.8,750.4 L109.8,750.5 L110.7,750.6 L111.7,750.7 L112.7,750.8 L113.6,750.8 L114.6,750.9 L115.6,751.0 L116.5,751.0 L117.5,751.1 L118.5,751.1 L119.4,751.1 L120.4,751.2 L121.4,751.2 L122.3,751.2 L123.3,751.3 L124.3,751.3 L125.2,751.3 L126.2,751.3 L127.2,751.3 L128.1,751.4 L129.1,751.4 L130.1,751.4 L131.0,751.4 L132.0,751.4 L133.0,751.4 L133.9,751.4 L134.9,751.4 L135.9,751.4 L136.8,751.4 L137.8,751.5 L138.8,751.5 L139.7,751.5 L140.7,751.5 L141.7,751.5 L142.6,751.5 L143.6,751.5 L144.6,751.5 L145.5,751.5 L146.5,751.5 L147.5,751.5 L148.4,751.5 L149.4,751.5 L150.4,751.5 L151.3,751.5 L152.3,751.5 L153.3,751.5 L154.2,751.5 L155.2,751.5 L156.2,751.5 L157.1,751.5 L158.1,751.5 L159.1,751.5 L160.0,751.5 L161.0,751.5 L162.0,751.5 L162.9,751.5 L163.9,751.5 L164.9,751.5 L165.8,751.5 L166.8,751.5 L167.8,751.5 L168.8,751.5 L169.7,751.5 L170.7,751.5 L171.7,751.5 L172.6,751.5 L173.6,751.5 L174.6,751.5 L175.5,751.5 L176.5,751.5 L177.5,751.5 L178.4,751.5 L179.4,751.5 L180.4,751.5 L181.3,751.5 L182.3,751.5 L183.3,751.5 L184.2,751.5 L185.2,751.5 L186.2,751.5 L187.1,751.5 L188.1,751.5 L189.1,751.5 L190.0,751.5 L191.0,751.5 L192.0,751.5 L192.9,751.5 L193.9,751.5 L194.9,751.5 L195.8,751.5 L196.8,751.5 L197.8,751.5 L198.7,751.5 L199.7,751.5 L200.7,751.5 L201.6,751.5 L202.6,751.5 L203.6,751.5 L204.5,751.5 L205.5,751.5 L206.5,751.5 L207.4,751.5 L208.4,751.5 L209.4,751.5 L210.3,751.5 L211.3,751.5 L212.3,751.5 L213.2,751.5 L214.2,751.5" fill="none" stroke="#c8a030" stroke-width="1.2"/>
<rect x="20.8" y="604.6" width="193.4" height="166.1" fill="none" stroke="#000" stroke-width="1.2"/>
<line x1="20.8" y1="770.7" x2="20.8" y2="767.5" stroke="#000" stroke-width="1.1"/>
<text x="20.8" y="786.8" font-size="14.2" fill="#000" text-anchor="middle" font-weight="bold" >24</text>
<line x1="56.1" y1="770.7" x2="56.1" y2="767.5" stroke="#000" stroke-width="1.1"/>
<text x="56.1" y="786.8" font-size="14.2" fill="#000" text-anchor="middle" font-weight="bold" >22</text>
<line x1="91.4" y1="770.7" x2="91.4" y2="767.5" stroke="#000" stroke-width="1.1"/>
<text x="91.4" y="786.8" font-size="14.2" fill="#000" text-anchor="middle" font-weight="bold" >20</text>
<line x1="126.7" y1="770.7" x2="126.7" y2="767.5" stroke="#000" stroke-width="1.1"/>
<text x="126.7" y="786.8" font-size="14.2" fill="#000" text-anchor="middle" font-weight="bold" >18</text>
<line x1="162.0" y1="770.7" x2="162.0" y2="767.5" stroke="#000" stroke-width="1.1"/>
<text x="162.0" y="786.8" font-size="14.2" fill="#000" text-anchor="middle" font-weight="bold" >16</text>
<line x1="197.3" y1="770.7" x2="197.3" y2="767.5" stroke="#000" stroke-width="1.1"/>
<text x="197.3" y="786.8" font-size="14.2" fill="#000" text-anchor="middle" font-weight="bold" >14</text>
<line x1="38.5" y1="770.7" x2="38.5" y2="768.7" stroke="#000" stroke-width="0.9"/>
<line x1="73.8" y1="770.7" x2="73.8" y2="768.7" stroke="#000" stroke-width="0.9"/>
<line x1="109.0" y1="770.7" x2="109.0" y2="768.7" stroke="#000" stroke-width="0.9"/>
<line x1="144.3" y1="770.7" x2="144.3" y2="768.7" stroke="#000" stroke-width="0.9"/>
<line x1="179.7" y1="770.7" x2="179.7" y2="768.7" stroke="#000" stroke-width="0.9"/>
<text x="117.5" y="802.0" font-size="14.6" fill="#000" text-anchor="middle" font-weight="bold" >Binding energy (eV)</text>
<text transform="translate(11.8,687.4) rotate(-90)" font-size="14.6" font-weight="bold" text-anchor="middle">Intensity (a.u.)</text>
<text x="3.7" y="609.0" font-size="15.5" fill="#000" text-anchor="start" font-weight="bold" >(i)</text>
<text x="157.0" y="618.0" font-size="13.8" fill="#000" text-anchor="middle" font-weight="bold" >Ga 3d</text>
<rect x="137.6" y="630.6" width="15.2" height="9" fill="url(#sw_gGaN)" stroke="#a070e0" stroke-width="1.1"/>
<text x="156.1" y="639.9" font-size="13.8" fill="#000" text-anchor="start" font-weight="bold" >Ga-N</text>
<rect x="137.6" y="648.7" width="15.2" height="9" fill="url(#sw_gN2S)" stroke="#4fd0c8" stroke-width="1.1"/>
<text x="156.1" y="658.0" font-size="13.8" fill="#000" text-anchor="start" font-weight="bold" >N 2S</text>
<rect x="137.6" y="666.5" width="15.2" height="9" fill="url(#sw_gGaO)" stroke="#c8a030" stroke-width="1.1"/>
<text x="156.1" y="675.8" font-size="13.8" fill="#000" text-anchor="start" font-weight="bold" >Ga-O</text>
<rect x="245.5" y="604.6" width="194.5" height="166.7" fill="#fff"/>
<path d="M245.5,737.7 L246.5,737.7 L247.4,737.7 L248.4,737.7 L249.4,737.6 L250.4,737.6 L251.3,737.6 L252.3,737.6 L253.3,737.6 L254.3,737.6 L255.2,737.6 L256.2,737.6 L257.2,737.6 L258.1,737.6 L259.1,737.6 L260.1,737.6 L261.1,737.6 L262.0,737.6 L263.0,737.6 L264.0,737.5 L264.9,737.5 L265.9,737.5 L266.9,737.5 L267.9,737.5 L268.8,737.5 L269.8,737.4 L270.8,737.4 L271.8,737.4 L272.7,737.3 L273.7,737.3 L274.7,737.2 L275.6,737.1 L276.6,737.0 L277.6,736.8 L278.6,736.6 L279.5,736.3 L280.5,735.9 L281.5,735.3 L282.5,734.6 L283.4,733.6 L284.4,732.4 L285.4,730.9 L286.3,729.0 L287.3,726.7 L288.3,723.9 L289.3,720.6 L290.2,716.7 L291.2,712.4 L292.2,707.6 L293.2,702.3 L294.1,696.8 L295.1,691.0 L296.1,685.2 L297.0,679.6 L298.0,674.4 L299.0,669.9 L300.0,666.3 L300.9,663.9 L301.9,662.8 L302.9,663.3 L303.9,665.2 L304.8,668.4 L305.8,672.8 L306.8,678.0 L307.7,683.9 L308.7,690.1 L309.7,696.5 L310.7,702.8 L311.6,708.8 L312.6,714.6 L313.6,719.8 L314.5,724.6 L315.5,728.8 L316.5,732.5 L317.5,735.7 L318.4,738.4 L319.4,740.7 L320.4,742.6 L321.4,744.2 L322.3,745.6 L323.3,746.7 L324.3,747.6 L325.2,748.4 L326.2,749.0 L327.2,749.6 L328.2,750.1 L329.1,750.5 L330.1,750.9 L331.1,751.3 L332.1,751.6 L333.0,751.9 L334.0,752.2 L335.0,752.5 L335.9,752.7 L336.9,753.0 L337.9,753.2 L338.9,753.4 L339.8,753.6 L340.8,753.8 L341.8,754.0 L342.8,754.1 L343.7,754.3 L344.7,754.5 L345.7,754.6 L346.6,754.7 L347.6,754.9 L348.6,755.0 L349.6,755.1 L350.5,755.2 L351.5,755.3 L352.5,755.4 L353.4,755.5 L354.4,755.5 L355.4,755.6 L356.4,755.7 L357.3,755.8 L358.3,755.8 L359.3,755.9 L360.3,755.9 L361.2,756.0 L362.2,756.0 L363.2,756.1 L364.1,756.1 L365.1,756.2 L366.1,756.2 L367.1,756.3 L368.0,756.3 L369.0,756.3 L370.0,756.4 L371.0,756.4 L371.9,756.4 L372.9,756.4 L373.9,756.5 L374.8,756.5 L375.8,756.5 L376.8,756.5 L377.8,756.5 L378.7,756.6 L379.7,756.6 L380.7,756.6 L381.6,756.6 L382.6,756.6 L383.6,756.6 L384.6,756.7 L385.5,756.7 L386.5,756.7 L387.5,756.7 L388.5,756.7 L389.4,756.7 L390.4,756.7 L391.4,756.7 L392.3,756.7 L393.3,756.7 L394.3,756.8 L395.3,756.8 L396.2,756.8 L397.2,756.8 L398.2,756.8 L399.2,756.8 L400.1,756.8 L401.1,756.8 L402.1,756.8 L403.0,756.8 L404.0,756.8 L405.0,756.8 L406.0,756.8 L406.9,756.8 L407.9,756.8 L408.9,756.8 L409.9,756.8 L410.8,756.8 L411.8,756.8 L412.8,756.9 L413.7,756.9 L414.7,756.9 L415.7,756.9 L416.7,756.9 L417.6,756.9 L418.6,756.9 L419.6,756.9 L420.6,756.9 L421.5,756.9 L422.5,756.9 L423.5,756.9 L424.4,756.9 L425.4,756.9 L426.4,756.9 L427.4,756.9 L428.3,756.9 L429.3,756.9 L430.3,756.9 L431.2,756.9 L432.2,756.9 L433.2,756.9 L434.2,756.9 L435.1,756.9 L436.1,756.9 L437.1,756.9 L438.1,756.9 L439.0,756.9 L440.0,756.9 L440.0,757.0 L439.0,757.0 L438.1,757.0 L437.1,757.0 L436.1,757.0 L435.1,757.0 L434.2,757.0 L433.2,757.0 L432.2,757.0 L431.2,757.0 L430.3,757.0 L429.3,757.0 L428.3,757.0 L427.4,757.0 L426.4,757.0 L425.4,757.0 L424.4,757.0 L423.5,757.0 L422.5,757.0 L421.5,757.0 L420.6,757.0 L419.6,757.0 L418.6,757.0 L417.6,757.0 L416.7,757.0 L415.7,757.0 L414.7,757.0 L413.7,757.0 L412.8,757.0 L411.8,757.0 L410.8,757.0 L409.9,757.0 L408.9,757.0 L407.9,757.0 L406.9,757.0 L406.0,757.0 L405.0,757.0 L404.0,757.0 L403.0,757.0 L402.1,757.0 L401.1,757.0 L400.1,757.0 L399.2,757.0 L398.2,757.0 L397.2,757.0 L396.2,757.0 L395.3,757.0 L394.3,756.9 L393.3,756.9 L392.3,756.9 L391.4,756.9 L390.4,756.9 L389.4,756.9 L388.5,756.9 L387.5,756.9 L386.5,756.9 L385.5,756.9 L384.6,756.9 L383.6,756.9 L382.6,756.9 L381.6,756.9 L380.7,756.9 L379.7,756.9 L378.7,756.8 L377.8,756.8 L376.8,756.8 L375.8,756.8 L374.8,756.8 L373.9,756.8 L372.9,756.8 L371.9,756.7 L371.0,756.7 L370.0,756.7 L369.0,756.7 L368.0,756.7 L367.1,756.6 L366.1,756.6 L365.1,756.6 L364.1,756.6 L363.2,756.5 L362.2,756.5 L361.2,756.5 L360.3,756.4 L359.3,756.4 L358.3,756.3 L357.3,756.3 L356.4,756.2 L355.4,756.2 L354.4,756.1 L353.4,756.1 L352.5,756.0 L351.5,755.9 L350.5,755.9 L349.6,755.8 L348.6,755.7 L347.6,755.6 L346.6,755.5 L345.7,755.4 L344.7,755.3 L343.7,755.2 L342.8,755.1 L341.8,755.0 L340.8,754.8 L339.8,754.7 L338.9,754.6 L337.9,754.4 L336.9,754.3 L335.9,754.1 L335.0,753.9 L334.0,753.7 L333.0,753.5 L332.1,753.3 L331.1,753.1 L330.1,752.9 L329.1,752.7 L328.2,752.4 L327.2,752.2 L326.2,751.9 L325.2,751.7 L324.3,751.4 L323.3,751.1 L322.3,750.9 L321.4,750.6 L320.4,750.3 L319.4,750.0 L318.4,749.6 L317.5,749.3 L316.5,749.0 L315.5,748.7 L314.5,748.4 L313.6,748.0 L312.6,747.7 L311.6,747.4 L310.7,747.0 L309.7,746.7 L308.7,746.4 L307.7,746.1 L306.8,745.7 L305.8,745.4 L304.8,745.1 L303.9,744.8 L302.9,744.5 L301.9,744.2 L300.9,743.9 L300.0,743.6 L299.0,743.4 L298.0,743.1 L297.0,742.9 L296.1,742.6 L295.1,742.4 L294.1,742.1 L293.2,741.9 L292.2,741.7 L291.2,741.5 L290.2,741.3 L289.3,741.1 L288.3,741.0 L287.3,740.8 L286.3,740.6 L285.4,740.5 L284.4,740.3 L283.4,740.2 L282.5,740.1 L281.5,739.9 L280.5,739.8 L279.5,739.7 L278.6,739.6 L277.6,739.5 L276.6,739.4 L275.6,739.3 L274.7,739.2 L273.7,739.2 L272.7,739.1 L271.8,739.0 L270.8,739.0 L269.8,738.9 L268.8,738.8 L267.9,738.8 L266.9,738.7 L265.9,738.7 L264.9,738.6 L264.0,738.6 L263.0,738.6 L262.0,738.5 L261.1,738.5 L260.1,738.5 L259.1,738.4 L258.1,738.4 L257.2,738.4 L256.2,738.3 L255.2,738.3 L254.3,738.3 L253.3,738.3 L252.3,738.3 L251.3,738.2 L250.4,738.2 L249.4,738.2 L248.4,738.2 L247.4,738.2 L246.5,738.2 L245.5,738.2Z" fill="url(#gNGa)"/>
<path d="M245.5,738.2 L246.5,738.2 L247.4,738.2 L248.4,738.2 L249.4,738.2 L250.4,738.2 L251.3,738.2 L252.3,738.2 L253.3,738.3 L254.3,738.3 L255.2,738.3 L256.2,738.3 L257.2,738.3 L258.1,738.3 L259.1,738.4 L260.1,738.4 L261.1,738.4 L262.0,738.4 L263.0,738.4 L264.0,738.4 L264.9,738.4 L265.9,738.4 L266.9,738.4 L267.9,738.4 L268.8,738.3 L269.8,738.3 L270.8,738.3 L271.8,738.2 L272.7,738.1 L273.7,738.0 L274.7,737.9 L275.6,737.7 L276.6,737.6 L277.6,737.3 L278.6,737.1 L279.5,736.8 L280.5,736.5 L281.5,736.1 L282.5,735.7 L283.4,735.2 L284.4,734.6 L285.4,734.0 L286.3,733.3 L287.3,732.6 L288.3,731.8 L289.3,730.9 L290.2,729.9 L291.2,728.8 L292.2,727.7 L293.2,726.4 L294.1,725.1 L295.1,723.7 L296.1,722.3 L297.0,720.7 L298.0,719.1 L299.0,717.4 L300.0,715.7 L300.9,714.0 L301.9,712.2 L302.9,710.3 L303.9,708.5 L304.8,706.7 L305.8,704.9 L306.8,703.1 L307.7,701.4 L308.7,699.7 L309.7,698.1 L310.7,696.6 L311.6,695.3 L312.6,694.0 L313.6,692.9 L314.5,691.9 L315.5,691.1 L316.5,690.5 L317.5,690.1 L318.4,689.8 L319.4,689.7 L320.4,689.9 L321.4,690.2 L322.3,690.7 L323.3,691.5 L324.3,692.4 L325.2,693.5 L326.2,694.8 L327.2,696.2 L328.2,697.8 L329.1,699.5 L330.1,701.4 L331.1,703.3 L332.1,705.4 L333.0,707.5 L334.0,709.7 L335.0,712.0 L335.9,714.3 L336.9,716.6 L337.9,718.9 L338.9,721.1 L339.8,723.4 L340.8,725.6 L341.8,727.7 L342.8,729.8 L343.7,731.9 L344.7,733.8 L345.7,735.7 L346.6,737.4 L347.6,739.1 L348.6,740.7 L349.6,742.2 L350.5,743.6 L351.5,744.9 L352.5,746.1 L353.4,747.2 L354.4,748.3 L355.4,749.2 L356.4,750.1 L357.3,750.8 L358.3,751.5 L359.3,752.2 L360.3,752.8 L361.2,753.3 L362.2,753.7 L363.2,754.1 L364.1,754.5 L365.1,754.8 L366.1,755.1 L367.1,755.4 L368.0,755.6 L369.0,755.8 L370.0,755.9 L371.0,756.1 L371.9,756.2 L372.9,756.3 L373.9,756.4 L374.8,756.5 L375.8,756.5 L376.8,756.6 L377.8,756.7 L378.7,756.7 L379.7,756.7 L380.7,756.8 L381.6,756.8 L382.6,756.8 L383.6,756.8 L384.6,756.9 L385.5,756.9 L386.5,756.9 L387.5,756.9 L388.5,756.9 L389.4,756.9 L390.4,756.9 L391.4,756.9 L392.3,756.9 L393.3,756.9 L394.3,756.9 L395.3,756.9 L396.2,757.0 L397.2,757.0 L398.2,757.0 L399.2,757.0 L400.1,757.0 L401.1,757.0 L402.1,757.0 L403.0,757.0 L404.0,757.0 L405.0,757.0 L406.0,757.0 L406.9,757.0 L407.9,757.0 L408.9,757.0 L409.9,757.0 L410.8,757.0 L411.8,757.0 L412.8,757.0 L413.7,757.0 L414.7,757.0 L415.7,757.0 L416.7,757.0 L417.6,757.0 L418.6,757.0 L419.6,757.0 L420.6,757.0 L421.5,757.0 L422.5,757.0 L423.5,757.0 L424.4,757.0 L425.4,757.0 L426.4,757.0 L427.4,757.0 L428.3,757.0 L429.3,757.0 L430.3,757.0 L431.2,757.0 L432.2,757.0 L433.2,757.0 L434.2,757.0 L435.1,757.0 L436.1,757.0 L437.1,757.0 L438.1,757.0 L439.0,757.0 L440.0,757.0 L440.0,757.0 L439.0,757.0 L438.1,757.0 L437.1,757.0 L436.1,757.0 L435.1,757.0 L434.2,757.0 L433.2,757.0 L432.2,757.0 L431.2,757.0 L430.3,757.0 L429.3,757.0 L428.3,757.0 L427.4,757.0 L426.4,757.0 L425.4,757.0 L424.4,757.0 L423.5,757.0 L422.5,757.0 L421.5,757.0 L420.6,757.0 L419.6,757.0 L418.6,757.0 L417.6,757.0 L416.7,757.0 L415.7,757.0 L414.7,757.0 L413.7,757.0 L412.8,757.0 L411.8,757.0 L410.8,757.0 L409.9,757.0 L408.9,757.0 L407.9,757.0 L406.9,757.0 L406.0,757.0 L405.0,757.0 L404.0,757.0 L403.0,757.0 L402.1,757.0 L401.1,757.0 L400.1,757.0 L399.2,757.0 L398.2,757.0 L397.2,757.0 L396.2,757.0 L395.3,757.0 L394.3,756.9 L393.3,756.9 L392.3,756.9 L391.4,756.9 L390.4,756.9 L389.4,756.9 L388.5,756.9 L387.5,756.9 L386.5,756.9 L385.5,756.9 L384.6,756.9 L383.6,756.9 L382.6,756.9 L381.6,756.9 L380.7,756.9 L379.7,756.9 L378.7,756.8 L377.8,756.8 L376.8,756.8 L375.8,756.8 L374.8,756.8 L373.9,756.8 L372.9,756.8 L371.9,756.7 L371.0,756.7 L370.0,756.7 L369.0,756.7 L368.0,756.7 L367.1,756.6 L366.1,756.6 L365.1,756.6 L364.1,756.6 L363.2,756.5 L362.2,756.5 L361.2,756.5 L360.3,756.4 L359.3,756.4 L358.3,756.3 L357.3,756.3 L356.4,756.2 L355.4,756.2 L354.4,756.1 L353.4,756.1 L352.5,756.0 L351.5,755.9 L350.5,755.9 L349.6,755.8 L348.6,755.7 L347.6,755.6 L346.6,755.5 L345.7,755.4 L344.7,755.3 L343.7,755.2 L342.8,755.1 L341.8,755.0 L340.8,754.8 L339.8,754.7 L338.9,754.6 L337.9,754.4 L336.9,754.3 L335.9,754.1 L335.0,753.9 L334.0,753.7 L333.0,753.5 L332.1,753.3 L331.1,753.1 L330.1,752.9 L329.1,752.7 L328.2,752.4 L327.2,752.2 L326.2,751.9 L325.2,751.7 L324.3,751.4 L323.3,751.1 L322.3,750.9 L321.4,750.6 L320.4,750.3 L319.4,750.0 L318.4,749.6 L317.5,749.3 L316.5,749.0 L315.5,748.7 L314.5,748.4 L313.6,748.0 L312.6,747.7 L311.6,747.4 L310.7,747.0 L309.7,746.7 L308.7,746.4 L307.7,746.1 L306.8,745.7 L305.8,745.4 L304.8,745.1 L303.9,744.8 L302.9,744.5 L301.9,744.2 L300.9,743.9 L300.0,743.6 L299.0,743.4 L298.0,743.1 L297.0,742.9 L296.1,742.6 L295.1,742.4 L294.1,742.1 L293.2,741.9 L292.2,741.7 L291.2,741.5 L290.2,741.3 L289.3,741.1 L288.3,741.0 L287.3,740.8 L286.3,740.6 L285.4,740.5 L284.4,740.3 L283.4,740.2 L282.5,740.1 L281.5,739.9 L280.5,739.8 L279.5,739.7 L278.6,739.6 L277.6,739.5 L276.6,739.4 L275.6,739.3 L274.7,739.2 L273.7,739.2 L272.7,739.1 L271.8,739.0 L270.8,739.0 L269.8,738.9 L268.8,738.8 L267.9,738.8 L266.9,738.7 L265.9,738.7 L264.9,738.6 L264.0,738.6 L263.0,738.6 L262.0,738.5 L261.1,738.5 L260.1,738.5 L259.1,738.4 L258.1,738.4 L257.2,738.4 L256.2,738.3 L255.2,738.3 L254.3,738.3 L253.3,738.3 L252.3,738.3 L251.3,738.2 L250.4,738.2 L249.4,738.2 L248.4,738.2 L247.4,738.2 L246.5,738.2 L245.5,738.2Z" fill="url(#gLMM1)"/>
<path d="M245.5,738.2 L246.5,738.2 L247.4,738.2 L248.4,738.2 L249.4,738.2 L250.4,738.2 L251.3,738.2 L252.3,738.3 L253.3,738.3 L254.3,738.3 L255.2,738.3 L256.2,738.3 L257.2,738.4 L258.1,738.4 L259.1,738.4 L260.1,738.5 L261.1,738.5 L262.0,738.5 L263.0,738.6 L264.0,738.6 L264.9,738.6 L265.9,738.7 L266.9,738.7 L267.9,738.8 L268.8,738.8 L269.8,738.9 L270.8,739.0 L271.8,739.0 L272.7,739.1 L273.7,739.2 L274.7,739.2 L275.6,739.3 L276.6,739.4 L277.6,739.5 L278.6,739.6 L279.5,739.7 L280.5,739.8 L281.5,739.9 L282.5,740.1 L283.4,740.2 L284.4,740.3 L285.4,740.5 L286.3,740.6 L287.3,740.8 L288.3,741.0 L289.3,741.1 L290.2,741.3 L291.2,741.5 L292.2,741.7 L293.2,741.9 L294.1,742.1 L295.1,742.4 L296.1,742.6 L297.0,742.9 L298.0,743.1 L299.0,743.4 L300.0,743.6 L300.9,743.9 L301.9,744.2 L302.9,744.5 L303.9,744.8 L304.8,745.1 L305.8,745.4 L306.8,745.7 L307.7,746.1 L308.7,746.4 L309.7,746.7 L310.7,747.0 L311.6,747.4 L312.6,747.7 L313.6,748.0 L314.5,748.3 L315.5,748.6 L316.5,748.9 L317.5,749.2 L318.4,749.5 L319.4,749.8 L320.4,750.1 L321.4,750.4 L322.3,750.6 L323.3,750.9 L324.3,751.1 L325.2,751.3 L326.2,751.5 L327.2,751.6 L328.2,751.8 L329.1,751.9 L330.1,752.0 L331.1,752.0 L332.1,752.1 L333.0,752.1 L334.0,752.0 L335.0,752.0 L335.9,751.9 L336.9,751.7 L337.9,751.6 L338.9,751.4 L339.8,751.1 L340.8,750.9 L341.8,750.6 L342.8,750.3 L343.7,749.9 L344.7,749.5 L345.7,749.1 L346.6,748.7 L347.6,748.3 L348.6,747.8 L349.6,747.4 L350.5,746.9 L351.5,746.5 L352.5,746.1 L353.4,745.7 L354.4,745.3 L355.4,744.9 L356.4,744.6 L357.3,744.4 L358.3,744.1 L359.3,743.9 L360.3,743.8 L361.2,743.7 L362.2,743.7 L363.2,743.7 L364.1,743.8 L365.1,744.0 L366.1,744.2 L367.1,744.4 L368.0,744.7 L369.0,745.1 L370.0,745.5 L371.0,745.9 L371.9,746.3 L372.9,746.8 L373.9,747.3 L374.8,747.9 L375.8,748.4 L376.8,748.9 L377.8,749.5 L378.7,750.0 L379.7,750.5 L380.7,751.1 L381.6,751.6 L382.6,752.0 L383.6,752.5 L384.6,752.9 L385.5,753.3 L386.5,753.7 L387.5,754.1 L388.5,754.4 L389.4,754.7 L390.4,755.0 L391.4,755.2 L392.3,755.4 L393.3,755.7 L394.3,755.8 L395.3,756.0 L396.2,756.1 L397.2,756.3 L398.2,756.4 L399.2,756.5 L400.1,756.5 L401.1,756.6 L402.1,756.7 L403.0,756.7 L404.0,756.8 L405.0,756.8 L406.0,756.8 L406.9,756.9 L407.9,756.9 L408.9,756.9 L409.9,756.9 L410.8,756.9 L411.8,756.9 L412.8,757.0 L413.7,757.0 L414.7,757.0 L415.7,757.0 L416.7,757.0 L417.6,757.0 L418.6,757.0 L419.6,757.0 L420.6,757.0 L421.5,757.0 L422.5,757.0 L423.5,757.0 L424.4,757.0 L425.4,757.0 L426.4,757.0 L427.4,757.0 L428.3,757.0 L429.3,757.0 L430.3,757.0 L431.2,757.0 L432.2,757.0 L433.2,757.0 L434.2,757.0 L435.1,757.0 L436.1,757.0 L437.1,757.0 L438.1,757.0 L439.0,757.0 L440.0,757.0 L440.0,757.0 L439.0,757.0 L438.1,757.0 L437.1,757.0 L436.1,757.0 L435.1,757.0 L434.2,757.0 L433.2,757.0 L432.2,757.0 L431.2,757.0 L430.3,757.0 L429.3,757.0 L428.3,757.0 L427.4,757.0 L426.4,757.0 L425.4,757.0 L424.4,757.0 L423.5,757.0 L422.5,757.0 L421.5,757.0 L420.6,757.0 L419.6,757.0 L418.6,757.0 L417.6,757.0 L416.7,757.0 L415.7,757.0 L414.7,757.0 L413.7,757.0 L412.8,757.0 L411.8,757.0 L410.8,757.0 L409.9,757.0 L408.9,757.0 L407.9,757.0 L406.9,757.0 L406.0,757.0 L405.0,757.0 L404.0,757.0 L403.0,757.0 L402.1,757.0 L401.1,757.0 L400.1,757.0 L399.2,757.0 L398.2,757.0 L397.2,757.0 L396.2,757.0 L395.3,757.0 L394.3,756.9 L393.3,756.9 L392.3,756.9 L391.4,756.9 L390.4,756.9 L389.4,756.9 L388.5,756.9 L387.5,756.9 L386.5,756.9 L385.5,756.9 L384.6,756.9 L383.6,756.9 L382.6,756.9 L381.6,756.9 L380.7,756.9 L379.7,756.9 L378.7,756.8 L377.8,756.8 L376.8,756.8 L375.8,756.8 L374.8,756.8 L373.9,756.8 L372.9,756.8 L371.9,756.7 L371.0,756.7 L370.0,756.7 L369.0,756.7 L368.0,756.7 L367.1,756.6 L366.1,756.6 L365.1,756.6 L364.1,756.6 L363.2,756.5 L362.2,756.5 L361.2,756.5 L360.3,756.4 L359.3,756.4 L358.3,756.3 L357.3,756.3 L356.4,756.2 L355.4,756.2 L354.4,756.1 L353.4,756.1 L352.5,756.0 L351.5,755.9 L350.5,755.9 L349.6,755.8 L348.6,755.7 L347.6,755.6 L346.6,755.5 L345.7,755.4 L344.7,755.3 L343.7,755.2 L342.8,755.1 L341.8,755.0 L340.8,754.8 L339.8,754.7 L338.9,754.6 L337.9,754.4 L336.9,754.3 L335.9,754.1 L335.0,753.9 L334.0,753.7 L333.0,753.5 L332.1,753.3 L331.1,753.1 L330.1,752.9 L329.1,752.7 L328.2,752.4 L327.2,752.2 L326.2,751.9 L325.2,751.7 L324.3,751.4 L323.3,751.1 L322.3,750.9 L321.4,750.6 L320.4,750.3 L319.4,750.0 L318.4,749.6 L317.5,749.3 L316.5,749.0 L315.5,748.7 L314.5,748.4 L313.6,748.0 L312.6,747.7 L311.6,747.4 L310.7,747.0 L309.7,746.7 L308.7,746.4 L307.7,746.1 L306.8,745.7 L305.8,745.4 L304.8,745.1 L303.9,744.8 L302.9,744.5 L301.9,744.2 L300.9,743.9 L300.0,743.6 L299.0,743.4 L298.0,743.1 L297.0,742.9 L296.1,742.6 L295.1,742.4 L294.1,742.1 L293.2,741.9 L292.2,741.7 L291.2,741.5 L290.2,741.3 L289.3,741.1 L288.3,741.0 L287.3,740.8 L286.3,740.6 L285.4,740.5 L284.4,740.3 L283.4,740.2 L282.5,740.1 L281.5,739.9 L280.5,739.8 L279.5,739.7 L278.6,739.6 L277.6,739.5 L276.6,739.4 L275.6,739.3 L274.7,739.2 L273.7,739.2 L272.7,739.1 L271.8,739.0 L270.8,739.0 L269.8,738.9 L268.8,738.8 L267.9,738.8 L266.9,738.7 L265.9,738.7 L264.9,738.6 L264.0,738.6 L263.0,738.6 L262.0,738.5 L261.1,738.5 L260.1,738.5 L259.1,738.4 L258.1,738.4 L257.2,738.4 L256.2,738.3 L255.2,738.3 L254.3,738.3 L253.3,738.3 L252.3,738.3 L251.3,738.2 L250.4,738.2 L249.4,738.2 L248.4,738.2 L247.4,738.2 L246.5,738.2 L245.5,738.2Z" fill="url(#gLMM2)"/>
<path d="M245.5,738.2 L246.5,738.2 L247.4,738.2 L248.4,738.2 L249.4,738.2 L250.4,738.2 L251.3,738.2 L252.3,738.3 L253.3,738.3 L254.3,738.3 L255.2,738.3 L256.2,738.3 L257.2,738.4 L258.1,738.4 L259.1,738.4 L260.1,738.5 L261.1,738.5 L262.0,738.5 L263.0,738.6 L264.0,738.6 L264.9,738.6 L265.9,738.7 L266.9,738.7 L267.9,738.8 L268.8,738.8 L269.8,738.9 L270.8,739.0 L271.8,739.0 L272.7,739.1 L273.7,739.2 L274.7,739.2 L275.6,739.3 L276.6,739.4 L277.6,739.5 L278.6,739.6 L279.5,739.7 L280.5,739.8 L281.5,739.9 L282.5,740.1 L283.4,740.2 L284.4,740.3 L285.4,740.5 L286.3,740.6 L287.3,740.8 L288.3,741.0 L289.3,741.1 L290.2,741.3 L291.2,741.5 L292.2,741.7 L293.2,741.9 L294.1,742.1 L295.1,742.4 L296.1,742.6 L297.0,742.9 L298.0,743.1 L299.0,743.4 L300.0,743.6 L300.9,743.9 L301.9,744.2 L302.9,744.5 L303.9,744.8 L304.8,745.1 L305.8,745.4 L306.8,745.7 L307.7,746.1 L308.7,746.4 L309.7,746.7 L310.7,747.0 L311.6,747.4 L312.6,747.7 L313.6,748.0 L314.5,748.4 L315.5,748.7 L316.5,749.0 L317.5,749.3 L318.4,749.6 L319.4,750.0 L320.4,750.3 L321.4,750.6 L322.3,750.9 L323.3,751.1 L324.3,751.4 L325.2,751.7 L326.2,751.9 L327.2,752.2 L328.2,752.4 L329.1,752.7 L330.1,752.9 L331.1,753.1 L332.1,753.3 L333.0,753.5 L334.0,753.7 L335.0,753.9 L335.9,754.1 L336.9,754.3 L337.9,754.4 L338.9,754.6 L339.8,754.7 L340.8,754.8 L341.8,755.0 L342.8,755.1 L343.7,755.2 L344.7,755.3 L345.7,755.4 L346.6,755.5 L347.6,755.6 L348.6,755.7 L349.6,755.8 L350.5,755.9 L351.5,755.9 L352.5,756.0 L353.4,756.1 L354.4,756.1 L355.4,756.2 L356.4,756.2 L357.3,756.3 L358.3,756.3 L359.3,756.4 L360.3,756.4 L361.2,756.5 L362.2,756.5 L363.2,756.5 L364.1,756.6 L365.1,756.6 L366.1,756.6 L367.1,756.6 L368.0,756.7 L369.0,756.7 L370.0,756.7 L371.0,756.7 L371.9,756.7 L372.9,756.8 L373.9,756.8 L374.8,756.8 L375.8,756.8 L376.8,756.8 L377.8,756.8 L378.7,756.8 L379.7,756.9 L380.7,756.9 L381.6,756.9 L382.6,756.9 L383.6,756.9 L384.6,756.9 L385.5,756.9 L386.5,756.9 L387.5,756.9 L388.5,756.9 L389.4,756.9 L390.4,756.9 L391.4,756.9 L392.3,756.9 L393.3,756.9 L394.3,756.9 L395.3,757.0 L396.2,757.0 L397.2,757.0 L398.2,757.0 L399.2,757.0 L400.1,757.0 L401.1,757.0 L402.1,757.0 L403.0,757.0 L404.0,757.0 L405.0,757.0 L406.0,757.0 L406.9,757.0 L407.9,757.0 L408.9,757.0 L409.9,757.0 L410.8,757.0 L411.8,757.0 L412.8,757.0 L413.7,757.0 L414.7,757.0 L415.7,757.0 L416.7,757.0 L417.6,757.0 L418.6,757.0 L419.6,757.0 L420.6,757.0 L421.5,757.0 L422.5,757.0 L423.5,757.0 L424.4,757.0 L425.4,757.0 L426.4,757.0 L427.4,757.0 L428.3,757.0 L429.3,757.0 L430.3,757.0 L431.2,757.0 L432.2,757.0 L433.2,757.0 L434.2,757.0 L435.1,757.0 L436.1,757.0 L437.1,757.0 L438.1,757.0 L439.0,757.0 L440.0,757.0" fill="none" stroke="#777" stroke-width="0.6"/>
<path d="M245.5,737.7 L246.5,737.7 L247.4,737.7 L248.4,737.6 L249.4,737.6 L250.4,737.6 L251.3,737.6 L252.3,737.6 L253.3,737.6 L254.3,737.6 L255.2,737.6 L256.2,737.6 L257.2,737.6 L258.1,737.5 L259.1,737.5 L260.1,737.5 L261.1,737.5 L262.0,737.4 L263.0,737.4 L264.0,737.4 L264.9,737.3 L265.9,737.2 L266.9,737.2 L267.9,737.1 L268.8,737.0 L269.8,736.9 L270.8,736.7 L271.8,736.6 L272.7,736.4 L273.7,736.1 L274.7,735.9 L275.6,735.5 L276.6,735.1 L277.6,734.7 L278.6,734.1 L279.5,733.4 L280.5,732.5 L281.5,731.5 L282.5,730.2 L283.4,728.6 L284.4,726.7 L285.4,724.5 L286.3,721.7 L287.3,718.5 L288.3,714.7 L289.3,710.3 L290.2,705.3 L291.2,699.7 L292.2,693.5 L293.2,686.8 L294.1,679.7 L295.1,672.3 L296.1,664.8 L297.0,657.4 L298.0,650.4 L299.0,643.9 L300.0,638.3 L300.9,633.9 L301.9,630.8 L302.9,629.1 L303.9,628.9 L304.8,630.0 L305.8,632.2 L306.8,635.4 L307.7,639.2 L308.7,643.4 L309.7,647.9 L310.7,652.3 L311.6,656.7 L312.6,660.8 L313.6,664.6 L314.5,668.1 L315.5,671.2 L316.5,673.9 L317.5,676.4 L318.4,678.5 L319.4,680.4 L320.4,682.1 L321.4,683.7 L322.3,685.2 L323.3,686.7 L324.3,688.2 L325.2,689.7 L326.2,691.3 L327.2,693.0 L328.2,694.7 L329.1,696.5 L330.1,698.4 L331.1,700.4 L332.1,702.4 L333.0,704.4 L334.0,706.5 L335.0,708.6 L335.9,710.7 L336.9,712.8 L337.9,714.8 L338.9,716.8 L339.8,718.7 L340.8,720.6 L341.8,722.4 L342.8,724.0 L343.7,725.6 L344.7,727.1 L345.7,728.5 L346.6,729.8 L347.6,731.0 L348.6,732.1 L349.6,733.1 L350.5,734.0 L351.5,734.8 L352.5,735.6 L353.4,736.2 L354.4,736.9 L355.4,737.4 L356.4,737.9 L357.3,738.4 L358.3,738.8 L359.3,739.3 L360.3,739.7 L361.2,740.1 L362.2,740.5 L363.2,740.9 L364.1,741.4 L365.1,741.8 L366.1,742.3 L367.1,742.8 L368.0,743.3 L369.0,743.8 L370.0,744.3 L371.0,744.9 L371.9,745.5 L372.9,746.1 L373.9,746.6 L374.8,747.2 L375.8,747.8 L376.8,748.4 L377.8,749.0 L378.7,749.6 L379.7,750.2 L380.7,750.7 L381.6,751.2 L382.6,751.7 L383.6,752.2 L384.6,752.6 L385.5,753.1 L386.5,753.5 L387.5,753.8 L388.5,754.2 L389.4,754.5 L390.4,754.8 L391.4,755.0 L392.3,755.2 L393.3,755.5 L394.3,755.6 L395.3,755.8 L396.2,756.0 L397.2,756.1 L398.2,756.2 L399.2,756.3 L400.1,756.4 L401.1,756.5 L402.1,756.5 L403.0,756.6 L404.0,756.6 L405.0,756.7 L406.0,756.7 L406.9,756.7 L407.9,756.7 L408.9,756.8 L409.9,756.8 L410.8,756.8 L411.8,756.8 L412.8,756.8 L413.7,756.8 L414.7,756.8 L415.7,756.8 L416.7,756.9 L417.6,756.9 L418.6,756.9 L419.6,756.9 L420.6,756.9 L421.5,756.9 L422.5,756.9 L423.5,756.9 L424.4,756.9 L425.4,756.9 L426.4,756.9 L427.4,756.9 L428.3,756.9 L429.3,756.9 L430.3,756.9 L431.2,756.9 L432.2,756.9 L433.2,756.9 L434.2,756.9 L435.1,756.9 L436.1,756.9 L437.1,756.9 L438.1,756.9 L439.0,756.9 L440.0,756.9" fill="none" stroke="#f02828" stroke-width="1.3"/>
<path d="M245.5,737.7 L246.5,737.7 L247.4,737.7 L248.4,737.7 L249.4,737.6 L250.4,737.6 L251.3,737.6 L252.3,737.6 L253.3,737.6 L254.3,737.6 L255.2,737.6 L256.2,737.6 L257.2,737.6 L258.1,737.6 L259.1,737.6 L260.1,737.6 L261.1,737.6 L262.0,737.6 L263.0,737.6 L264.0,737.5 L264.9,737.5 L265.9,737.5 L266.9,737.5 L267.9,737.5 L268.8,737.5 L269.8,737.4 L270.8,737.4 L271.8,737.4 L272.7,737.3 L273.7,737.3 L274.7,737.2 L275.6,737.1 L276.6,737.0 L277.6,736.8 L278.6,736.6 L279.5,736.3 L280.5,735.9 L281.5,735.3 L282.5,734.6 L283.4,733.6 L284.4,732.4 L285.4,730.9 L286.3,729.0 L287.3,726.7 L288.3,723.9 L289.3,720.6 L290.2,716.7 L291.2,712.4 L292.2,707.6 L293.2,702.3 L294.1,696.8 L295.1,691.0 L296.1,685.2 L297.0,679.6 L298.0,674.4 L299.0,669.9 L300.0,666.3 L300.9,663.9 L301.9,662.8 L302.9,663.3 L303.9,665.2 L304.8,668.4 L305.8,672.8 L306.8,678.0 L307.7,683.9 L308.7,690.1 L309.7,696.5 L310.7,702.8 L311.6,708.8 L312.6,714.6 L313.6,719.8 L314.5,724.6 L315.5,728.8 L316.5,732.5 L317.5,735.7 L318.4,738.4 L319.4,740.7 L320.4,742.6 L321.4,744.2 L322.3,745.6 L323.3,746.7 L324.3,747.6 L325.2,748.4 L326.2,749.0 L327.2,749.6 L328.2,750.1 L329.1,750.5 L330.1,750.9 L331.1,751.3 L332.1,751.6 L333.0,751.9 L334.0,752.2 L335.0,752.5 L335.9,752.7 L336.9,753.0 L337.9,753.2 L338.9,753.4 L339.8,753.6 L340.8,753.8 L341.8,754.0 L342.8,754.1 L343.7,754.3 L344.7,754.5 L345.7,754.6 L346.6,754.7 L347.6,754.9 L348.6,755.0 L349.6,755.1 L350.5,755.2 L351.5,755.3 L352.5,755.4 L353.4,755.5 L354.4,755.5 L355.4,755.6 L356.4,755.7 L357.3,755.8 L358.3,755.8 L359.3,755.9 L360.3,755.9 L361.2,756.0 L362.2,756.0 L363.2,756.1 L364.1,756.1 L365.1,756.2 L366.1,756.2 L367.1,756.3 L368.0,756.3 L369.0,756.3 L370.0,756.4 L371.0,756.4 L371.9,756.4 L372.9,756.4 L373.9,756.5 L374.8,756.5 L375.8,756.5 L376.8,756.5 L377.8,756.5 L378.7,756.6 L379.7,756.6 L380.7,756.6 L381.6,756.6 L382.6,756.6 L383.6,756.6 L384.6,756.7 L385.5,756.7 L386.5,756.7 L387.5,756.7 L388.5,756.7 L389.4,756.7 L390.4,756.7 L391.4,756.7 L392.3,756.7 L393.3,756.7 L394.3,756.8 L395.3,756.8 L396.2,756.8 L397.2,756.8 L398.2,756.8 L399.2,756.8 L400.1,756.8 L401.1,756.8 L402.1,756.8 L403.0,756.8 L404.0,756.8 L405.0,756.8 L406.0,756.8 L406.9,756.8 L407.9,756.8 L408.9,756.8 L409.9,756.8 L410.8,756.8 L411.8,756.8 L412.8,756.9 L413.7,756.9 L414.7,756.9 L415.7,756.9 L416.7,756.9 L417.6,756.9 L418.6,756.9 L419.6,756.9 L420.6,756.9 L421.5,756.9 L422.5,756.9 L423.5,756.9 L424.4,756.9 L425.4,756.9 L426.4,756.9 L427.4,756.9 L428.3,756.9 L429.3,756.9 L430.3,756.9 L431.2,756.9 L432.2,756.9 L433.2,756.9 L434.2,756.9 L435.1,756.9 L436.1,756.9 L437.1,756.9 L438.1,756.9 L439.0,756.9 L440.0,756.9" fill="none" stroke="#4a86e0" stroke-width="1.2"/>
<path d="M245.5,738.2 L246.5,738.2 L247.4,738.2 L248.4,738.2 L249.4,738.2 L250.4,738.2 L251.3,738.2 L252.3,738.2 L253.3,738.3 L254.3,738.3 L255.2,738.3 L256.2,738.3 L257.2,738.3 L258.1,738.3 L259.1,738.4 L260.1,738.4 L261.1,738.4 L262.0,738.4 L263.0,738.4 L264.0,738.4 L264.9,738.4 L265.9,738.4 L266.9,738.4 L267.9,738.4 L268.8,738.3 L269.8,738.3 L270.8,738.3 L271.8,738.2 L272.7,738.1 L273.7,738.0 L274.7,737.9 L275.6,737.7 L276.6,737.6 L277.6,737.3 L278.6,737.1 L279.5,736.8 L280.5,736.5 L281.5,736.1 L282.5,735.7 L283.4,735.2 L284.4,734.6 L285.4,734.0 L286.3,733.3 L287.3,732.6 L288.3,731.8 L289.3,730.9 L290.2,729.9 L291.2,728.8 L292.2,727.7 L293.2,726.4 L294.1,725.1 L295.1,723.7 L296.1,722.3 L297.0,720.7 L298.0,719.1 L299.0,717.4 L300.0,715.7 L300.9,714.0 L301.9,712.2 L302.9,710.3 L303.9,708.5 L304.8,706.7 L305.8,704.9 L306.8,703.1 L307.7,701.4 L308.7,699.7 L309.7,698.1 L310.7,696.6 L311.6,695.3 L312.6,694.0 L313.6,692.9 L314.5,691.9 L315.5,691.1 L316.5,690.5 L317.5,690.1 L318.4,689.8 L319.4,689.7 L320.4,689.9 L321.4,690.2 L322.3,690.7 L323.3,691.5 L324.3,692.4 L325.2,693.5 L326.2,694.8 L327.2,696.2 L328.2,697.8 L329.1,699.5 L330.1,701.4 L331.1,703.3 L332.1,705.4 L333.0,707.5 L334.0,709.7 L335.0,712.0 L335.9,714.3 L336.9,716.6 L337.9,718.9 L338.9,721.1 L339.8,723.4 L340.8,725.6 L341.8,727.7 L342.8,729.8 L343.7,731.9 L344.7,733.8 L345.7,735.7 L346.6,737.4 L347.6,739.1 L348.6,740.7 L349.6,742.2 L350.5,743.6 L351.5,744.9 L352.5,746.1 L353.4,747.2 L354.4,748.3 L355.4,749.2 L356.4,750.1 L357.3,750.8 L358.3,751.5 L359.3,752.2 L360.3,752.8 L361.2,753.3 L362.2,753.7 L363.2,754.1 L364.1,754.5 L365.1,754.8 L366.1,755.1 L367.1,755.4 L368.0,755.6 L369.0,755.8 L370.0,755.9 L371.0,756.1 L371.9,756.2 L372.9,756.3 L373.9,756.4 L374.8,756.5 L375.8,756.5 L376.8,756.6 L377.8,756.7 L378.7,756.7 L379.7,756.7 L380.7,756.8 L381.6,756.8 L382.6,756.8 L383.6,756.8 L384.6,756.9 L385.5,756.9 L386.5,756.9 L387.5,756.9 L388.5,756.9 L389.4,756.9 L390.4,756.9 L391.4,756.9 L392.3,756.9 L393.3,756.9 L394.3,756.9 L395.3,756.9 L396.2,757.0 L397.2,757.0 L398.2,757.0 L399.2,757.0 L400.1,757.0 L401.1,757.0 L402.1,757.0 L403.0,757.0 L404.0,757.0 L405.0,757.0 L406.0,757.0 L406.9,757.0 L407.9,757.0 L408.9,757.0 L409.9,757.0 L410.8,757.0 L411.8,757.0 L412.8,757.0 L413.7,757.0 L414.7,757.0 L415.7,757.0 L416.7,757.0 L417.6,757.0 L418.6,757.0 L419.6,757.0 L420.6,757.0 L421.5,757.0 L422.5,757.0 L423.5,757.0 L424.4,757.0 L425.4,757.0 L426.4,757.0 L427.4,757.0 L428.3,757.0 L429.3,757.0 L430.3,757.0 L431.2,757.0 L432.2,757.0 L433.2,757.0 L434.2,757.0 L435.1,757.0 L436.1,757.0 L437.1,757.0 L438.1,757.0 L439.0,757.0 L440.0,757.0" fill="none" stroke="#38b458" stroke-width="1.2"/>
<path d="M245.5,738.2 L246.5,738.2 L247.4,738.2 L248.4,738.2 L249.4,738.2 L250.4,738.2 L251.3,738.2 L252.3,738.3 L253.3,738.3 L254.3,738.3 L255.2,738.3 L256.2,738.3 L257.2,738.4 L258.1,738.4 L259.1,738.4 L260.1,738.5 L261.1,738.5 L262.0,738.5 L263.0,738.6 L264.0,738.6 L264.9,738.6 L265.9,738.7 L266.9,738.7 L267.9,738.8 L268.8,738.8 L269.8,738.9 L270.8,739.0 L271.8,739.0 L272.7,739.1 L273.7,739.2 L274.7,739.2 L275.6,739.3 L276.6,739.4 L277.6,739.5 L278.6,739.6 L279.5,739.7 L280.5,739.8 L281.5,739.9 L282.5,740.1 L283.4,740.2 L284.4,740.3 L285.4,740.5 L286.3,740.6 L287.3,740.8 L288.3,741.0 L289.3,741.1 L290.2,741.3 L291.2,741.5 L292.2,741.7 L293.2,741.9 L294.1,742.1 L295.1,742.4 L296.1,742.6 L297.0,742.9 L298.0,743.1 L299.0,743.4 L300.0,743.6 L300.9,743.9 L301.9,744.2 L302.9,744.5 L303.9,744.8 L304.8,745.1 L305.8,745.4 L306.8,745.7 L307.7,746.1 L308.7,746.4 L309.7,746.7 L310.7,747.0 L311.6,747.4 L312.6,747.7 L313.6,748.0 L314.5,748.3 L315.5,748.6 L316.5,748.9 L317.5,749.2 L318.4,749.5 L319.4,749.8 L320.4,750.1 L321.4,750.4 L322.3,750.6 L323.3,750.9 L324.3,751.1 L325.2,751.3 L326.2,751.5 L327.2,751.6 L328.2,751.8 L329.1,751.9 L330.1,752.0 L331.1,752.0 L332.1,752.1 L333.0,752.1 L334.0,752.0 L335.0,752.0 L335.9,751.9 L336.9,751.7 L337.9,751.6 L338.9,751.4 L339.8,751.1 L340.8,750.9 L341.8,750.6 L342.8,750.3 L343.7,749.9 L344.7,749.5 L345.7,749.1 L346.6,748.7 L347.6,748.3 L348.6,747.8 L349.6,747.4 L350.5,746.9 L351.5,746.5 L352.5,746.1 L353.4,745.7 L354.4,745.3 L355.4,744.9 L356.4,744.6 L357.3,744.4 L358.3,744.1 L359.3,743.9 L360.3,743.8 L361.2,743.7 L362.2,743.7 L363.2,743.7 L364.1,743.8 L365.1,744.0 L366.1,744.2 L367.1,744.4 L368.0,744.7 L369.0,745.1 L370.0,745.5 L371.0,745.9 L371.9,746.3 L372.9,746.8 L373.9,747.3 L374.8,747.9 L375.8,748.4 L376.8,748.9 L377.8,749.5 L378.7,750.0 L379.7,750.5 L380.7,751.1 L381.6,751.6 L382.6,752.0 L383.6,752.5 L384.6,752.9 L385.5,753.3 L386.5,753.7 L387.5,754.1 L388.5,754.4 L389.4,754.7 L390.4,755.0 L391.4,755.2 L392.3,755.4 L393.3,755.7 L394.3,755.8 L395.3,756.0 L396.2,756.1 L397.2,756.3 L398.2,756.4 L399.2,756.5 L400.1,756.5 L401.1,756.6 L402.1,756.7 L403.0,756.7 L404.0,756.8 L405.0,756.8 L406.0,756.8 L406.9,756.9 L407.9,756.9 L408.9,756.9 L409.9,756.9 L410.8,756.9 L411.8,756.9 L412.8,757.0 L413.7,757.0 L414.7,757.0 L415.7,757.0 L416.7,757.0 L417.6,757.0 L418.6,757.0 L419.6,757.0 L420.6,757.0 L421.5,757.0 L422.5,757.0 L423.5,757.0 L424.4,757.0 L425.4,757.0 L426.4,757.0 L427.4,757.0 L428.3,757.0 L429.3,757.0 L430.3,757.0 L431.2,757.0 L432.2,757.0 L433.2,757.0 L434.2,757.0 L435.1,757.0 L436.1,757.0 L437.1,757.0 L438.1,757.0 L439.0,757.0 L440.0,757.0" fill="none" stroke="#a880e0" stroke-width="1.2"/>
<rect x="245.5" y="604.6" width="194.5" height="166.7" fill="none" stroke="#000" stroke-width="1.2"/>
<line x1="269.7" y1="771.3" x2="269.7" y2="768.0999999999999" stroke="#000" stroke-width="1.1"/>
<text x="269.7" y="786.8" font-size="14.2" fill="#000" text-anchor="middle" font-weight="bold" >400</text>
<line x1="318.1" y1="771.3" x2="318.1" y2="768.0999999999999" stroke="#000" stroke-width="1.1"/>
<text x="318.1" y="786.8" font-size="14.2" fill="#000" text-anchor="middle" font-weight="bold" >396</text>
<line x1="366.5" y1="771.3" x2="366.5" y2="768.0999999999999" stroke="#000" stroke-width="1.1"/>
<text x="366.5" y="786.8" font-size="14.2" fill="#000" text-anchor="middle" font-weight="bold" >392</text>
<line x1="414.9" y1="771.3" x2="414.9" y2="768.0999999999999" stroke="#000" stroke-width="1.1"/>
<text x="414.9" y="786.8" font-size="14.2" fill="#000" text-anchor="middle" font-weight="bold" >388</text>
<line x1="293.9" y1="771.3" x2="293.9" y2="769.3" stroke="#000" stroke-width="0.9"/>
<line x1="342.3" y1="771.3" x2="342.3" y2="769.3" stroke="#000" stroke-width="0.9"/>
<line x1="390.7" y1="771.3" x2="390.7" y2="769.3" stroke="#000" stroke-width="0.9"/>
<line x1="439.1" y1="771.3" x2="439.1" y2="769.3" stroke="#000" stroke-width="0.9"/>
<text x="342.6" y="803.3" font-size="14.6" fill="#000" text-anchor="middle" font-weight="bold" >Binding energy (eV)</text>
<text transform="translate(237.5,687.4) rotate(-90)" font-size="14.6" font-weight="bold" text-anchor="middle">Intensity (a.u.)</text>
<text x="225.6" y="608.6" font-size="15.5" fill="#000" text-anchor="start" font-weight="bold" >(j)</text>
<text x="384.4" y="618.8" font-size="13.8" fill="#000" text-anchor="middle" font-weight="bold" >N 1s</text>
<rect x="353.9" y="630.2" width="14.9" height="9" fill="url(#sw_gNGa)" stroke="#4a86e0" stroke-width="1.1"/>
<text x="372.8" y="639.5" font-size="13.8" fill="#000" text-anchor="start" font-weight="bold" >N-Ga</text>
<rect x="353.9" y="647.7" width="14.9" height="9" fill="url(#sw_gLMM1)" stroke="#38b458" stroke-width="1.1"/>
<text x="372.8" y="657.0" font-size="13.8" fill="#000" text-anchor="start" font-weight="bold" >Ga LMM</text>
<rect x="353.9" y="665.5" width="14.9" height="9" fill="url(#sw_gLMM2)" stroke="#a880e0" stroke-width="1.1"/>
<text x="372.8" y="674.8" font-size="13.8" fill="#000" text-anchor="start" font-weight="bold" >Ga LMM</text>
<rect x="473" y="604.4" width="195.2" height="166.0" fill="#fff"/>
<path d="M473.0,743.1 L474.0,743.1 L475.0,743.1 L475.9,743.1 L476.9,743.1 L477.9,743.1 L478.9,743.1 L479.8,743.1 L480.8,743.1 L481.8,743.1 L482.8,743.1 L483.7,743.1 L484.7,743.1 L485.7,743.1 L486.7,743.1 L487.6,743.1 L488.6,743.1 L489.6,743.1 L490.6,743.1 L491.5,743.1 L492.5,743.1 L493.5,743.1 L494.5,743.1 L495.4,743.1 L496.4,743.1 L497.4,743.1 L498.4,743.1 L499.4,743.1 L500.3,743.1 L501.3,743.1 L502.3,743.1 L503.3,743.1 L504.2,743.1 L505.2,743.0 L506.2,743.0 L507.2,743.0 L508.1,743.0 L509.1,742.9 L510.1,742.9 L511.1,742.8 L512.0,742.7 L513.0,742.7 L514.0,742.6 L515.0,742.4 L515.9,742.3 L516.9,742.1 L517.9,741.9 L518.9,741.7 L519.8,741.5 L520.8,741.2 L521.8,740.8 L522.8,740.4 L523.8,740.0 L524.7,739.5 L525.7,738.9 L526.7,738.3 L527.7,737.6 L528.6,736.8 L529.6,735.9 L530.6,734.9 L531.6,733.8 L532.5,732.6 L533.5,731.3 L534.5,729.9 L535.5,728.4 L536.4,726.7 L537.4,724.9 L538.4,723.0 L539.4,721.0 L540.3,718.8 L541.3,716.5 L542.3,714.1 L543.3,711.6 L544.2,709.0 L545.2,706.4 L546.2,703.6 L547.2,700.8 L548.2,697.9 L549.1,695.0 L550.1,692.1 L551.1,689.2 L552.1,686.4 L553.0,683.5 L554.0,680.8 L555.0,678.2 L556.0,675.6 L556.9,673.3 L557.9,671.0 L558.9,669.0 L559.9,667.2 L560.8,665.6 L561.8,664.2 L562.8,663.1 L563.8,662.3 L564.7,661.7 L565.7,661.4 L566.7,661.4 L567.7,661.7 L568.6,662.2 L569.6,663.1 L570.6,664.2 L571.6,665.6 L572.6,667.2 L573.5,669.1 L574.5,671.1 L575.5,673.4 L576.5,675.9 L577.4,678.5 L578.4,681.2 L579.4,684.1 L580.4,687.0 L581.3,690.1 L582.3,693.1 L583.3,696.2 L584.3,699.3 L585.2,702.3 L586.2,705.4 L587.2,708.3 L588.2,711.2 L589.1,714.1 L590.1,716.8 L591.1,719.4 L592.1,721.9 L593.0,724.3 L594.0,726.5 L595.0,728.7 L596.0,730.7 L597.0,732.6 L597.9,734.3 L598.9,735.9 L599.9,737.4 L600.9,738.8 L601.8,740.0 L602.8,741.2 L603.8,742.2 L604.8,743.2 L605.7,744.0 L606.7,744.8 L607.7,745.5 L608.7,746.1 L609.6,746.6 L610.6,747.1 L611.6,747.6 L612.6,747.9 L613.5,748.3 L614.5,748.6 L615.5,748.8 L616.5,749.0 L617.4,749.2 L618.4,749.4 L619.4,749.5 L620.4,749.7 L621.4,749.8 L622.3,749.9 L623.3,749.9 L624.3,750.0 L625.3,750.1 L626.2,750.1 L627.2,750.2 L628.2,750.2 L629.2,750.2 L630.1,750.3 L631.1,750.3 L632.1,750.3 L633.1,750.3 L634.0,750.3 L635.0,750.4 L636.0,750.4 L637.0,750.4 L637.9,750.4 L638.9,750.4 L639.9,750.4 L640.9,750.4 L641.8,750.4 L642.8,750.4 L643.8,750.4 L644.8,750.4 L645.8,750.4 L646.7,750.4 L647.7,750.4 L648.7,750.5 L649.7,750.5 L650.6,750.5 L651.6,750.5 L652.6,750.5 L653.6,750.5 L654.5,750.5 L655.5,750.5 L656.5,750.5 L657.5,750.5 L658.4,750.5 L659.4,750.5 L660.4,750.5 L661.4,750.5 L662.3,750.5 L663.3,750.5 L664.3,750.5 L665.3,750.5 L666.2,750.5 L667.2,750.5 L668.2,750.5 L668.2,750.5 L667.2,750.5 L666.2,750.5 L665.3,750.5 L664.3,750.5 L663.3,750.5 L662.3,750.5 L661.4,750.5 L660.4,750.5 L659.4,750.5 L658.4,750.5 L657.5,750.5 L656.5,750.5 L655.5,750.5 L654.5,750.5 L653.6,750.5 L652.6,750.5 L651.6,750.5 L650.6,750.5 L649.7,750.5 L648.7,750.5 L647.7,750.4 L646.7,750.4 L645.8,750.4 L644.8,750.4 L643.8,750.4 L642.8,750.4 L641.8,750.4 L640.9,750.4 L639.9,750.4 L638.9,750.4 L637.9,750.4 L637.0,750.4 L636.0,750.4 L635.0,750.4 L634.0,750.4 L633.1,750.4 L632.1,750.3 L631.1,750.3 L630.1,750.3 L629.2,750.3 L628.2,750.3 L627.2,750.3 L626.2,750.3 L625.3,750.3 L624.3,750.2 L623.3,750.2 L622.3,750.2 L621.4,750.2 L620.4,750.2 L619.4,750.1 L618.4,750.1 L617.4,750.1 L616.5,750.1 L615.5,750.0 L614.5,750.0 L613.5,750.0 L612.6,749.9 L611.6,749.9 L610.6,749.8 L609.6,749.8 L608.7,749.8 L607.7,749.7 L606.7,749.7 L605.7,749.6 L604.8,749.5 L603.8,749.5 L602.8,749.4 L601.8,749.4 L600.9,749.3 L599.9,749.2 L598.9,749.1 L597.9,749.1 L597.0,749.0 L596.0,748.9 L595.0,748.8 L594.0,748.7 L593.0,748.6 L592.1,748.5 L591.1,748.4 L590.1,748.3 L589.1,748.2 L588.2,748.1 L587.2,748.0 L586.2,747.9 L585.2,747.7 L584.3,747.6 L583.3,747.5 L582.3,747.4 L581.3,747.2 L580.4,747.1 L579.4,747.0 L578.4,746.9 L577.4,746.7 L576.5,746.6 L575.5,746.5 L574.5,746.3 L573.5,746.2 L572.6,746.1 L571.6,746.0 L570.6,745.8 L569.6,745.7 L568.6,745.6 L567.7,745.5 L566.7,745.4 L565.7,745.3 L564.7,745.2 L563.8,745.1 L562.8,745.0 L561.8,744.9 L560.8,744.8 L559.9,744.7 L558.9,744.6 L557.9,744.5 L556.9,744.4 L556.0,744.4 L555.0,744.3 L554.0,744.2 L553.0,744.2 L552.1,744.1 L551.1,744.0 L550.1,744.0 L549.1,743.9 L548.2,743.9 L547.2,743.8 L546.2,743.8 L545.2,743.7 L544.2,743.7 L543.3,743.7 L542.3,743.6 L541.3,743.6 L540.3,743.6 L539.4,743.5 L538.4,743.5 L537.4,743.5 L536.4,743.5 L535.5,743.4 L534.5,743.4 L533.5,743.4 L532.5,743.4 L531.6,743.4 L530.6,743.3 L529.6,743.3 L528.6,743.3 L527.7,743.3 L526.7,743.3 L525.7,743.3 L524.7,743.3 L523.8,743.3 L522.8,743.2 L521.8,743.2 L520.8,743.2 L519.8,743.2 L518.9,743.2 L517.9,743.2 L516.9,743.2 L515.9,743.2 L515.0,743.2 L514.0,743.2 L513.0,743.2 L512.0,743.2 L511.1,743.2 L510.1,743.2 L509.1,743.2 L508.1,743.2 L507.2,743.1 L506.2,743.1 L505.2,743.1 L504.2,743.1 L503.3,743.1 L502.3,743.1 L501.3,743.1 L500.3,743.1 L499.4,743.1 L498.4,743.1 L497.4,743.1 L496.4,743.1 L495.4,743.1 L494.5,743.1 L493.5,743.1 L492.5,743.1 L491.5,743.1 L490.6,743.1 L489.6,743.1 L488.6,743.1 L487.6,743.1 L486.7,743.1 L485.7,743.1 L484.7,743.1 L483.7,743.1 L482.8,743.1 L481.8,743.1 L480.8,743.1 L479.8,743.1 L478.9,743.1 L477.9,743.1 L476.9,743.1 L475.9,743.1 L475.0,743.1 L474.0,743.1 L473.0,743.1Z" fill="url(#gOv)"/>
<path d="M473.0,743.1 L474.0,743.1 L475.0,743.1 L475.9,743.1 L476.9,743.1 L477.9,743.1 L478.9,743.1 L479.8,743.1 L480.8,743.1 L481.8,743.1 L482.8,743.1 L483.7,743.1 L484.7,743.1 L485.7,743.1 L486.7,743.1 L487.6,743.1 L488.6,743.1 L489.6,743.1 L490.6,743.1 L491.5,743.1 L492.5,743.1 L493.5,743.1 L494.5,743.1 L495.4,743.1 L496.4,743.1 L497.4,743.1 L498.4,743.1 L499.4,743.1 L500.3,743.1 L501.3,743.1 L502.3,743.1 L503.3,743.1 L504.2,743.1 L505.2,743.1 L506.2,743.1 L507.2,743.1 L508.1,743.1 L509.1,743.2 L510.1,743.2 L511.1,743.2 L512.0,743.2 L513.0,743.2 L514.0,743.2 L515.0,743.2 L515.9,743.2 L516.9,743.2 L517.9,743.2 L518.9,743.2 L519.8,743.2 L520.8,743.2 L521.8,743.2 L522.8,743.2 L523.8,743.2 L524.7,743.2 L525.7,743.2 L526.7,743.2 L527.7,743.3 L528.6,743.3 L529.6,743.3 L530.6,743.3 L531.6,743.3 L532.5,743.2 L533.5,743.2 L534.5,743.2 L535.5,743.2 L536.4,743.2 L537.4,743.1 L538.4,743.1 L539.4,743.0 L540.3,743.0 L541.3,742.9 L542.3,742.8 L543.3,742.6 L544.2,742.5 L545.2,742.3 L546.2,742.1 L547.2,741.9 L548.2,741.6 L549.1,741.3 L550.1,740.9 L551.1,740.5 L552.1,740.0 L553.0,739.4 L554.0,738.8 L555.0,738.2 L556.0,737.4 L556.9,736.5 L557.9,735.6 L558.9,734.6 L559.9,733.5 L560.8,732.3 L561.8,730.9 L562.8,729.5 L563.8,728.0 L564.7,726.4 L565.7,724.6 L566.7,722.8 L567.7,720.9 L568.6,718.8 L569.6,716.7 L570.6,714.6 L571.6,712.3 L572.6,710.0 L573.5,707.7 L574.5,705.3 L575.5,702.9 L576.5,700.5 L577.4,698.1 L578.4,695.8 L579.4,693.5 L580.4,691.3 L581.3,689.2 L582.3,687.2 L583.3,685.4 L584.3,683.7 L585.2,682.1 L586.2,680.8 L587.2,679.6 L588.2,678.6 L589.1,677.9 L590.1,677.4 L591.1,677.1 L592.1,677.0 L593.0,677.2 L594.0,677.6 L595.0,678.3 L596.0,679.2 L597.0,680.3 L597.9,681.6 L598.9,683.1 L599.9,684.8 L600.9,686.7 L601.8,688.7 L602.8,690.8 L603.8,693.1 L604.8,695.5 L605.7,697.9 L606.7,700.4 L607.7,703.0 L608.7,705.5 L609.6,708.1 L610.6,710.6 L611.6,713.2 L612.6,715.6 L613.5,718.1 L614.5,720.4 L615.5,722.7 L616.5,724.9 L617.4,727.0 L618.4,729.0 L619.4,730.9 L620.4,732.6 L621.4,734.3 L622.3,735.9 L623.3,737.3 L624.3,738.7 L625.3,739.9 L626.2,741.1 L627.2,742.1 L628.2,743.1 L629.2,744.0 L630.1,744.7 L631.1,745.4 L632.1,746.1 L633.1,746.6 L634.0,747.2 L635.0,747.6 L636.0,748.0 L637.0,748.3 L637.9,748.6 L638.9,748.9 L639.9,749.1 L640.9,749.3 L641.8,749.5 L642.8,749.7 L643.8,749.8 L644.8,749.9 L645.8,750.0 L646.7,750.1 L647.7,750.1 L648.7,750.2 L649.7,750.2 L650.6,750.3 L651.6,750.3 L652.6,750.4 L653.6,750.4 L654.5,750.4 L655.5,750.4 L656.5,750.4 L657.5,750.4 L658.4,750.4 L659.4,750.5 L660.4,750.5 L661.4,750.5 L662.3,750.5 L663.3,750.5 L664.3,750.5 L665.3,750.5 L666.2,750.5 L667.2,750.5 L668.2,750.5 L668.2,750.5 L667.2,750.5 L666.2,750.5 L665.3,750.5 L664.3,750.5 L663.3,750.5 L662.3,750.5 L661.4,750.5 L660.4,750.5 L659.4,750.5 L658.4,750.5 L657.5,750.5 L656.5,750.5 L655.5,750.5 L654.5,750.5 L653.6,750.5 L652.6,750.5 L651.6,750.5 L650.6,750.5 L649.7,750.5 L648.7,750.5 L647.7,750.4 L646.7,750.4 L645.8,750.4 L644.8,750.4 L643.8,750.4 L642.8,750.4 L641.8,750.4 L640.9,750.4 L639.9,750.4 L638.9,750.4 L637.9,750.4 L637.0,750.4 L636.0,750.4 L635.0,750.4 L634.0,750.4 L633.1,750.4 L632.1,750.3 L631.1,750.3 L630.1,750.3 L629.2,750.3 L628.2,750.3 L627.2,750.3 L626.2,750.3 L625.3,750.3 L624.3,750.2 L623.3,750.2 L622.3,750.2 L621.4,750.2 L620.4,750.2 L619.4,750.1 L618.4,750.1 L617.4,750.1 L616.5,750.1 L615.5,750.0 L614.5,750.0 L613.5,750.0 L612.6,749.9 L611.6,749.9 L610.6,749.8 L609.6,749.8 L608.7,749.8 L607.7,749.7 L606.7,749.7 L605.7,749.6 L604.8,749.5 L603.8,749.5 L602.8,749.4 L601.8,749.4 L600.9,749.3 L599.9,749.2 L598.9,749.1 L597.9,749.1 L597.0,749.0 L596.0,748.9 L595.0,748.8 L594.0,748.7 L593.0,748.6 L592.1,748.5 L591.1,748.4 L590.1,748.3 L589.1,748.2 L588.2,748.1 L587.2,748.0 L586.2,747.9 L585.2,747.7 L584.3,747.6 L583.3,747.5 L582.3,747.4 L581.3,747.2 L580.4,747.1 L579.4,747.0 L578.4,746.9 L577.4,746.7 L576.5,746.6 L575.5,746.5 L574.5,746.3 L573.5,746.2 L572.6,746.1 L571.6,746.0 L570.6,745.8 L569.6,745.7 L568.6,745.6 L567.7,745.5 L566.7,745.4 L565.7,745.3 L564.7,745.2 L563.8,745.1 L562.8,745.0 L561.8,744.9 L560.8,744.8 L559.9,744.7 L558.9,744.6 L557.9,744.5 L556.9,744.4 L556.0,744.4 L555.0,744.3 L554.0,744.2 L553.0,744.2 L552.1,744.1 L551.1,744.0 L550.1,744.0 L549.1,743.9 L548.2,743.9 L547.2,743.8 L546.2,743.8 L545.2,743.7 L544.2,743.7 L543.3,743.7 L542.3,743.6 L541.3,743.6 L540.3,743.6 L539.4,743.5 L538.4,743.5 L537.4,743.5 L536.4,743.5 L535.5,743.4 L534.5,743.4 L533.5,743.4 L532.5,743.4 L531.6,743.4 L530.6,743.3 L529.6,743.3 L528.6,743.3 L527.7,743.3 L526.7,743.3 L525.7,743.3 L524.7,743.3 L523.8,743.3 L522.8,743.2 L521.8,743.2 L520.8,743.2 L519.8,743.2 L518.9,743.2 L517.9,743.2 L516.9,743.2 L515.9,743.2 L515.0,743.2 L514.0,743.2 L513.0,743.2 L512.0,743.2 L511.1,743.2 L510.1,743.2 L509.1,743.2 L508.1,743.2 L507.2,743.1 L506.2,743.1 L505.2,743.1 L504.2,743.1 L503.3,743.1 L502.3,743.1 L501.3,743.1 L500.3,743.1 L499.4,743.1 L498.4,743.1 L497.4,743.1 L496.4,743.1 L495.4,743.1 L494.5,743.1 L493.5,743.1 L492.5,743.1 L491.5,743.1 L490.6,743.1 L489.6,743.1 L488.6,743.1 L487.6,743.1 L486.7,743.1 L485.7,743.1 L484.7,743.1 L483.7,743.1 L482.8,743.1 L481.8,743.1 L480.8,743.1 L479.8,743.1 L478.9,743.1 L477.9,743.1 L476.9,743.1 L475.9,743.1 L475.0,743.1 L474.0,743.1 L473.0,743.1Z" fill="url(#gOm)"/>
<path d="M473.0,743.1 L474.0,743.1 L475.0,743.1 L475.9,743.1 L476.9,743.1 L477.9,743.1 L478.9,743.1 L479.8,743.1 L480.8,743.1 L481.8,743.1 L482.8,743.1 L483.7,743.1 L484.7,743.1 L485.7,743.1 L486.7,743.1 L487.6,743.1 L488.6,743.1 L489.6,743.1 L490.6,743.1 L491.5,743.1 L492.5,743.1 L493.5,743.1 L494.5,743.1 L495.4,743.1 L496.4,743.1 L497.4,743.1 L498.4,743.1 L499.4,743.1 L500.3,743.1 L501.3,743.1 L502.3,743.1 L503.3,743.1 L504.2,743.1 L505.2,743.1 L506.2,743.1 L507.2,743.1 L508.1,743.2 L509.1,743.2 L510.1,743.2 L511.1,743.2 L512.0,743.2 L513.0,743.2 L514.0,743.2 L515.0,743.2 L515.9,743.2 L516.9,743.2 L517.9,743.2 L518.9,743.2 L519.8,743.2 L520.8,743.2 L521.8,743.2 L522.8,743.2 L523.8,743.3 L524.7,743.3 L525.7,743.3 L526.7,743.3 L527.7,743.3 L528.6,743.3 L529.6,743.3 L530.6,743.3 L531.6,743.4 L532.5,743.4 L533.5,743.4 L534.5,743.4 L535.5,743.4 L536.4,743.5 L537.4,743.5 L538.4,743.5 L539.4,743.5 L540.3,743.6 L541.3,743.6 L542.3,743.6 L543.3,743.7 L544.2,743.7 L545.2,743.7 L546.2,743.8 L547.2,743.8 L548.2,743.9 L549.1,743.9 L550.1,744.0 L551.1,744.0 L552.1,744.1 L553.0,744.2 L554.0,744.2 L555.0,744.3 L556.0,744.4 L556.9,744.4 L557.9,744.5 L558.9,744.6 L559.9,744.7 L560.8,744.8 L561.8,744.9 L562.8,745.0 L563.8,745.1 L564.7,745.2 L565.7,745.3 L566.7,745.4 L567.7,745.5 L568.6,745.6 L569.6,745.7 L570.6,745.8 L571.6,746.0 L572.6,746.1 L573.5,746.2 L574.5,746.3 L575.5,746.5 L576.5,746.6 L577.4,746.7 L578.4,746.9 L579.4,747.0 L580.4,747.1 L581.3,747.2 L582.3,747.4 L583.3,747.5 L584.3,747.6 L585.2,747.7 L586.2,747.9 L587.2,748.0 L588.2,748.1 L589.1,748.2 L590.1,748.3 L591.1,748.4 L592.1,748.5 L593.0,748.6 L594.0,748.7 L595.0,748.8 L596.0,748.9 L597.0,749.0 L597.9,749.1 L598.9,749.1 L599.9,749.2 L600.9,749.3 L601.8,749.4 L602.8,749.4 L603.8,749.5 L604.8,749.5 L605.7,749.6 L606.7,749.7 L607.7,749.7 L608.7,749.8 L609.6,749.8 L610.6,749.8 L611.6,749.9 L612.6,749.9 L613.5,750.0 L614.5,750.0 L615.5,750.0 L616.5,750.1 L617.4,750.1 L618.4,750.1 L619.4,750.1 L620.4,750.2 L621.4,750.2 L622.3,750.2 L623.3,750.2 L624.3,750.2 L625.3,750.3 L626.2,750.3 L627.2,750.3 L628.2,750.3 L629.2,750.3 L630.1,750.3 L631.1,750.3 L632.1,750.3 L633.1,750.4 L634.0,750.4 L635.0,750.4 L636.0,750.4 L637.0,750.4 L637.9,750.4 L638.9,750.4 L639.9,750.4 L640.9,750.4 L641.8,750.4 L642.8,750.4 L643.8,750.4 L644.8,750.4 L645.8,750.4 L646.7,750.4 L647.7,750.4 L648.7,750.5 L649.7,750.5 L650.6,750.5 L651.6,750.5 L652.6,750.5 L653.6,750.5 L654.5,750.5 L655.5,750.5 L656.5,750.5 L657.5,750.5 L658.4,750.5 L659.4,750.5 L660.4,750.5 L661.4,750.5 L662.3,750.5 L663.3,750.5 L664.3,750.5 L665.3,750.5 L666.2,750.5 L667.2,750.5 L668.2,750.5" fill="none" stroke="#777" stroke-width="0.6"/>
<path d="M473.0,743.1 L474.0,743.1 L475.0,743.1 L475.9,743.1 L476.9,743.1 L477.9,743.1 L478.9,743.1 L479.8,743.1 L480.8,743.1 L481.8,743.1 L482.8,743.1 L483.7,743.1 L484.7,743.1 L485.7,743.1 L486.7,743.1 L487.6,743.1 L488.6,743.1 L489.6,743.1 L490.6,743.1 L491.5,743.1 L492.5,743.1 L493.5,743.1 L494.5,743.1 L495.4,743.1 L496.4,743.1 L497.4,743.1 L498.4,743.1 L499.4,743.1 L500.3,743.1 L501.3,743.1 L502.3,743.1 L503.3,743.1 L504.2,743.0 L505.2,743.0 L506.2,743.0 L507.2,743.0 L508.1,742.9 L509.1,742.9 L510.1,742.8 L511.1,742.8 L512.0,742.7 L513.0,742.6 L514.0,742.5 L515.0,742.4 L515.9,742.2 L516.9,742.1 L517.9,741.9 L518.9,741.6 L519.8,741.4 L520.8,741.1 L521.8,740.7 L522.8,740.3 L523.8,739.8 L524.7,739.3 L525.7,738.7 L526.7,738.0 L527.7,737.3 L528.6,736.4 L529.6,735.5 L530.6,734.4 L531.6,733.3 L532.5,732.0 L533.5,730.6 L534.5,729.1 L535.5,727.5 L536.4,725.7 L537.4,723.8 L538.4,721.7 L539.4,719.5 L540.3,717.2 L541.3,714.7 L542.3,712.0 L543.3,709.3 L544.2,706.4 L545.2,703.4 L546.2,700.2 L547.2,697.0 L548.2,693.7 L549.1,690.3 L550.1,686.8 L551.1,683.3 L552.1,679.7 L553.0,676.1 L554.0,672.6 L555.0,669.0 L556.0,665.5 L556.9,662.0 L557.9,658.6 L558.9,655.3 L559.9,652.2 L560.8,649.1 L561.8,646.2 L562.8,643.4 L563.8,640.8 L564.7,638.3 L565.7,636.1 L566.7,634.0 L567.7,632.1 L568.6,630.4 L569.6,629.0 L570.6,627.7 L571.6,626.6 L572.6,625.8 L573.5,625.1 L574.5,624.6 L575.5,624.4 L576.5,624.3 L577.4,624.4 L578.4,624.7 L579.4,625.2 L580.4,625.8 L581.3,626.7 L582.3,627.7 L583.3,628.9 L584.3,630.2 L585.2,631.7 L586.2,633.3 L587.2,635.1 L588.2,637.1 L589.1,639.2 L590.1,641.4 L591.1,643.8 L592.1,646.3 L593.0,648.9 L594.0,651.6 L595.0,654.5 L596.0,657.5 L597.0,660.5 L597.9,663.7 L598.9,666.9 L599.9,670.1 L600.9,673.5 L601.8,676.8 L602.8,680.2 L603.8,683.6 L604.8,687.0 L605.7,690.4 L606.7,693.7 L607.7,697.0 L608.7,700.3 L609.6,703.5 L610.6,706.6 L611.6,709.6 L612.6,712.5 L613.5,715.3 L614.5,718.0 L615.5,720.6 L616.5,723.1 L617.4,725.4 L618.4,727.6 L619.4,729.7 L620.4,731.6 L621.4,733.4 L622.3,735.1 L623.3,736.7 L624.3,738.1 L625.3,739.4 L626.2,740.7 L627.2,741.8 L628.2,742.8 L629.2,743.7 L630.1,744.5 L631.1,745.3 L632.1,745.9 L633.1,746.5 L634.0,747.0 L635.0,747.5 L636.0,747.9 L637.0,748.3 L637.9,748.6 L638.9,748.9 L639.9,749.1 L640.9,749.3 L641.8,749.5 L642.8,749.6 L643.8,749.8 L644.8,749.9 L645.8,750.0 L646.7,750.1 L647.7,750.1 L648.7,750.2 L649.7,750.2 L650.6,750.3 L651.6,750.3 L652.6,750.3 L653.6,750.4 L654.5,750.4 L655.5,750.4 L656.5,750.4 L657.5,750.4 L658.4,750.4 L659.4,750.5 L660.4,750.5 L661.4,750.5 L662.3,750.5 L663.3,750.5 L664.3,750.5 L665.3,750.5 L666.2,750.5 L667.2,750.5 L668.2,750.5" fill="none" stroke="#f02828" stroke-width="1.3"/>
<path d="M473.0,743.1 L474.0,743.1 L475.0,743.1 L475.9,743.1 L476.9,743.1 L477.9,743.1 L478.9,743.1 L479.8,743.1 L480.8,743.1 L481.8,743.1 L482.8,743.1 L483.7,743.1 L484.7,743.1 L485.7,743.1 L486.7,743.1 L487.6,743.1 L488.6,743.1 L489.6,743.1 L490.6,743.1 L491.5,743.1 L492.5,743.1 L493.5,743.1 L494.5,743.1 L495.4,743.1 L496.4,743.1 L497.4,743.1 L498.4,743.1 L499.4,743.1 L500.3,743.1 L501.3,743.1 L502.3,743.1 L503.3,743.1 L504.2,743.1 L505.2,743.0 L506.2,743.0 L507.2,743.0 L508.1,743.0 L509.1,742.9 L510.1,742.9 L511.1,742.8 L512.0,742.7 L513.0,742.7 L514.0,742.6 L515.0,742.4 L515.9,742.3 L516.9,742.1 L517.9,741.9 L518.9,741.7 L519.8,741.5 L520.8,741.2 L521.8,740.8 L522.8,740.4 L523.8,740.0 L524.7,739.5 L525.7,738.9 L526.7,738.3 L527.7,737.6 L528.6,736.8 L529.6,735.9 L530.6,734.9 L531.6,733.8 L532.5,732.6 L533.5,731.3 L534.5,729.9 L535.5,728.4 L536.4,726.7 L537.4,724.9 L538.4,723.0 L539.4,721.0 L540.3,718.8 L541.3,716.5 L542.3,714.1 L543.3,711.6 L544.2,709.0 L545.2,706.4 L546.2,703.6 L547.2,700.8 L548.2,697.9 L549.1,695.0 L550.1,692.1 L551.1,689.2 L552.1,686.4 L553.0,683.5 L554.0,680.8 L555.0,678.2 L556.0,675.6 L556.9,673.3 L557.9,671.0 L558.9,669.0 L559.9,667.2 L560.8,665.6 L561.8,664.2 L562.8,663.1 L563.8,662.3 L564.7,661.7 L565.7,661.4 L566.7,661.4 L567.7,661.7 L568.6,662.2 L569.6,663.1 L570.6,664.2 L571.6,665.6 L572.6,667.2 L573.5,669.1 L574.5,671.1 L575.5,673.4 L576.5,675.9 L577.4,678.5 L578.4,681.2 L579.4,684.1 L580.4,687.0 L581.3,690.1 L582.3,693.1 L583.3,696.2 L584.3,699.3 L585.2,702.3 L586.2,705.4 L587.2,708.3 L588.2,711.2 L589.1,714.1 L590.1,716.8 L591.1,719.4 L592.1,721.9 L593.0,724.3 L594.0,726.5 L595.0,728.7 L596.0,730.7 L597.0,732.6 L597.9,734.3 L598.9,735.9 L599.9,737.4 L600.9,738.8 L601.8,740.0 L602.8,741.2 L603.8,742.2 L604.8,743.2 L605.7,744.0 L606.7,744.8 L607.7,745.5 L608.7,746.1 L609.6,746.6 L610.6,747.1 L611.6,747.6 L612.6,747.9 L613.5,748.3 L614.5,748.6 L615.5,748.8 L616.5,749.0 L617.4,749.2 L618.4,749.4 L619.4,749.5 L620.4,749.7 L621.4,749.8 L622.3,749.9 L623.3,749.9 L624.3,750.0 L625.3,750.1 L626.2,750.1 L627.2,750.2 L628.2,750.2 L629.2,750.2 L630.1,750.3 L631.1,750.3 L632.1,750.3 L633.1,750.3 L634.0,750.3 L635.0,750.4 L636.0,750.4 L637.0,750.4 L637.9,750.4 L638.9,750.4 L639.9,750.4 L640.9,750.4 L641.8,750.4 L642.8,750.4 L643.8,750.4 L644.8,750.4 L645.8,750.4 L646.7,750.4 L647.7,750.4 L648.7,750.5 L649.7,750.5 L650.6,750.5 L651.6,750.5 L652.6,750.5 L653.6,750.5 L654.5,750.5 L655.5,750.5 L656.5,750.5 L657.5,750.5 L658.4,750.5 L659.4,750.5 L660.4,750.5 L661.4,750.5 L662.3,750.5 L663.3,750.5 L664.3,750.5 L665.3,750.5 L666.2,750.5 L667.2,750.5 L668.2,750.5" fill="none" stroke="#4a90e8" stroke-width="1.2"/>
<path d="M473.0,743.1 L474.0,743.1 L475.0,743.1 L475.9,743.1 L476.9,743.1 L477.9,743.1 L478.9,743.1 L479.8,743.1 L480.8,743.1 L481.8,743.1 L482.8,743.1 L483.7,743.1 L484.7,743.1 L485.7,743.1 L486.7,743.1 L487.6,743.1 L488.6,743.1 L489.6,743.1 L490.6,743.1 L491.5,743.1 L492.5,743.1 L493.5,743.1 L494.5,743.1 L495.4,743.1 L496.4,743.1 L497.4,743.1 L498.4,743.1 L499.4,743.1 L500.3,743.1 L501.3,743.1 L502.3,743.1 L503.3,743.1 L504.2,743.1 L505.2,743.1 L506.2,743.1 L507.2,743.1 L508.1,743.1 L509.1,743.2 L510.1,743.2 L511.1,743.2 L512.0,743.2 L513.0,743.2 L514.0,743.2 L515.0,743.2 L515.9,743.2 L516.9,743.2 L517.9,743.2 L518.9,743.2 L519.8,743.2 L520.8,743.2 L521.8,743.2 L522.8,743.2 L523.8,743.2 L524.7,743.2 L525.7,743.2 L526.7,743.2 L527.7,743.3 L528.6,743.3 L529.6,743.3 L530.6,743.3 L531.6,743.3 L532.5,743.2 L533.5,743.2 L534.5,743.2 L535.5,743.2 L536.4,743.2 L537.4,743.1 L538.4,743.1 L539.4,743.0 L540.3,743.0 L541.3,742.9 L542.3,742.8 L543.3,742.6 L544.2,742.5 L545.2,742.3 L546.2,742.1 L547.2,741.9 L548.2,741.6 L549.1,741.3 L550.1,740.9 L551.1,740.5 L552.1,740.0 L553.0,739.4 L554.0,738.8 L555.0,738.2 L556.0,737.4 L556.9,736.5 L557.9,735.6 L558.9,734.6 L559.9,733.5 L560.8,732.3 L561.8,730.9 L562.8,729.5 L563.8,728.0 L564.7,726.4 L565.7,724.6 L566.7,722.8 L567.7,720.9 L568.6,718.8 L569.6,716.7 L570.6,714.6 L571.6,712.3 L572.6,710.0 L573.5,707.7 L574.5,705.3 L575.5,702.9 L576.5,700.5 L577.4,698.1 L578.4,695.8 L579.4,693.5 L580.4,691.3 L581.3,689.2 L582.3,687.2 L583.3,685.4 L584.3,683.7 L585.2,682.1 L586.2,680.8 L587.2,679.6 L588.2,678.6 L589.1,677.9 L590.1,677.4 L591.1,677.1 L592.1,677.0 L593.0,677.2 L594.0,677.6 L595.0,678.3 L596.0,679.2 L597.0,680.3 L597.9,681.6 L598.9,683.1 L599.9,684.8 L600.9,686.7 L601.8,688.7 L602.8,690.8 L603.8,693.1 L604.8,695.5 L605.7,697.9 L606.7,700.4 L607.7,703.0 L608.7,705.5 L609.6,708.1 L610.6,710.6 L611.6,713.2 L612.6,715.6 L613.5,718.1 L614.5,720.4 L615.5,722.7 L616.5,724.9 L617.4,727.0 L618.4,729.0 L619.4,730.9 L620.4,732.6 L621.4,734.3 L622.3,735.9 L623.3,737.3 L624.3,738.7 L625.3,739.9 L626.2,741.1 L627.2,742.1 L628.2,743.1 L629.2,744.0 L630.1,744.7 L631.1,745.4 L632.1,746.1 L633.1,746.6 L634.0,747.2 L635.0,747.6 L636.0,748.0 L637.0,748.3 L637.9,748.6 L638.9,748.9 L639.9,749.1 L640.9,749.3 L641.8,749.5 L642.8,749.7 L643.8,749.8 L644.8,749.9 L645.8,750.0 L646.7,750.1 L647.7,750.1 L648.7,750.2 L649.7,750.2 L650.6,750.3 L651.6,750.3 L652.6,750.4 L653.6,750.4 L654.5,750.4 L655.5,750.4 L656.5,750.4 L657.5,750.4 L658.4,750.4 L659.4,750.5 L660.4,750.5 L661.4,750.5 L662.3,750.5 L663.3,750.5 L664.3,750.5 L665.3,750.5 L666.2,750.5 L667.2,750.5 L668.2,750.5" fill="none" stroke="#2820c0" stroke-width="1.2"/>
<rect x="473" y="604.4" width="195.2" height="166.0" fill="none" stroke="#000" stroke-width="1.2"/>
<line x1="493.0" y1="770.4" x2="493.0" y2="767.1999999999999" stroke="#000" stroke-width="1.1"/>
<text x="493.0" y="786.8" font-size="14.2" fill="#000" text-anchor="middle" font-weight="bold" >536</text>
<line x1="531.6" y1="770.4" x2="531.6" y2="767.1999999999999" stroke="#000" stroke-width="1.1"/>
<text x="531.6" y="786.8" font-size="14.2" fill="#000" text-anchor="middle" font-weight="bold" >534</text>
<line x1="570.2" y1="770.4" x2="570.2" y2="767.1999999999999" stroke="#000" stroke-width="1.1"/>
<text x="570.2" y="786.8" font-size="14.2" fill="#000" text-anchor="middle" font-weight="bold" >532</text>
<line x1="608.8" y1="770.4" x2="608.8" y2="767.1999999999999" stroke="#000" stroke-width="1.1"/>
<text x="608.8" y="786.8" font-size="14.2" fill="#000" text-anchor="middle" font-weight="bold" >530</text>
<line x1="647.4" y1="770.4" x2="647.4" y2="767.1999999999999" stroke="#000" stroke-width="1.1"/>
<text x="647.4" y="786.8" font-size="14.2" fill="#000" text-anchor="middle" font-weight="bold" >528</text>
<line x1="473.7" y1="770.4" x2="473.7" y2="768.4" stroke="#000" stroke-width="0.9"/>
<line x1="512.3" y1="770.4" x2="512.3" y2="768.4" stroke="#000" stroke-width="0.9"/>
<line x1="550.9" y1="770.4" x2="550.9" y2="768.4" stroke="#000" stroke-width="0.9"/>
<line x1="589.5" y1="770.4" x2="589.5" y2="768.4" stroke="#000" stroke-width="0.9"/>
<line x1="628.1" y1="770.4" x2="628.1" y2="768.4" stroke="#000" stroke-width="0.9"/>
<line x1="666.7" y1="770.4" x2="666.7" y2="768.4" stroke="#000" stroke-width="0.9"/>
<text x="570.0" y="803.5" font-size="14.6" fill="#000" text-anchor="middle" font-weight="bold" >Binding energy (eV)</text>
<text transform="translate(465.5,686.4) rotate(-90)" font-size="14.6" font-weight="bold" text-anchor="middle">Intensity (a.u.)</text>
<text x="452.0" y="609.2" font-size="15.5" fill="#000" text-anchor="start" font-weight="bold" >(k)</text>
<text x="633.0" y="620.2" font-size="13.8" fill="#000" text-anchor="middle" font-weight="bold" >O 1s</text>
<rect x="476.4" y="613.2" width="15.2" height="9" fill="url(#sw_gOv)" stroke="#4a90e8" stroke-width="1.1"/>
<text x="495.1" y="622.5" font-size="13.8" fill="#000" text-anchor="start" font-weight="bold" >O Vacancy</text>
<rect x="476.4" y="630.7" width="15.2" height="9" fill="url(#sw_gOm)" stroke="#2820c0" stroke-width="1.1"/>
<text x="495.1" y="640.0" font-size="13.8" fill="#000" text-anchor="start" font-weight="bold" >O-Metal-O</text>
</svg>
</body></html>
